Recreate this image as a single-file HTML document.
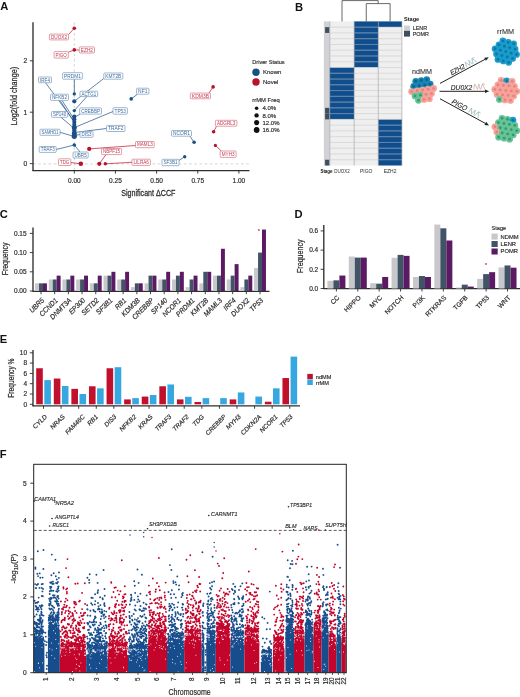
<!DOCTYPE html>
<html><head><meta charset="utf-8"><style>
html,body{margin:0;padding:0;background:#fff;}
svg{display:block;will-change:transform;}
text{font-family:"Liberation Sans", sans-serif;}
</style></head><body>
<svg width="520" height="697" viewBox="0 0 520 697">
<defs><filter id="bl" x="-20%" y="-20%" width="140%" height="140%"><feGaussianBlur stdDeviation="0.55"/></filter></defs>
<rect width="520" height="697" fill="#fff"/>
<text x="0.30" y="10.40" font-size="11.2" fill="#111" font-weight="bold">A</text>
<text x="295.00" y="10.80" font-size="11.2" fill="#111" font-weight="bold">B</text>
<text x="-0.20" y="218.40" font-size="11.2" fill="#111" font-weight="bold">C</text>
<text x="294.60" y="218.40" font-size="11.2" fill="#111" font-weight="bold">D</text>
<text x="-0.30" y="343.10" font-size="11.2" fill="#111" font-weight="bold">E</text>
<text x="-0.30" y="457.80" font-size="11.2" fill="#111" font-weight="bold">F</text>
<line x1="74.30" y1="22.50" x2="74.30" y2="170.00" stroke="#cfcfcf" stroke-width="0.9" stroke-dasharray="2.6,2.6"/>
<line x1="33.00" y1="163.90" x2="249.00" y2="163.90" stroke="#cfcfcf" stroke-width="0.9" stroke-dasharray="2.6,2.6"/>
<line x1="33.00" y1="22.30" x2="33.00" y2="171.00" stroke="#2e2e2e" stroke-width="1.35"/>
<line x1="32.50" y1="170.60" x2="249.50" y2="170.60" stroke="#2e2e2e" stroke-width="1.35"/>
<line x1="29.80" y1="163.60" x2="33.00" y2="163.60" stroke="#2e2e2e" stroke-width="0.9"/>
<text x="27.20" y="165.90" font-size="6.6" fill="#2c2c2c" stroke="#2c2c2c" stroke-width="0.185" text-anchor="end">0</text>
<line x1="29.80" y1="112.20" x2="33.00" y2="112.20" stroke="#2e2e2e" stroke-width="0.9"/>
<text x="27.20" y="114.50" font-size="6.6" fill="#2c2c2c" stroke="#2c2c2c" stroke-width="0.185" text-anchor="end">1</text>
<line x1="29.80" y1="60.80" x2="33.00" y2="60.80" stroke="#2e2e2e" stroke-width="0.9"/>
<text x="27.20" y="63.10" font-size="6.6" fill="#2c2c2c" stroke="#2c2c2c" stroke-width="0.185" text-anchor="end">2</text>
<line x1="74.30" y1="170.60" x2="74.30" y2="173.60" stroke="#2e2e2e" stroke-width="0.9"/>
<text x="74.30" y="182.60" font-size="6.5" fill="#2c2c2c" stroke="#2c2c2c" stroke-width="0.182" text-anchor="middle">0.00</text>
<line x1="115.45" y1="170.60" x2="115.45" y2="173.60" stroke="#2e2e2e" stroke-width="0.9"/>
<text x="115.45" y="182.60" font-size="6.5" fill="#2c2c2c" stroke="#2c2c2c" stroke-width="0.182" text-anchor="middle">0.25</text>
<line x1="156.60" y1="170.60" x2="156.60" y2="173.60" stroke="#2e2e2e" stroke-width="0.9"/>
<text x="156.60" y="182.60" font-size="6.5" fill="#2c2c2c" stroke="#2c2c2c" stroke-width="0.182" text-anchor="middle">0.50</text>
<line x1="197.75" y1="170.60" x2="197.75" y2="173.60" stroke="#2e2e2e" stroke-width="0.9"/>
<text x="197.75" y="182.60" font-size="6.5" fill="#2c2c2c" stroke="#2c2c2c" stroke-width="0.182" text-anchor="middle">0.75</text>
<line x1="238.90" y1="170.60" x2="238.90" y2="173.60" stroke="#2e2e2e" stroke-width="0.9"/>
<text x="238.90" y="182.60" font-size="6.5" fill="#2c2c2c" stroke="#2c2c2c" stroke-width="0.182" text-anchor="middle">1.00</text>
<text x="148.30" y="196.00" font-size="9.2" fill="#2c2c2c" stroke="#2c2c2c" stroke-width="0.258" text-anchor="middle" textLength="54.20" lengthAdjust="spacingAndGlyphs">Significant ΔCCF</text>
<text x="16.60" y="96.10" font-size="8.2" fill="#2c2c2c" stroke="#2c2c2c" stroke-width="0.230" text-anchor="middle" textLength="58.40" lengthAdjust="spacingAndGlyphs" transform="rotate(-90 16.60 96.10)">Log2(fold change)</text>
<line x1="68.50" y1="34.60" x2="74.30" y2="28.30" stroke="#b8112b" stroke-width="0.7"/>
<line x1="68.30" y1="52.20" x2="74.30" y2="49.90" stroke="#b8112b" stroke-width="0.7"/>
<line x1="74.30" y1="49.90" x2="79.30" y2="50.00" stroke="#b8112b" stroke-width="0.7"/>
<line x1="74.30" y1="79.20" x2="74.30" y2="93.80" stroke="#1c4f86" stroke-width="0.7"/>
<line x1="45.50" y1="82.70" x2="74.30" y2="121.50" stroke="#1c4f86" stroke-width="0.7"/>
<line x1="103.80" y1="78.50" x2="74.30" y2="101.30" stroke="#1c4f86" stroke-width="0.7"/>
<line x1="87.00" y1="96.40" x2="74.30" y2="110.60" stroke="#1c4f86" stroke-width="0.7"/>
<line x1="80.00" y1="114.00" x2="74.30" y2="117.50" stroke="#1c4f86" stroke-width="0.7"/>
<line x1="62.00" y1="100.40" x2="74.30" y2="119.50" stroke="#1c4f86" stroke-width="0.7"/>
<line x1="60.00" y1="100.40" x2="74.30" y2="122.50" stroke="#1c4f86" stroke-width="0.7"/>
<line x1="113.00" y1="111.50" x2="74.30" y2="127.60" stroke="#1c4f86" stroke-width="0.7"/>
<line x1="61.00" y1="117.30" x2="74.30" y2="128.50" stroke="#1c4f86" stroke-width="0.7"/>
<line x1="106.50" y1="128.50" x2="74.30" y2="132.50" stroke="#1c4f86" stroke-width="0.7"/>
<line x1="60.00" y1="132.30" x2="74.30" y2="136.50" stroke="#1c4f86" stroke-width="0.7"/>
<line x1="80.00" y1="134.50" x2="74.30" y2="135.50" stroke="#1c4f86" stroke-width="0.7"/>
<line x1="56.20" y1="149.50" x2="74.30" y2="145.00" stroke="#1c4f86" stroke-width="0.7"/>
<line x1="80.00" y1="152.00" x2="74.30" y2="145.00" stroke="#1c4f86" stroke-width="0.7"/>
<line x1="131.20" y1="98.90" x2="137.50" y2="94.20" stroke="#1c4f86" stroke-width="0.7"/>
<line x1="194.10" y1="142.30" x2="190.00" y2="136.20" stroke="#1c4f86" stroke-width="0.7"/>
<line x1="184.70" y1="156.70" x2="179.00" y2="160.50" stroke="#1c4f86" stroke-width="0.7"/>
<line x1="213.10" y1="86.90" x2="209.00" y2="93.10" stroke="#b8112b" stroke-width="0.7"/>
<line x1="213.60" y1="131.80" x2="216.50" y2="126.20" stroke="#b8112b" stroke-width="0.7"/>
<line x1="215.40" y1="145.40" x2="221.50" y2="151.20" stroke="#b8112b" stroke-width="0.7"/>
<line x1="89.20" y1="148.90" x2="135.50" y2="145.50" stroke="#b8112b" stroke-width="0.7"/>
<line x1="99.30" y1="163.80" x2="106.00" y2="154.60" stroke="#b8112b" stroke-width="0.7"/>
<line x1="105.30" y1="163.80" x2="132.00" y2="162.30" stroke="#b8112b" stroke-width="0.7"/>
<line x1="70.80" y1="162.50" x2="80.80" y2="163.80" stroke="#b8112b" stroke-width="0.7"/>
<circle cx="74.30" cy="28.30" r="1.80" fill="#b8112b"/>
<circle cx="74.30" cy="49.90" r="1.80" fill="#b8112b"/>
<circle cx="74.30" cy="93.90" r="1.70" fill="#1c4f86"/>
<circle cx="74.30" cy="101.30" r="2.10" fill="#1c4f86"/>
<circle cx="74.30" cy="110.60" r="1.70" fill="#1c4f86"/>
<circle cx="74.30" cy="116.50" r="2.10" fill="#1c4f86"/>
<circle cx="74.30" cy="119.20" r="2.10" fill="#1c4f86"/>
<circle cx="74.30" cy="122.00" r="2.10" fill="#1c4f86"/>
<circle cx="74.30" cy="124.50" r="2.00" fill="#1c4f86"/>
<circle cx="74.30" cy="127.60" r="2.50" fill="#1c4f86"/>
<circle cx="74.30" cy="130.50" r="2.20" fill="#1c4f86"/>
<circle cx="74.30" cy="133.50" r="2.50" fill="#1c4f86"/>
<circle cx="74.30" cy="136.30" r="2.60" fill="#1c4f86"/>
<circle cx="74.30" cy="145.00" r="1.80" fill="#1c4f86"/>
<circle cx="131.20" cy="98.90" r="1.80" fill="#1c4f86"/>
<circle cx="194.10" cy="142.30" r="1.80" fill="#1c4f86"/>
<circle cx="184.70" cy="156.70" r="1.70" fill="#1c4f86"/>
<circle cx="213.10" cy="86.90" r="1.80" fill="#b8112b"/>
<circle cx="213.60" cy="131.80" r="1.80" fill="#b8112b"/>
<circle cx="215.40" cy="145.40" r="1.60" fill="#b8112b"/>
<circle cx="89.20" cy="148.90" r="2.10" fill="#b8112b"/>
<circle cx="80.80" cy="163.80" r="2.30" fill="#b8112b"/>
<circle cx="99.30" cy="163.80" r="2.10" fill="#b8112b"/>
<circle cx="105.30" cy="163.80" r="1.70" fill="#b8112b"/>
<rect x="49.40" y="34.10" width="19.10" height="5.80" rx="0.9" fill="#fff" stroke="#d0596b" stroke-width="0.6"/>
<text x="58.95" y="38.70" font-size="4.8" fill="#c0394f" text-anchor="middle" textLength="16.10" lengthAdjust="spacingAndGlyphs">DUOX2</text>
<rect x="54.10" y="51.60" width="14.20" height="6.50" rx="0.9" fill="#fff" stroke="#d0596b" stroke-width="0.6"/>
<text x="61.20" y="56.55" font-size="4.8" fill="#c0394f" text-anchor="middle" textLength="11.20" lengthAdjust="spacingAndGlyphs">PIGO</text>
<rect x="79.30" y="46.90" width="15.20" height="6.10" rx="0.9" fill="#fff" stroke="#d0596b" stroke-width="0.6"/>
<text x="86.90" y="51.65" font-size="4.8" fill="#c0394f" text-anchor="middle" textLength="12.20" lengthAdjust="spacingAndGlyphs">EZH2</text>
<rect x="62.60" y="72.70" width="19.70" height="6.50" rx="0.9" fill="#fff" stroke="#5d86b2" stroke-width="0.6"/>
<text x="72.45" y="77.65" font-size="4.8" fill="#3f6d9c" text-anchor="middle" textLength="16.70" lengthAdjust="spacingAndGlyphs">PRDM1</text>
<rect x="38.50" y="77.00" width="13.00" height="5.70" rx="0.9" fill="#fff" stroke="#5d86b2" stroke-width="0.6"/>
<text x="45.00" y="81.55" font-size="4.8" fill="#3f6d9c" text-anchor="middle" textLength="10.00" lengthAdjust="spacingAndGlyphs">IRF4</text>
<rect x="103.80" y="73.00" width="19.00" height="6.20" rx="0.9" fill="#fff" stroke="#5d86b2" stroke-width="0.6"/>
<text x="113.30" y="77.80" font-size="4.8" fill="#3f6d9c" text-anchor="middle" textLength="16.00" lengthAdjust="spacingAndGlyphs">KMT2B</text>
<rect x="50.50" y="94.20" width="18.00" height="6.20" rx="0.9" fill="#fff" stroke="#5d86b2" stroke-width="0.6"/>
<text x="59.50" y="99.00" font-size="4.8" fill="#3f6d9c" text-anchor="middle" textLength="15.00" lengthAdjust="spacingAndGlyphs">NFKB2</text>
<rect x="80.00" y="91.20" width="17.70" height="5.40" rx="0.9" fill="#fff" stroke="#5d86b2" stroke-width="0.6"/>
<text x="88.85" y="95.60" font-size="4.8" fill="#3f6d9c" text-anchor="middle" textLength="14.70" lengthAdjust="spacingAndGlyphs">ACTG1</text>
<rect x="136.60" y="88.20" width="12.30" height="6.00" rx="0.9" fill="#fff" stroke="#5d86b2" stroke-width="0.6"/>
<text x="142.75" y="92.90" font-size="4.8" fill="#3f6d9c" text-anchor="middle" textLength="9.30" lengthAdjust="spacingAndGlyphs">NF1</text>
<rect x="79.70" y="107.90" width="21.80" height="6.20" rx="0.9" fill="#fff" stroke="#5d86b2" stroke-width="0.6"/>
<text x="90.60" y="112.70" font-size="4.8" fill="#3f6d9c" text-anchor="middle" textLength="18.80" lengthAdjust="spacingAndGlyphs">CREBBP</text>
<rect x="51.50" y="111.50" width="16.20" height="5.80" rx="0.9" fill="#fff" stroke="#5d86b2" stroke-width="0.6"/>
<text x="59.60" y="116.10" font-size="4.8" fill="#3f6d9c" text-anchor="middle" textLength="13.20" lengthAdjust="spacingAndGlyphs">SP140</text>
<rect x="113.00" y="107.70" width="14.40" height="6.50" rx="0.9" fill="#fff" stroke="#5d86b2" stroke-width="0.6"/>
<text x="120.20" y="112.65" font-size="4.8" fill="#3f6d9c" text-anchor="middle" textLength="11.40" lengthAdjust="spacingAndGlyphs">TP53</text>
<rect x="106.50" y="125.40" width="18.50" height="6.10" rx="0.9" fill="#fff" stroke="#5d86b2" stroke-width="0.6"/>
<text x="115.75" y="130.15" font-size="4.8" fill="#3f6d9c" text-anchor="middle" textLength="15.50" lengthAdjust="spacingAndGlyphs">TRAF2</text>
<rect x="40.00" y="129.20" width="20.00" height="6.10" rx="0.9" fill="#fff" stroke="#5d86b2" stroke-width="0.6"/>
<text x="50.00" y="133.95" font-size="4.8" fill="#3f6d9c" text-anchor="middle" textLength="17.00" lengthAdjust="spacingAndGlyphs">SAMHD1</text>
<rect x="80.00" y="131.60" width="13.00" height="5.70" rx="0.9" fill="#fff" stroke="#5d86b2" stroke-width="0.6"/>
<text x="86.50" y="136.15" font-size="4.8" fill="#3f6d9c" text-anchor="middle" textLength="10.00" lengthAdjust="spacingAndGlyphs">DIS3</text>
<rect x="39.20" y="146.50" width="17.00" height="5.90" rx="0.9" fill="#fff" stroke="#5d86b2" stroke-width="0.6"/>
<text x="47.70" y="151.15" font-size="4.8" fill="#3f6d9c" text-anchor="middle" textLength="14.00" lengthAdjust="spacingAndGlyphs">TRAF3</text>
<rect x="73.00" y="152.00" width="15.20" height="6.00" rx="0.9" fill="#fff" stroke="#5d86b2" stroke-width="0.6"/>
<text x="80.60" y="156.70" font-size="4.8" fill="#3f6d9c" text-anchor="middle" textLength="12.20" lengthAdjust="spacingAndGlyphs">UBR5</text>
<rect x="190.30" y="93.10" width="20.20" height="5.70" rx="0.9" fill="#fff" stroke="#d0596b" stroke-width="0.6"/>
<text x="200.40" y="97.65" font-size="4.8" fill="#c0394f" text-anchor="middle" textLength="17.20" lengthAdjust="spacingAndGlyphs">KDM3B</text>
<rect x="215.40" y="120.30" width="21.50" height="5.90" rx="0.9" fill="#fff" stroke="#d0596b" stroke-width="0.6"/>
<text x="226.15" y="124.95" font-size="4.8" fill="#c0394f" text-anchor="middle" textLength="18.50" lengthAdjust="spacingAndGlyphs">ADGRL3</text>
<rect x="171.50" y="130.50" width="20.00" height="5.70" rx="0.9" fill="#fff" stroke="#5d86b2" stroke-width="0.6"/>
<text x="181.50" y="135.05" font-size="4.8" fill="#3f6d9c" text-anchor="middle" textLength="17.00" lengthAdjust="spacingAndGlyphs">NCOR1</text>
<rect x="220.20" y="151.00" width="15.90" height="6.40" rx="0.9" fill="#fff" stroke="#d0596b" stroke-width="0.6"/>
<text x="228.15" y="155.90" font-size="4.8" fill="#c0394f" text-anchor="middle" textLength="12.90" lengthAdjust="spacingAndGlyphs">MYH3</text>
<rect x="162.00" y="159.30" width="17.00" height="6.40" rx="0.9" fill="#fff" stroke="#5d86b2" stroke-width="0.6"/>
<text x="170.50" y="164.20" font-size="4.8" fill="#3f6d9c" text-anchor="middle" textLength="14.00" lengthAdjust="spacingAndGlyphs">SF3B1</text>
<rect x="135.50" y="141.50" width="18.70" height="6.20" rx="0.9" fill="#fff" stroke="#d0596b" stroke-width="0.6"/>
<text x="144.85" y="146.30" font-size="4.8" fill="#c0394f" text-anchor="middle" textLength="15.70" lengthAdjust="spacingAndGlyphs">MAML3</text>
<rect x="101.50" y="148.50" width="20.10" height="6.10" rx="0.9" fill="#fff" stroke="#d0596b" stroke-width="0.6"/>
<text x="111.55" y="153.25" font-size="4.8" fill="#c0394f" text-anchor="middle" textLength="17.10" lengthAdjust="spacingAndGlyphs">NBPF15</text>
<rect x="132.00" y="159.20" width="18.40" height="6.20" rx="0.9" fill="#fff" stroke="#d0596b" stroke-width="0.6"/>
<text x="141.20" y="164.00" font-size="4.8" fill="#c0394f" text-anchor="middle" textLength="15.40" lengthAdjust="spacingAndGlyphs">LILRA6</text>
<rect x="58.50" y="158.80" width="12.30" height="6.70" rx="0.9" fill="#fff" stroke="#d0596b" stroke-width="0.6"/>
<text x="64.65" y="163.85" font-size="4.8" fill="#c0394f" text-anchor="middle" textLength="9.30" lengthAdjust="spacingAndGlyphs">TDG</text>
<text x="252.30" y="64.00" font-size="6.0" fill="#2c2c2c" stroke="#2c2c2c" stroke-width="0.168" textLength="32.30" lengthAdjust="spacingAndGlyphs">Driver Status</text>
<circle cx="256.00" cy="72.20" r="3.70" fill="#1c4f86"/>
<circle cx="256.00" cy="82.00" r="3.70" fill="#b8112b"/>
<text x="263.00" y="74.30" font-size="6.0" fill="#2c2c2c" stroke="#2c2c2c" stroke-width="0.168">Known</text>
<text x="263.00" y="84.20" font-size="6.0" fill="#2c2c2c" stroke="#2c2c2c" stroke-width="0.168">Novel</text>
<text x="252.30" y="101.50" font-size="6.0" fill="#2c2c2c" stroke="#2c2c2c" stroke-width="0.168" textLength="27.40" lengthAdjust="spacingAndGlyphs">rrMM Freq</text>
<circle cx="256.60" cy="108.20" r="1.80" fill="#111"/>
<text x="262.50" y="110.30" font-size="6.0" fill="#2c2c2c" stroke="#2c2c2c" stroke-width="0.168">4.0%</text>
<circle cx="256.60" cy="115.40" r="2.20" fill="#111"/>
<text x="262.50" y="117.50" font-size="6.0" fill="#2c2c2c" stroke="#2c2c2c" stroke-width="0.168">8.0%</text>
<circle cx="256.60" cy="122.60" r="2.55" fill="#111"/>
<text x="262.50" y="124.70" font-size="6.0" fill="#2c2c2c" stroke="#2c2c2c" stroke-width="0.168">12.0%</text>
<circle cx="256.60" cy="130.00" r="2.90" fill="#111"/>
<text x="262.50" y="132.10" font-size="6.0" fill="#2c2c2c" stroke="#2c2c2c" stroke-width="0.168">16.0%</text>
<rect x="324.30" y="21.40" width="5.50" height="144.10" fill="#d2d2d6"/>
<rect x="325.10" y="27.16" width="4.30" height="5.76" fill="#3c4e62"/>
<rect x="325.10" y="107.86" width="4.30" height="5.76" fill="#3c4e62"/>
<rect x="325.10" y="113.62" width="4.30" height="5.76" fill="#3c4e62"/>
<rect x="325.10" y="159.74" width="4.30" height="5.76" fill="#3c4e62"/>
<rect x="329.80" y="21.40" width="24.40" height="5.76" fill="#efefef"/>
<rect x="354.20" y="21.40" width="24.10" height="5.76" fill="#104d8c"/>
<rect x="378.30" y="21.40" width="23.60" height="5.76" fill="#104d8c"/>
<rect x="329.80" y="27.16" width="24.40" height="5.76" fill="#efefef"/>
<rect x="354.20" y="27.16" width="24.10" height="5.76" fill="#104d8c"/>
<rect x="378.30" y="27.16" width="23.60" height="5.76" fill="#efefef"/>
<rect x="329.80" y="32.93" width="24.40" height="5.76" fill="#efefef"/>
<rect x="354.20" y="32.93" width="24.10" height="5.76" fill="#104d8c"/>
<rect x="378.30" y="32.93" width="23.60" height="5.76" fill="#efefef"/>
<rect x="329.80" y="38.69" width="24.40" height="5.76" fill="#efefef"/>
<rect x="354.20" y="38.69" width="24.10" height="5.76" fill="#104d8c"/>
<rect x="378.30" y="38.69" width="23.60" height="5.76" fill="#efefef"/>
<rect x="329.80" y="44.46" width="24.40" height="5.76" fill="#efefef"/>
<rect x="354.20" y="44.46" width="24.10" height="5.76" fill="#104d8c"/>
<rect x="378.30" y="44.46" width="23.60" height="5.76" fill="#efefef"/>
<rect x="329.80" y="50.22" width="24.40" height="5.76" fill="#efefef"/>
<rect x="354.20" y="50.22" width="24.10" height="5.76" fill="#104d8c"/>
<rect x="378.30" y="50.22" width="23.60" height="5.76" fill="#efefef"/>
<rect x="329.80" y="55.98" width="24.40" height="5.76" fill="#efefef"/>
<rect x="354.20" y="55.98" width="24.10" height="5.76" fill="#104d8c"/>
<rect x="378.30" y="55.98" width="23.60" height="5.76" fill="#efefef"/>
<rect x="329.80" y="61.75" width="24.40" height="5.76" fill="#efefef"/>
<rect x="354.20" y="61.75" width="24.10" height="5.76" fill="#104d8c"/>
<rect x="378.30" y="61.75" width="23.60" height="5.76" fill="#efefef"/>
<rect x="329.80" y="67.51" width="24.40" height="5.76" fill="#104d8c"/>
<rect x="354.20" y="67.51" width="24.10" height="5.76" fill="#efefef"/>
<rect x="378.30" y="67.51" width="23.60" height="5.76" fill="#efefef"/>
<rect x="329.80" y="73.28" width="24.40" height="5.76" fill="#104d8c"/>
<rect x="354.20" y="73.28" width="24.10" height="5.76" fill="#efefef"/>
<rect x="378.30" y="73.28" width="23.60" height="5.76" fill="#efefef"/>
<rect x="329.80" y="79.04" width="24.40" height="5.76" fill="#104d8c"/>
<rect x="354.20" y="79.04" width="24.10" height="5.76" fill="#efefef"/>
<rect x="378.30" y="79.04" width="23.60" height="5.76" fill="#efefef"/>
<rect x="329.80" y="84.80" width="24.40" height="5.76" fill="#104d8c"/>
<rect x="354.20" y="84.80" width="24.10" height="5.76" fill="#efefef"/>
<rect x="378.30" y="84.80" width="23.60" height="5.76" fill="#efefef"/>
<rect x="329.80" y="90.57" width="24.40" height="5.76" fill="#104d8c"/>
<rect x="354.20" y="90.57" width="24.10" height="5.76" fill="#efefef"/>
<rect x="378.30" y="90.57" width="23.60" height="5.76" fill="#efefef"/>
<rect x="329.80" y="96.33" width="24.40" height="5.76" fill="#104d8c"/>
<rect x="354.20" y="96.33" width="24.10" height="5.76" fill="#efefef"/>
<rect x="378.30" y="96.33" width="23.60" height="5.76" fill="#efefef"/>
<rect x="329.80" y="102.10" width="24.40" height="5.76" fill="#104d8c"/>
<rect x="354.20" y="102.10" width="24.10" height="5.76" fill="#efefef"/>
<rect x="378.30" y="102.10" width="23.60" height="5.76" fill="#efefef"/>
<rect x="329.80" y="107.86" width="24.40" height="5.76" fill="#104d8c"/>
<rect x="354.20" y="107.86" width="24.10" height="5.76" fill="#efefef"/>
<rect x="378.30" y="107.86" width="23.60" height="5.76" fill="#efefef"/>
<rect x="329.80" y="113.62" width="24.40" height="5.76" fill="#104d8c"/>
<rect x="354.20" y="113.62" width="24.10" height="5.76" fill="#efefef"/>
<rect x="378.30" y="113.62" width="23.60" height="5.76" fill="#efefef"/>
<rect x="329.80" y="119.39" width="24.40" height="5.76" fill="#efefef"/>
<rect x="354.20" y="119.39" width="24.10" height="5.76" fill="#efefef"/>
<rect x="378.30" y="119.39" width="23.60" height="5.76" fill="#104d8c"/>
<rect x="329.80" y="125.15" width="24.40" height="5.76" fill="#efefef"/>
<rect x="354.20" y="125.15" width="24.10" height="5.76" fill="#efefef"/>
<rect x="378.30" y="125.15" width="23.60" height="5.76" fill="#104d8c"/>
<rect x="329.80" y="130.92" width="24.40" height="5.76" fill="#efefef"/>
<rect x="354.20" y="130.92" width="24.10" height="5.76" fill="#efefef"/>
<rect x="378.30" y="130.92" width="23.60" height="5.76" fill="#104d8c"/>
<rect x="329.80" y="136.68" width="24.40" height="5.76" fill="#efefef"/>
<rect x="354.20" y="136.68" width="24.10" height="5.76" fill="#efefef"/>
<rect x="378.30" y="136.68" width="23.60" height="5.76" fill="#104d8c"/>
<rect x="329.80" y="142.44" width="24.40" height="5.76" fill="#efefef"/>
<rect x="354.20" y="142.44" width="24.10" height="5.76" fill="#efefef"/>
<rect x="378.30" y="142.44" width="23.60" height="5.76" fill="#104d8c"/>
<rect x="329.80" y="148.21" width="24.40" height="5.76" fill="#efefef"/>
<rect x="354.20" y="148.21" width="24.10" height="5.76" fill="#efefef"/>
<rect x="378.30" y="148.21" width="23.60" height="5.76" fill="#104d8c"/>
<rect x="329.80" y="153.97" width="24.40" height="5.76" fill="#efefef"/>
<rect x="354.20" y="153.97" width="24.10" height="5.76" fill="#efefef"/>
<rect x="378.30" y="153.97" width="23.60" height="5.76" fill="#104d8c"/>
<rect x="329.80" y="159.74" width="24.40" height="5.76" fill="#efefef"/>
<rect x="354.20" y="159.74" width="24.10" height="5.76" fill="#efefef"/>
<rect x="378.30" y="159.74" width="23.60" height="5.76" fill="#104d8c"/>
<line x1="330.10" y1="27.16" x2="353.90" y2="27.16" stroke="#c9c9c9" stroke-width="0.6"/>
<line x1="354.50" y1="27.16" x2="378.00" y2="27.16" stroke="#c9c9c9" stroke-width="0.6"/>
<line x1="378.60" y1="27.16" x2="401.60" y2="27.16" stroke="#c9c9c9" stroke-width="0.6"/>
<line x1="330.10" y1="32.93" x2="353.90" y2="32.93" stroke="#c9c9c9" stroke-width="0.6"/>
<line x1="354.50" y1="32.93" x2="378.00" y2="32.93" stroke="#c9c9c9" stroke-width="0.6"/>
<line x1="378.60" y1="32.93" x2="401.60" y2="32.93" stroke="#c9c9c9" stroke-width="0.6"/>
<line x1="330.10" y1="38.69" x2="353.90" y2="38.69" stroke="#c9c9c9" stroke-width="0.6"/>
<line x1="354.50" y1="38.69" x2="378.00" y2="38.69" stroke="#c9c9c9" stroke-width="0.6"/>
<line x1="378.60" y1="38.69" x2="401.60" y2="38.69" stroke="#c9c9c9" stroke-width="0.6"/>
<line x1="330.10" y1="44.46" x2="353.90" y2="44.46" stroke="#c9c9c9" stroke-width="0.6"/>
<line x1="354.50" y1="44.46" x2="378.00" y2="44.46" stroke="#c9c9c9" stroke-width="0.6"/>
<line x1="378.60" y1="44.46" x2="401.60" y2="44.46" stroke="#c9c9c9" stroke-width="0.6"/>
<line x1="330.10" y1="50.22" x2="353.90" y2="50.22" stroke="#c9c9c9" stroke-width="0.6"/>
<line x1="354.50" y1="50.22" x2="378.00" y2="50.22" stroke="#c9c9c9" stroke-width="0.6"/>
<line x1="378.60" y1="50.22" x2="401.60" y2="50.22" stroke="#c9c9c9" stroke-width="0.6"/>
<line x1="330.10" y1="55.98" x2="353.90" y2="55.98" stroke="#c9c9c9" stroke-width="0.6"/>
<line x1="354.50" y1="55.98" x2="378.00" y2="55.98" stroke="#c9c9c9" stroke-width="0.6"/>
<line x1="378.60" y1="55.98" x2="401.60" y2="55.98" stroke="#c9c9c9" stroke-width="0.6"/>
<line x1="330.10" y1="61.75" x2="353.90" y2="61.75" stroke="#c9c9c9" stroke-width="0.6"/>
<line x1="354.50" y1="61.75" x2="378.00" y2="61.75" stroke="#c9c9c9" stroke-width="0.6"/>
<line x1="378.60" y1="61.75" x2="401.60" y2="61.75" stroke="#c9c9c9" stroke-width="0.6"/>
<line x1="330.10" y1="67.51" x2="353.90" y2="67.51" stroke="#c9c9c9" stroke-width="0.6"/>
<line x1="354.50" y1="67.51" x2="378.00" y2="67.51" stroke="#c9c9c9" stroke-width="0.6"/>
<line x1="378.60" y1="67.51" x2="401.60" y2="67.51" stroke="#c9c9c9" stroke-width="0.6"/>
<line x1="330.10" y1="73.28" x2="353.90" y2="73.28" stroke="#c9c9c9" stroke-width="0.6"/>
<line x1="354.50" y1="73.28" x2="378.00" y2="73.28" stroke="#c9c9c9" stroke-width="0.6"/>
<line x1="378.60" y1="73.28" x2="401.60" y2="73.28" stroke="#c9c9c9" stroke-width="0.6"/>
<line x1="330.10" y1="79.04" x2="353.90" y2="79.04" stroke="#c9c9c9" stroke-width="0.6"/>
<line x1="354.50" y1="79.04" x2="378.00" y2="79.04" stroke="#c9c9c9" stroke-width="0.6"/>
<line x1="378.60" y1="79.04" x2="401.60" y2="79.04" stroke="#c9c9c9" stroke-width="0.6"/>
<line x1="330.10" y1="84.80" x2="353.90" y2="84.80" stroke="#c9c9c9" stroke-width="0.6"/>
<line x1="354.50" y1="84.80" x2="378.00" y2="84.80" stroke="#c9c9c9" stroke-width="0.6"/>
<line x1="378.60" y1="84.80" x2="401.60" y2="84.80" stroke="#c9c9c9" stroke-width="0.6"/>
<line x1="330.10" y1="90.57" x2="353.90" y2="90.57" stroke="#c9c9c9" stroke-width="0.6"/>
<line x1="354.50" y1="90.57" x2="378.00" y2="90.57" stroke="#c9c9c9" stroke-width="0.6"/>
<line x1="378.60" y1="90.57" x2="401.60" y2="90.57" stroke="#c9c9c9" stroke-width="0.6"/>
<line x1="330.10" y1="96.33" x2="353.90" y2="96.33" stroke="#c9c9c9" stroke-width="0.6"/>
<line x1="354.50" y1="96.33" x2="378.00" y2="96.33" stroke="#c9c9c9" stroke-width="0.6"/>
<line x1="378.60" y1="96.33" x2="401.60" y2="96.33" stroke="#c9c9c9" stroke-width="0.6"/>
<line x1="330.10" y1="102.10" x2="353.90" y2="102.10" stroke="#c9c9c9" stroke-width="0.6"/>
<line x1="354.50" y1="102.10" x2="378.00" y2="102.10" stroke="#c9c9c9" stroke-width="0.6"/>
<line x1="378.60" y1="102.10" x2="401.60" y2="102.10" stroke="#c9c9c9" stroke-width="0.6"/>
<line x1="330.10" y1="107.86" x2="353.90" y2="107.86" stroke="#c9c9c9" stroke-width="0.6"/>
<line x1="354.50" y1="107.86" x2="378.00" y2="107.86" stroke="#c9c9c9" stroke-width="0.6"/>
<line x1="378.60" y1="107.86" x2="401.60" y2="107.86" stroke="#c9c9c9" stroke-width="0.6"/>
<line x1="330.10" y1="113.62" x2="353.90" y2="113.62" stroke="#c9c9c9" stroke-width="0.6"/>
<line x1="354.50" y1="113.62" x2="378.00" y2="113.62" stroke="#c9c9c9" stroke-width="0.6"/>
<line x1="378.60" y1="113.62" x2="401.60" y2="113.62" stroke="#c9c9c9" stroke-width="0.6"/>
<line x1="330.10" y1="119.39" x2="353.90" y2="119.39" stroke="#c9c9c9" stroke-width="0.6"/>
<line x1="354.50" y1="119.39" x2="378.00" y2="119.39" stroke="#c9c9c9" stroke-width="0.6"/>
<line x1="378.60" y1="119.39" x2="401.60" y2="119.39" stroke="#c9c9c9" stroke-width="0.6"/>
<line x1="330.10" y1="125.15" x2="353.90" y2="125.15" stroke="#c9c9c9" stroke-width="0.6"/>
<line x1="354.50" y1="125.15" x2="378.00" y2="125.15" stroke="#c9c9c9" stroke-width="0.6"/>
<line x1="378.60" y1="125.15" x2="401.60" y2="125.15" stroke="#c9c9c9" stroke-width="0.6"/>
<line x1="330.10" y1="130.92" x2="353.90" y2="130.92" stroke="#c9c9c9" stroke-width="0.6"/>
<line x1="354.50" y1="130.92" x2="378.00" y2="130.92" stroke="#c9c9c9" stroke-width="0.6"/>
<line x1="378.60" y1="130.92" x2="401.60" y2="130.92" stroke="#c9c9c9" stroke-width="0.6"/>
<line x1="330.10" y1="136.68" x2="353.90" y2="136.68" stroke="#c9c9c9" stroke-width="0.6"/>
<line x1="354.50" y1="136.68" x2="378.00" y2="136.68" stroke="#c9c9c9" stroke-width="0.6"/>
<line x1="378.60" y1="136.68" x2="401.60" y2="136.68" stroke="#c9c9c9" stroke-width="0.6"/>
<line x1="330.10" y1="142.44" x2="353.90" y2="142.44" stroke="#c9c9c9" stroke-width="0.6"/>
<line x1="354.50" y1="142.44" x2="378.00" y2="142.44" stroke="#c9c9c9" stroke-width="0.6"/>
<line x1="378.60" y1="142.44" x2="401.60" y2="142.44" stroke="#c9c9c9" stroke-width="0.6"/>
<line x1="330.10" y1="148.21" x2="353.90" y2="148.21" stroke="#c9c9c9" stroke-width="0.6"/>
<line x1="354.50" y1="148.21" x2="378.00" y2="148.21" stroke="#c9c9c9" stroke-width="0.6"/>
<line x1="378.60" y1="148.21" x2="401.60" y2="148.21" stroke="#c9c9c9" stroke-width="0.6"/>
<line x1="330.10" y1="153.97" x2="353.90" y2="153.97" stroke="#c9c9c9" stroke-width="0.6"/>
<line x1="354.50" y1="153.97" x2="378.00" y2="153.97" stroke="#c9c9c9" stroke-width="0.6"/>
<line x1="378.60" y1="153.97" x2="401.60" y2="153.97" stroke="#c9c9c9" stroke-width="0.6"/>
<line x1="330.10" y1="159.74" x2="353.90" y2="159.74" stroke="#c9c9c9" stroke-width="0.6"/>
<line x1="354.50" y1="159.74" x2="378.00" y2="159.74" stroke="#c9c9c9" stroke-width="0.6"/>
<line x1="378.60" y1="159.74" x2="401.60" y2="159.74" stroke="#c9c9c9" stroke-width="0.6"/>
<g>
<line x1="354.50" y1="27.16" x2="378.00" y2="27.16" stroke="#3f6e9e" stroke-width="0.7"/>
<line x1="354.50" y1="32.93" x2="378.00" y2="32.93" stroke="#3f6e9e" stroke-width="0.7"/>
<line x1="354.50" y1="38.69" x2="378.00" y2="38.69" stroke="#3f6e9e" stroke-width="0.7"/>
<line x1="354.50" y1="44.46" x2="378.00" y2="44.46" stroke="#3f6e9e" stroke-width="0.7"/>
<line x1="354.50" y1="50.22" x2="378.00" y2="50.22" stroke="#3f6e9e" stroke-width="0.7"/>
<line x1="354.50" y1="55.98" x2="378.00" y2="55.98" stroke="#3f6e9e" stroke-width="0.7"/>
<line x1="354.50" y1="61.75" x2="378.00" y2="61.75" stroke="#3f6e9e" stroke-width="0.7"/>
<line x1="330.10" y1="73.28" x2="353.90" y2="73.28" stroke="#3f6e9e" stroke-width="0.7"/>
<line x1="330.10" y1="79.04" x2="353.90" y2="79.04" stroke="#3f6e9e" stroke-width="0.7"/>
<line x1="330.10" y1="84.80" x2="353.90" y2="84.80" stroke="#3f6e9e" stroke-width="0.7"/>
<line x1="330.10" y1="90.57" x2="353.90" y2="90.57" stroke="#3f6e9e" stroke-width="0.7"/>
<line x1="330.10" y1="96.33" x2="353.90" y2="96.33" stroke="#3f6e9e" stroke-width="0.7"/>
<line x1="330.10" y1="102.10" x2="353.90" y2="102.10" stroke="#3f6e9e" stroke-width="0.7"/>
<line x1="330.10" y1="107.86" x2="353.90" y2="107.86" stroke="#3f6e9e" stroke-width="0.7"/>
<line x1="330.10" y1="113.62" x2="353.90" y2="113.62" stroke="#3f6e9e" stroke-width="0.7"/>
<line x1="378.60" y1="125.15" x2="401.60" y2="125.15" stroke="#3f6e9e" stroke-width="0.7"/>
<line x1="378.60" y1="130.92" x2="401.60" y2="130.92" stroke="#3f6e9e" stroke-width="0.7"/>
<line x1="378.60" y1="136.68" x2="401.60" y2="136.68" stroke="#3f6e9e" stroke-width="0.7"/>
<line x1="378.60" y1="142.44" x2="401.60" y2="142.44" stroke="#3f6e9e" stroke-width="0.7"/>
<line x1="378.60" y1="148.21" x2="401.60" y2="148.21" stroke="#3f6e9e" stroke-width="0.7"/>
<line x1="378.60" y1="153.97" x2="401.60" y2="153.97" stroke="#3f6e9e" stroke-width="0.7"/>
<line x1="378.60" y1="159.74" x2="401.60" y2="159.74" stroke="#3f6e9e" stroke-width="0.7"/>
</g>
<line x1="329.80" y1="21.40" x2="329.80" y2="165.50" stroke="#9a9a9a" stroke-width="0.6"/>
<line x1="354.20" y1="21.40" x2="354.20" y2="165.50" stroke="#9a9a9a" stroke-width="0.6"/>
<line x1="378.30" y1="21.40" x2="378.30" y2="165.50" stroke="#9a9a9a" stroke-width="0.6"/>
<line x1="401.90" y1="21.40" x2="401.90" y2="165.50" stroke="#9a9a9a" stroke-width="0.6"/>
<line x1="324.30" y1="21.40" x2="324.30" y2="165.50" stroke="#bbbbbb" stroke-width="0.5"/>
<path d="M342.00,21.4 V0.6 H378.18 V3.6 M366.25,21.4 V3.6 H390.10 V21.4" fill="none" stroke="#444" stroke-width="0.8"/>
<text x="332.60" y="172.80" font-size="5.0" fill="#111" text-anchor="end" font-weight="bold" textLength="12.20" lengthAdjust="spacingAndGlyphs">Stage</text>
<text x="334.20" y="172.80" font-size="5.0" fill="#2c2c2c" textLength="15.50" lengthAdjust="spacingAndGlyphs">DUOX2</text>
<text x="366.25" y="172.80" font-size="5.0" fill="#2c2c2c" text-anchor="middle">PIGO</text>
<text x="390.10" y="172.80" font-size="5.0" fill="#2c2c2c" text-anchor="middle">EZH2</text>
<text x="404.00" y="21.00" font-size="5.6" fill="#111" font-weight="bold">Stage</text>
<rect x="404.00" y="25.60" width="6.00" height="5.20" fill="#d2d2d6"/>
<rect x="404.00" y="30.80" width="6.00" height="5.80" fill="#3c4e62"/>
<text x="412.70" y="30.00" font-size="5.4" fill="#2c2c2c" stroke="#2c2c2c" stroke-width="0.151">LENR</text>
<text x="412.70" y="36.00" font-size="5.4" fill="#2c2c2c" stroke="#2c2c2c" stroke-width="0.151">POMR</text>
<line x1="33.00" y1="227.50" x2="33.00" y2="291.60" stroke="#2e2e2e" stroke-width="1.35"/>
<line x1="32.50" y1="291.30" x2="269.50" y2="291.30" stroke="#2e2e2e" stroke-width="1.35"/>
<line x1="29.80" y1="291.00" x2="33.00" y2="291.00" stroke="#2e2e2e" stroke-width="0.9"/>
<text x="26.60" y="293.30" font-size="6.5" fill="#2c2c2c" stroke="#2c2c2c" stroke-width="0.182" text-anchor="end">0.00</text>
<line x1="29.80" y1="271.80" x2="33.00" y2="271.80" stroke="#2e2e2e" stroke-width="0.9"/>
<text x="26.60" y="274.10" font-size="6.5" fill="#2c2c2c" stroke="#2c2c2c" stroke-width="0.182" text-anchor="end">0.05</text>
<line x1="29.80" y1="252.60" x2="33.00" y2="252.60" stroke="#2e2e2e" stroke-width="0.9"/>
<text x="26.60" y="254.90" font-size="6.5" fill="#2c2c2c" stroke="#2c2c2c" stroke-width="0.182" text-anchor="end">0.10</text>
<line x1="29.80" y1="233.40" x2="33.00" y2="233.40" stroke="#2e2e2e" stroke-width="0.9"/>
<text x="26.60" y="235.70" font-size="6.5" fill="#2c2c2c" stroke="#2c2c2c" stroke-width="0.182" text-anchor="end">0.15</text>
<text x="8.00" y="259.00" font-size="8.2" fill="#2c2c2c" stroke="#2c2c2c" stroke-width="0.230" text-anchor="middle" textLength="32.70" lengthAdjust="spacingAndGlyphs" transform="rotate(-90 8.00 259.00)">Frequency</text>
<rect x="35.08" y="283.32" width="3.95" height="7.68" fill="#c8c8cc"/>
<rect x="39.03" y="283.32" width="3.95" height="7.68" fill="#415466"/>
<rect x="42.98" y="283.32" width="3.95" height="7.68" fill="#5b1a63"/>
<line x1="41.00" y1="291.30" x2="41.00" y2="294.20" stroke="#2e2e2e" stroke-width="0.9"/>
<text x="44.60" y="300.80" font-size="7.2" fill="#2c2c2c" stroke="#2c2c2c" stroke-width="0.202" text-anchor="end" font-style="italic" textLength="17.61" lengthAdjust="spacingAndGlyphs" transform="rotate(-45 44.60 300.80)">UBR5</text>
<rect x="48.77" y="279.48" width="3.95" height="11.52" fill="#c8c8cc"/>
<rect x="52.72" y="279.48" width="3.95" height="11.52" fill="#415466"/>
<rect x="56.66" y="275.64" width="3.95" height="15.36" fill="#5b1a63"/>
<line x1="54.69" y1="291.30" x2="54.69" y2="294.20" stroke="#2e2e2e" stroke-width="0.9"/>
<text x="58.29" y="300.80" font-size="7.2" fill="#2c2c2c" stroke="#2c2c2c" stroke-width="0.202" text-anchor="end" font-style="italic" textLength="22.74" lengthAdjust="spacingAndGlyphs" transform="rotate(-45 58.29 300.80)">CCND1</text>
<rect x="62.45" y="279.48" width="3.95" height="11.52" fill="#c8c8cc"/>
<rect x="66.41" y="279.48" width="3.95" height="11.52" fill="#415466"/>
<rect x="70.36" y="275.64" width="3.95" height="15.36" fill="#5b1a63"/>
<line x1="68.38" y1="291.30" x2="68.38" y2="294.20" stroke="#2e2e2e" stroke-width="0.9"/>
<text x="71.98" y="300.80" font-size="7.2" fill="#2c2c2c" stroke="#2c2c2c" stroke-width="0.202" text-anchor="end" font-style="italic" textLength="27.13" lengthAdjust="spacingAndGlyphs" transform="rotate(-45 71.98 300.80)">DNMT3A</text>
<rect x="76.14" y="279.48" width="3.95" height="11.52" fill="#c8c8cc"/>
<rect x="80.09" y="279.48" width="3.95" height="11.52" fill="#415466"/>
<rect x="84.05" y="275.64" width="3.95" height="15.36" fill="#5b1a63"/>
<line x1="82.07" y1="291.30" x2="82.07" y2="294.20" stroke="#2e2e2e" stroke-width="0.9"/>
<text x="85.67" y="300.80" font-size="7.2" fill="#2c2c2c" stroke="#2c2c2c" stroke-width="0.202" text-anchor="end" font-style="italic" textLength="19.82" lengthAdjust="spacingAndGlyphs" transform="rotate(-45 85.67 300.80)">EP300</text>
<rect x="89.83" y="283.32" width="3.95" height="7.68" fill="#c8c8cc"/>
<rect x="93.78" y="283.32" width="3.95" height="7.68" fill="#415466"/>
<rect x="97.73" y="275.64" width="3.95" height="15.36" fill="#5b1a63"/>
<line x1="95.76" y1="291.30" x2="95.76" y2="294.20" stroke="#2e2e2e" stroke-width="0.9"/>
<text x="99.36" y="300.80" font-size="7.2" fill="#2c2c2c" stroke="#2c2c2c" stroke-width="0.202" text-anchor="end" font-style="italic" textLength="21.27" lengthAdjust="spacingAndGlyphs" transform="rotate(-45 99.36 300.80)">SETD2</text>
<rect x="103.53" y="275.64" width="3.95" height="15.36" fill="#c8c8cc"/>
<rect x="107.48" y="275.64" width="3.95" height="15.36" fill="#415466"/>
<rect x="111.43" y="271.80" width="3.95" height="19.20" fill="#5b1a63"/>
<line x1="109.45" y1="291.30" x2="109.45" y2="294.20" stroke="#2e2e2e" stroke-width="0.9"/>
<text x="113.05" y="300.80" font-size="7.2" fill="#2c2c2c" stroke="#2c2c2c" stroke-width="0.202" text-anchor="end" font-style="italic" textLength="20.18" lengthAdjust="spacingAndGlyphs" transform="rotate(-45 113.05 300.80)">SF3B1</text>
<rect x="117.22" y="279.48" width="3.95" height="11.52" fill="#c8c8cc"/>
<rect x="121.17" y="279.48" width="3.95" height="11.52" fill="#415466"/>
<rect x="125.12" y="271.80" width="3.95" height="19.20" fill="#5b1a63"/>
<line x1="123.14" y1="291.30" x2="123.14" y2="294.20" stroke="#2e2e2e" stroke-width="0.9"/>
<text x="126.74" y="300.80" font-size="7.2" fill="#2c2c2c" stroke="#2c2c2c" stroke-width="0.202" text-anchor="end" font-style="italic" textLength="12.84" lengthAdjust="spacingAndGlyphs" transform="rotate(-45 126.74 300.80)">RB1</text>
<rect x="130.90" y="287.16" width="3.95" height="3.84" fill="#c8c8cc"/>
<rect x="134.85" y="283.32" width="3.95" height="7.68" fill="#415466"/>
<rect x="138.80" y="283.32" width="3.95" height="7.68" fill="#5b1a63"/>
<line x1="136.83" y1="291.30" x2="136.83" y2="294.20" stroke="#2e2e2e" stroke-width="0.9"/>
<text x="140.43" y="300.80" font-size="7.2" fill="#2c2c2c" stroke="#2c2c2c" stroke-width="0.202" text-anchor="end" font-style="italic" textLength="22.74" lengthAdjust="spacingAndGlyphs" transform="rotate(-45 140.43 300.80)">KDM3B</text>
<rect x="144.59" y="283.32" width="3.95" height="7.68" fill="#c8c8cc"/>
<rect x="148.54" y="275.64" width="3.95" height="15.36" fill="#415466"/>
<rect x="152.49" y="275.64" width="3.95" height="15.36" fill="#5b1a63"/>
<line x1="150.52" y1="291.30" x2="150.52" y2="294.20" stroke="#2e2e2e" stroke-width="0.9"/>
<text x="154.12" y="300.80" font-size="7.2" fill="#2c2c2c" stroke="#2c2c2c" stroke-width="0.202" text-anchor="end" font-style="italic" textLength="27.14" lengthAdjust="spacingAndGlyphs" transform="rotate(-45 154.12 300.80)">CREBBP</text>
<rect x="158.28" y="279.48" width="3.95" height="11.52" fill="#c8c8cc"/>
<rect x="162.23" y="279.48" width="3.95" height="11.52" fill="#415466"/>
<rect x="166.18" y="271.80" width="3.95" height="19.20" fill="#5b1a63"/>
<line x1="164.21" y1="291.30" x2="164.21" y2="294.20" stroke="#2e2e2e" stroke-width="0.9"/>
<text x="167.81" y="300.80" font-size="7.2" fill="#2c2c2c" stroke="#2c2c2c" stroke-width="0.202" text-anchor="end" font-style="italic" textLength="19.82" lengthAdjust="spacingAndGlyphs" transform="rotate(-45 167.81 300.80)">SP140</text>
<rect x="171.97" y="279.48" width="3.95" height="11.52" fill="#c8c8cc"/>
<rect x="175.92" y="275.64" width="3.95" height="15.36" fill="#415466"/>
<rect x="179.88" y="271.80" width="3.95" height="19.20" fill="#5b1a63"/>
<line x1="177.90" y1="291.30" x2="177.90" y2="294.20" stroke="#2e2e2e" stroke-width="0.9"/>
<text x="181.50" y="300.80" font-size="7.2" fill="#2c2c2c" stroke="#2c2c2c" stroke-width="0.202" text-anchor="end" font-style="italic" textLength="23.10" lengthAdjust="spacingAndGlyphs" transform="rotate(-45 181.50 300.80)">NCOR1</text>
<rect x="185.66" y="287.16" width="3.95" height="3.84" fill="#c8c8cc"/>
<rect x="189.61" y="279.48" width="3.95" height="11.52" fill="#415466"/>
<rect x="193.56" y="275.64" width="3.95" height="15.36" fill="#5b1a63"/>
<line x1="191.59" y1="291.30" x2="191.59" y2="294.20" stroke="#2e2e2e" stroke-width="0.9"/>
<text x="195.19" y="300.80" font-size="7.2" fill="#2c2c2c" stroke="#2c2c2c" stroke-width="0.202" text-anchor="end" font-style="italic" textLength="23.10" lengthAdjust="spacingAndGlyphs" transform="rotate(-45 195.19 300.80)">PRDM1</text>
<rect x="199.35" y="283.32" width="3.95" height="7.68" fill="#c8c8cc"/>
<rect x="203.30" y="271.80" width="3.95" height="19.20" fill="#415466"/>
<rect x="207.25" y="271.80" width="3.95" height="19.20" fill="#5b1a63"/>
<line x1="205.28" y1="291.30" x2="205.28" y2="294.20" stroke="#2e2e2e" stroke-width="0.9"/>
<text x="208.88" y="300.80" font-size="7.2" fill="#2c2c2c" stroke="#2c2c2c" stroke-width="0.202" text-anchor="end" font-style="italic" textLength="22.00" lengthAdjust="spacingAndGlyphs" transform="rotate(-45 208.88 300.80)">KMT2B</text>
<rect x="213.04" y="275.64" width="3.95" height="15.36" fill="#c8c8cc"/>
<rect x="216.99" y="275.64" width="3.95" height="15.36" fill="#415466"/>
<rect x="220.94" y="248.76" width="3.95" height="42.24" fill="#5b1a63"/>
<line x1="218.97" y1="291.30" x2="218.97" y2="294.20" stroke="#2e2e2e" stroke-width="0.9"/>
<text x="222.57" y="300.80" font-size="7.2" fill="#2c2c2c" stroke="#2c2c2c" stroke-width="0.202" text-anchor="end" font-style="italic" textLength="22.74" lengthAdjust="spacingAndGlyphs" transform="rotate(-45 222.57 300.80)">MAML3</text>
<rect x="226.73" y="279.48" width="3.95" height="11.52" fill="#c8c8cc"/>
<rect x="230.68" y="275.64" width="3.95" height="15.36" fill="#415466"/>
<rect x="234.63" y="264.12" width="3.95" height="26.88" fill="#5b1a63"/>
<line x1="232.66" y1="291.30" x2="232.66" y2="294.20" stroke="#2e2e2e" stroke-width="0.9"/>
<text x="236.26" y="300.80" font-size="7.2" fill="#2c2c2c" stroke="#2c2c2c" stroke-width="0.202" text-anchor="end" font-style="italic" textLength="14.30" lengthAdjust="spacingAndGlyphs" transform="rotate(-45 236.26 300.80)">IRF4</text>
<rect x="240.42" y="287.16" width="3.95" height="3.84" fill="#c8c8cc"/>
<rect x="244.37" y="279.48" width="3.95" height="11.52" fill="#415466"/>
<rect x="248.32" y="275.64" width="3.95" height="15.36" fill="#5b1a63"/>
<line x1="246.35" y1="291.30" x2="246.35" y2="294.20" stroke="#2e2e2e" stroke-width="0.9"/>
<text x="249.95" y="300.80" font-size="7.2" fill="#2c2c2c" stroke="#2c2c2c" stroke-width="0.202" text-anchor="end" font-style="italic" textLength="22.74" lengthAdjust="spacingAndGlyphs" transform="rotate(-45 249.95 300.80)">DUOX2</text>
<rect x="254.11" y="267.96" width="3.95" height="23.04" fill="#c8c8cc"/>
<rect x="258.06" y="252.60" width="3.95" height="38.40" fill="#415466"/>
<rect x="262.01" y="229.56" width="3.95" height="61.44" fill="#5b1a63"/>
<line x1="260.04" y1="291.30" x2="260.04" y2="294.20" stroke="#2e2e2e" stroke-width="0.9"/>
<text x="263.64" y="300.80" font-size="7.2" fill="#2c2c2c" stroke="#2c2c2c" stroke-width="0.202" text-anchor="end" font-style="italic" textLength="15.77" lengthAdjust="spacingAndGlyphs" transform="rotate(-45 263.64 300.80)">TP53</text>
<text x="258.70" y="232.50" font-size="5.5" fill="#c8344a" stroke="#c8344a" stroke-width="0.154" text-anchor="middle">*</text>
<line x1="323.80" y1="225.00" x2="323.80" y2="289.00" stroke="#2e2e2e" stroke-width="1.35"/>
<line x1="323.30" y1="288.60" x2="520.00" y2="288.60" stroke="#2e2e2e" stroke-width="1.35"/>
<line x1="320.60" y1="288.50" x2="323.80" y2="288.50" stroke="#2e2e2e" stroke-width="0.9"/>
<text x="318.20" y="290.80" font-size="6.5" fill="#2c2c2c" stroke="#2c2c2c" stroke-width="0.182" text-anchor="end">0.0</text>
<line x1="320.60" y1="269.30" x2="323.80" y2="269.30" stroke="#2e2e2e" stroke-width="0.9"/>
<text x="318.20" y="271.60" font-size="6.5" fill="#2c2c2c" stroke="#2c2c2c" stroke-width="0.182" text-anchor="end">0.2</text>
<line x1="320.60" y1="250.10" x2="323.80" y2="250.10" stroke="#2e2e2e" stroke-width="0.9"/>
<text x="318.20" y="252.40" font-size="6.5" fill="#2c2c2c" stroke="#2c2c2c" stroke-width="0.182" text-anchor="end">0.4</text>
<line x1="320.60" y1="230.90" x2="323.80" y2="230.90" stroke="#2e2e2e" stroke-width="0.9"/>
<text x="318.20" y="233.20" font-size="6.5" fill="#2c2c2c" stroke="#2c2c2c" stroke-width="0.182" text-anchor="end">0.6</text>
<text x="302.60" y="256.20" font-size="8.2" fill="#2c2c2c" stroke="#2c2c2c" stroke-width="0.230" text-anchor="middle" textLength="33.60" lengthAdjust="spacingAndGlyphs" transform="rotate(-90 302.60 256.20)">Frequency</text>
<rect x="327.40" y="280.82" width="6.00" height="7.68" fill="#c8c8cc"/>
<rect x="333.40" y="280.34" width="6.00" height="8.16" fill="#415466"/>
<rect x="339.40" y="275.54" width="6.00" height="12.96" fill="#5b1a63"/>
<line x1="336.40" y1="288.60" x2="336.40" y2="291.50" stroke="#2e2e2e" stroke-width="0.9"/>
<text x="339.90" y="298.10" font-size="6.6" fill="#2c2c2c" stroke="#2c2c2c" stroke-width="0.185" text-anchor="end" transform="rotate(-45 339.90 298.10)">CC</text>
<rect x="348.79" y="256.53" width="6.00" height="31.97" fill="#c8c8cc"/>
<rect x="354.79" y="257.59" width="6.00" height="30.91" fill="#415466"/>
<rect x="360.79" y="257.59" width="6.00" height="30.91" fill="#5b1a63"/>
<line x1="357.79" y1="288.60" x2="357.79" y2="291.50" stroke="#2e2e2e" stroke-width="0.9"/>
<text x="361.29" y="298.10" font-size="6.6" fill="#2c2c2c" stroke="#2c2c2c" stroke-width="0.185" text-anchor="end" transform="rotate(-45 361.29 298.10)">HIPPO</text>
<rect x="370.18" y="283.22" width="6.00" height="5.28" fill="#c8c8cc"/>
<rect x="376.18" y="283.70" width="6.00" height="4.80" fill="#415466"/>
<rect x="382.18" y="276.98" width="6.00" height="11.52" fill="#5b1a63"/>
<line x1="379.18" y1="288.60" x2="379.18" y2="291.50" stroke="#2e2e2e" stroke-width="0.9"/>
<text x="382.68" y="298.10" font-size="6.6" fill="#2c2c2c" stroke="#2c2c2c" stroke-width="0.185" text-anchor="end" transform="rotate(-45 382.68 298.10)">MYC</text>
<rect x="391.57" y="257.78" width="6.00" height="30.72" fill="#c8c8cc"/>
<rect x="397.57" y="254.90" width="6.00" height="33.60" fill="#415466"/>
<rect x="403.57" y="255.86" width="6.00" height="32.64" fill="#5b1a63"/>
<line x1="400.57" y1="288.60" x2="400.57" y2="291.50" stroke="#2e2e2e" stroke-width="0.9"/>
<text x="404.07" y="298.10" font-size="6.6" fill="#2c2c2c" stroke="#2c2c2c" stroke-width="0.185" text-anchor="end" transform="rotate(-45 404.07 298.10)">NOTCH</text>
<rect x="412.96" y="276.98" width="6.00" height="11.52" fill="#c8c8cc"/>
<rect x="418.96" y="276.02" width="6.00" height="12.48" fill="#415466"/>
<rect x="424.96" y="276.98" width="6.00" height="11.52" fill="#5b1a63"/>
<line x1="421.96" y1="288.60" x2="421.96" y2="291.50" stroke="#2e2e2e" stroke-width="0.9"/>
<text x="425.46" y="298.10" font-size="6.6" fill="#2c2c2c" stroke="#2c2c2c" stroke-width="0.185" text-anchor="end" transform="rotate(-45 425.46 298.10)">PI3K</text>
<rect x="434.35" y="224.56" width="6.00" height="63.94" fill="#c8c8cc"/>
<rect x="440.35" y="228.31" width="6.00" height="60.19" fill="#415466"/>
<rect x="446.35" y="240.50" width="6.00" height="48.00" fill="#5b1a63"/>
<line x1="443.35" y1="288.60" x2="443.35" y2="291.50" stroke="#2e2e2e" stroke-width="0.9"/>
<text x="446.85" y="298.10" font-size="6.6" fill="#2c2c2c" stroke="#2c2c2c" stroke-width="0.185" text-anchor="end" transform="rotate(-45 446.85 298.10)">RTKRAS</text>
<rect x="455.74" y="287.54" width="6.00" height="0.96" fill="#c8c8cc"/>
<rect x="461.74" y="284.66" width="6.00" height="3.84" fill="#415466"/>
<rect x="467.74" y="286.58" width="6.00" height="1.92" fill="#5b1a63"/>
<line x1="464.74" y1="288.60" x2="464.74" y2="291.50" stroke="#2e2e2e" stroke-width="0.9"/>
<text x="468.24" y="298.10" font-size="6.6" fill="#2c2c2c" stroke="#2c2c2c" stroke-width="0.185" text-anchor="end" transform="rotate(-45 468.24 298.10)">TGFB</text>
<rect x="477.13" y="278.90" width="6.00" height="9.60" fill="#c8c8cc"/>
<rect x="483.13" y="274.10" width="6.00" height="14.40" fill="#415466"/>
<rect x="489.13" y="272.18" width="6.00" height="16.32" fill="#5b1a63"/>
<line x1="486.13" y1="288.60" x2="486.13" y2="291.50" stroke="#2e2e2e" stroke-width="0.9"/>
<text x="489.63" y="298.10" font-size="6.6" fill="#2c2c2c" stroke="#2c2c2c" stroke-width="0.185" text-anchor="end" transform="rotate(-45 489.63 298.10)">TP53</text>
<rect x="498.52" y="267.38" width="6.00" height="21.12" fill="#c8c8cc"/>
<rect x="504.52" y="265.46" width="6.00" height="23.04" fill="#415466"/>
<rect x="510.52" y="267.67" width="6.00" height="20.83" fill="#5b1a63"/>
<line x1="507.52" y1="288.60" x2="507.52" y2="291.50" stroke="#2e2e2e" stroke-width="0.9"/>
<text x="511.02" y="298.10" font-size="6.6" fill="#2c2c2c" stroke="#2c2c2c" stroke-width="0.185" text-anchor="end" transform="rotate(-45 511.02 298.10)">WNT</text>
<text x="486.00" y="266.50" font-size="5.5" fill="#c8344a" stroke="#c8344a" stroke-width="0.154" text-anchor="middle">*</text>
<text x="491.50" y="229.90" font-size="5.6" fill="#2c2c2c" stroke="#2c2c2c" stroke-width="0.157">Stage</text>
<rect x="491.50" y="233.60" width="6.20" height="6.00" fill="#c8c8cc"/>
<text x="500.60" y="238.50" font-size="5.8" fill="#2c2c2c" stroke="#2c2c2c" stroke-width="0.162">NDMM</text>
<rect x="491.50" y="241.00" width="6.20" height="6.00" fill="#415466"/>
<text x="500.60" y="245.90" font-size="5.8" fill="#2c2c2c" stroke="#2c2c2c" stroke-width="0.162">LENR</text>
<rect x="491.50" y="248.50" width="6.20" height="6.00" fill="#5b1a63"/>
<text x="500.60" y="253.40" font-size="5.8" fill="#2c2c2c" stroke="#2c2c2c" stroke-width="0.162">POMR</text>
<line x1="33.00" y1="350.00" x2="33.00" y2="406.30" stroke="#2e2e2e" stroke-width="1.35"/>
<line x1="32.50" y1="405.80" x2="300.00" y2="405.80" stroke="#2e2e2e" stroke-width="1.35"/>
<line x1="29.80" y1="404.30" x2="33.00" y2="404.30" stroke="#2e2e2e" stroke-width="0.9"/>
<text x="27.00" y="406.60" font-size="6.5" fill="#2c2c2c" stroke="#2c2c2c" stroke-width="0.182" text-anchor="end">0</text>
<line x1="29.80" y1="394.00" x2="33.00" y2="394.00" stroke="#2e2e2e" stroke-width="0.9"/>
<text x="27.00" y="396.30" font-size="6.5" fill="#2c2c2c" stroke="#2c2c2c" stroke-width="0.182" text-anchor="end">2</text>
<line x1="29.80" y1="383.70" x2="33.00" y2="383.70" stroke="#2e2e2e" stroke-width="0.9"/>
<text x="27.00" y="386.00" font-size="6.5" fill="#2c2c2c" stroke="#2c2c2c" stroke-width="0.182" text-anchor="end">4</text>
<line x1="29.80" y1="373.40" x2="33.00" y2="373.40" stroke="#2e2e2e" stroke-width="0.9"/>
<text x="27.00" y="375.70" font-size="6.5" fill="#2c2c2c" stroke="#2c2c2c" stroke-width="0.182" text-anchor="end">6</text>
<line x1="29.80" y1="363.10" x2="33.00" y2="363.10" stroke="#2e2e2e" stroke-width="0.9"/>
<text x="27.00" y="365.40" font-size="6.5" fill="#2c2c2c" stroke="#2c2c2c" stroke-width="0.182" text-anchor="end">8</text>
<line x1="29.80" y1="352.80" x2="33.00" y2="352.80" stroke="#2e2e2e" stroke-width="0.9"/>
<text x="27.00" y="355.10" font-size="6.5" fill="#2c2c2c" stroke="#2c2c2c" stroke-width="0.182" text-anchor="end">10</text>
<text x="13.60" y="378.10" font-size="8.2" fill="#2c2c2c" stroke="#2c2c2c" stroke-width="0.230" text-anchor="middle" textLength="39.20" lengthAdjust="spacingAndGlyphs" transform="rotate(-90 13.60 378.10)">Frequency %</text>
<rect x="36.20" y="368.25" width="6.60" height="36.05" fill="#c0102c"/>
<rect x="44.30" y="380.10" width="6.60" height="24.20" fill="#36a7e0"/>
<line x1="43.50" y1="405.80" x2="43.50" y2="408.80" stroke="#2e2e2e" stroke-width="0.9"/>
<text x="35.39" y="429.23" font-size="6.4" fill="#2c2c2c" stroke="#2c2c2c" stroke-width="0.179" font-style="italic" transform="rotate(-45 35.39 429.23)">CYLD</text>
<rect x="53.79" y="378.55" width="6.60" height="25.75" fill="#c0102c"/>
<rect x="61.89" y="386.02" width="6.60" height="18.28" fill="#36a7e0"/>
<line x1="61.09" y1="405.80" x2="61.09" y2="408.80" stroke="#2e2e2e" stroke-width="0.9"/>
<text x="52.73" y="429.73" font-size="6.4" fill="#2c2c2c" stroke="#2c2c2c" stroke-width="0.179" font-style="italic" transform="rotate(-45 52.73 429.73)">NRAS</text>
<rect x="71.38" y="388.85" width="6.60" height="15.45" fill="#c0102c"/>
<rect x="79.48" y="394.00" width="6.60" height="10.30" fill="#36a7e0"/>
<line x1="78.68" y1="405.80" x2="78.68" y2="408.80" stroke="#2e2e2e" stroke-width="0.9"/>
<text x="67.85" y="434.67" font-size="6.4" fill="#2c2c2c" stroke="#2c2c2c" stroke-width="0.179" font-style="italic" transform="rotate(-45 67.85 434.67)">FAM46C</text>
<rect x="88.97" y="386.28" width="6.60" height="18.02" fill="#c0102c"/>
<rect x="97.07" y="388.34" width="6.60" height="15.96" fill="#36a7e0"/>
<line x1="96.27" y1="405.80" x2="96.27" y2="408.80" stroke="#2e2e2e" stroke-width="0.9"/>
<text x="89.80" y="425.96" font-size="6.4" fill="#2c2c2c" stroke="#2c2c2c" stroke-width="0.179" font-style="italic" transform="rotate(-45 89.80 425.96)">RB1</text>
<rect x="106.56" y="368.25" width="6.60" height="36.05" fill="#c0102c"/>
<rect x="114.66" y="367.22" width="6.60" height="37.08" fill="#36a7e0"/>
<line x1="113.86" y1="405.80" x2="113.86" y2="408.80" stroke="#2e2e2e" stroke-width="0.9"/>
<text x="106.76" y="427.22" font-size="6.4" fill="#2c2c2c" stroke="#2c2c2c" stroke-width="0.179" font-style="italic" transform="rotate(-45 106.76 427.22)">DIS3</text>
<rect x="124.15" y="399.41" width="6.60" height="4.89" fill="#c0102c"/>
<rect x="132.25" y="398.12" width="6.60" height="6.18" fill="#36a7e0"/>
<line x1="131.45" y1="405.80" x2="131.45" y2="408.80" stroke="#2e2e2e" stroke-width="0.9"/>
<text x="122.09" y="431.74" font-size="6.4" fill="#2c2c2c" stroke="#2c2c2c" stroke-width="0.179" font-style="italic" transform="rotate(-45 122.09 431.74)">NFKB2</text>
<rect x="141.74" y="396.57" width="6.60" height="7.73" fill="#c0102c"/>
<rect x="149.84" y="395.03" width="6.60" height="9.27" fill="#36a7e0"/>
<line x1="149.04" y1="405.80" x2="149.04" y2="408.80" stroke="#2e2e2e" stroke-width="0.9"/>
<text x="140.81" y="429.48" font-size="6.4" fill="#2c2c2c" stroke="#2c2c2c" stroke-width="0.179" font-style="italic" transform="rotate(-45 140.81 429.48)">KRAS</text>
<rect x="159.33" y="386.28" width="6.60" height="18.02" fill="#c0102c"/>
<rect x="167.43" y="384.47" width="6.60" height="19.83" fill="#36a7e0"/>
<line x1="166.63" y1="405.80" x2="166.63" y2="408.80" stroke="#2e2e2e" stroke-width="0.9"/>
<text x="157.39" y="431.49" font-size="6.4" fill="#2c2c2c" stroke="#2c2c2c" stroke-width="0.179" font-style="italic" transform="rotate(-45 157.39 431.49)">TRAF3</text>
<rect x="176.92" y="399.41" width="6.60" height="4.89" fill="#c0102c"/>
<rect x="185.02" y="396.83" width="6.60" height="7.47" fill="#36a7e0"/>
<line x1="184.22" y1="405.80" x2="184.22" y2="408.80" stroke="#2e2e2e" stroke-width="0.9"/>
<text x="174.98" y="431.49" font-size="6.4" fill="#2c2c2c" stroke="#2c2c2c" stroke-width="0.179" font-style="italic" transform="rotate(-45 174.98 431.49)">TRAF2</text>
<rect x="194.51" y="401.98" width="6.60" height="2.32" fill="#c0102c"/>
<rect x="202.61" y="398.12" width="6.60" height="6.18" fill="#36a7e0"/>
<line x1="201.81" y1="405.80" x2="201.81" y2="408.80" stroke="#2e2e2e" stroke-width="0.9"/>
<text x="194.96" y="426.71" font-size="6.4" fill="#2c2c2c" stroke="#2c2c2c" stroke-width="0.179" font-style="italic" transform="rotate(-45 194.96 426.71)">TDG</text>
<rect x="220.20" y="398.12" width="6.60" height="6.18" fill="#36a7e0"/>
<line x1="219.40" y1="405.80" x2="219.40" y2="408.80" stroke="#2e2e2e" stroke-width="0.9"/>
<text x="208.02" y="435.77" font-size="6.4" fill="#2c2c2c" stroke="#2c2c2c" stroke-width="0.179" font-style="italic" transform="rotate(-45 208.02 435.77)">CREBBP</text>
<rect x="229.69" y="399.41" width="6.60" height="4.89" fill="#c0102c"/>
<rect x="237.79" y="392.45" width="6.60" height="11.85" fill="#36a7e0"/>
<line x1="236.99" y1="405.80" x2="236.99" y2="408.80" stroke="#2e2e2e" stroke-width="0.9"/>
<text x="228.63" y="429.73" font-size="6.4" fill="#2c2c2c" stroke="#2c2c2c" stroke-width="0.179" font-style="italic" transform="rotate(-45 228.63 429.73)">MYH3</text>
<rect x="255.38" y="396.57" width="6.60" height="7.73" fill="#36a7e0"/>
<line x1="254.58" y1="405.80" x2="254.58" y2="408.80" stroke="#2e2e2e" stroke-width="0.9"/>
<text x="243.33" y="435.51" font-size="6.4" fill="#2c2c2c" stroke="#2c2c2c" stroke-width="0.179" font-style="italic" transform="rotate(-45 243.33 435.51)">CDKN2A</text>
<rect x="264.87" y="401.73" width="6.60" height="2.57" fill="#c0102c"/>
<rect x="272.97" y="388.34" width="6.60" height="15.96" fill="#36a7e0"/>
<line x1="272.17" y1="405.80" x2="272.17" y2="408.80" stroke="#2e2e2e" stroke-width="0.9"/>
<text x="262.18" y="433.00" font-size="6.4" fill="#2c2c2c" stroke="#2c2c2c" stroke-width="0.179" font-style="italic" transform="rotate(-45 262.18 433.00)">NCOR1</text>
<rect x="282.46" y="378.04" width="6.60" height="26.26" fill="#c0102c"/>
<rect x="290.56" y="356.61" width="6.60" height="47.69" fill="#36a7e0"/>
<line x1="289.76" y1="405.80" x2="289.76" y2="408.80" stroke="#2e2e2e" stroke-width="0.9"/>
<text x="282.28" y="427.97" font-size="6.4" fill="#2c2c2c" stroke="#2c2c2c" stroke-width="0.179" font-style="italic" transform="rotate(-45 282.28 427.97)">TP53</text>
<rect x="307.30" y="373.90" width="5.50" height="5.30" fill="#c0102c"/>
<rect x="307.30" y="379.50" width="5.50" height="5.50" fill="#36a7e0"/>
<text x="315.80" y="378.60" font-size="5.6" fill="#2c2c2c" stroke="#2c2c2c" stroke-width="0.157">ndMM</text>
<text x="315.80" y="384.50" font-size="5.6" fill="#2c2c2c" stroke="#2c2c2c" stroke-width="0.157">rrMM</text>
<rect x="33.70" y="643.14" width="10.70" height="29.56" fill="#174d8c"/>
<rect x="47.90" y="629.87" width="11.90" height="42.83" fill="#174d8c"/>
<rect x="59.80" y="656.02" width="26.40" height="16.68" fill="#c3052b"/>
<rect x="86.20" y="658.30" width="21.60" height="14.40" fill="#174d8c"/>
<rect x="107.80" y="655.27" width="20.20" height="17.43" fill="#c3052b"/>
<rect x="128.00" y="657.54" width="20.00" height="15.16" fill="#174d8c"/>
<rect x="148.00" y="642.38" width="19.00" height="30.32" fill="#c3052b"/>
<rect x="167.00" y="646.17" width="17.20" height="26.53" fill="#174d8c"/>
<rect x="184.20" y="643.14" width="17.30" height="29.56" fill="#c3052b"/>
<rect x="201.50" y="646.93" width="2.90" height="25.77" fill="#174d8c"/>
<rect x="206.30" y="643.14" width="9.50" height="29.56" fill="#174d8c"/>
<rect x="215.80" y="638.59" width="14.60" height="34.11" fill="#c3052b"/>
<rect x="230.40" y="645.03" width="14.00" height="27.67" fill="#174d8c"/>
<rect x="244.40" y="641.24" width="14.90" height="31.46" fill="#c3052b"/>
<rect x="260.80" y="662.09" width="11.50" height="10.61" fill="#174d8c"/>
<rect x="273.00" y="649.96" width="11.50" height="22.74" fill="#c3052b"/>
<rect x="285.40" y="631.77" width="8.60" height="40.93" fill="#174d8c"/>
<rect x="294.00" y="643.14" width="10.60" height="29.56" fill="#c3052b"/>
<rect x="304.60" y="633.66" width="8.70" height="39.04" fill="#174d8c"/>
<rect x="313.30" y="635.56" width="8.20" height="37.14" fill="#c3052b"/>
<rect x="321.50" y="631.77" width="7.20" height="40.93" fill="#174d8c"/>
<rect x="328.70" y="646.17" width="7.60" height="26.53" fill="#c3052b"/>
<rect x="336.30" y="641.24" width="5.20" height="31.46" fill="#174d8c"/>
<rect x="341.50" y="643.14" width="4.30" height="29.56" fill="#c3052b"/>
<path d="M34.6 638.9h0M37.2 632.8h0M36.3 639.6h0M36.0 636.7h0M38.4 643.2h0M36.1 636.7h0M37.7 636.9h0M35.3 630.9h0M38.3 630.6h0M35.8 637.6h0M36.2 634.4h0M34.7 640.0h0M43.3 640.0h0M41.3 630.6h0M43.1 645.0h0M41.5 632.2h0M35.4 642.4h0M42.6 638.9h0M41.2 636.5h0M39.3 641.6h0M42.0 634.5h0M36.6 633.1h0M36.5 632.1h0M39.6 633.2h0M39.9 642.3h0M43.2 637.4h0M36.0 644.4h0M42.1 630.5h0M36.6 642.8h0M35.9 637.1h0M34.9 640.2h0M35.2 634.5h0M42.9 630.3h0M41.5 633.4h0M40.7 639.6h0M38.9 633.8h0M40.2 644.1h0M40.1 640.2h0M43.2 638.8h0M41.5 642.1h0M39.6 634.7h0M36.0 643.8h0M36.6 630.7h0M37.1 642.6h0M39.2 637.1h0M34.5 645.0h0M36.2 637.7h0M41.8 636.1h0M39.1 643.6h0M41.7 639.0h0M38.3 630.9h0M42.5 641.4h0M37.5 644.6h0M36.1 639.2h0M39.2 635.0h0M38.3 641.4h0M37.5 634.8h0M38.7 644.0h0M40.2 642.1h0M35.7 642.0h0M37.5 631.8h0M39.4 640.7h0M40.6 634.8h0M36.9 633.2h0M37.8 638.7h0M39.7 637.4h0M35.1 635.7h0M40.9 639.5h0M41.3 644.5h0M38.2 634.9h0M36.9 638.4h0M38.9 634.1h0M34.8 641.1h0M42.9 639.9h0M40.2 635.0h0M34.8 631.2h0M36.2 636.1h0M36.2 639.2h0M42.7 639.9h0M42.2 634.3h0M37.2 643.9h0M34.9 633.4h0M35.2 642.2h0M36.6 632.9h0M34.6 638.8h0M39.2 643.4h0M37.6 633.3h0M34.9 640.3h0M35.9 643.6h0M39.7 642.0h0M43.4 639.7h0M42.3 640.8h0M39.3 643.7h0M40.5 636.9h0M39.3 639.0h0M35.9 633.5h0M39.9 630.8h0M36.0 609.6h0M34.7 637.0h0M42.4 621.7h0M41.9 639.7h0M34.7 622.1h0M34.9 634.2h0M41.8 641.4h0M39.6 648.1h0M35.5 650.2h0M35.4 567.4h0M37.3 573.7h0M39.0 649.0h0M36.5 650.2h0M41.3 644.9h0M39.9 646.9h0M43.5 644.2h0M39.5 587.9h0M40.3 577.7h0M42.2 615.3h0M36.3 651.5h0M41.5 609.3h0M35.6 629.0h0M36.6 643.3h0M40.5 619.4h0M40.4 628.9h0M42.8 596.3h0M34.8 648.7h0M42.8 583.9h0M38.1 639.1h0M38.3 619.8h0M36.8 648.6h0M39.7 641.8h0M41.1 646.6h0M41.8 623.8h0M39.2 624.3h0M34.7 616.5h0M40.2 645.6h0M38.1 651.1h0M39.6 645.1h0M35.3 643.9h0M36.8 608.0h0M34.7 629.1h0M41.7 628.8h0M37.5 609.2h0M40.0 648.0h0M37.1 641.7h0M38.1 645.3h0M38.2 620.0h0M41.1 623.0h0M39.7 605.7h0M40.5 630.5h0M38.3 647.1h0M41.2 618.1h0M36.9 602.7h0M38.3 641.4h0M35.3 638.0h0M40.3 638.1h0M36.6 614.5h0M41.3 624.9h0M34.6 647.2h0M40.7 647.0h0M38.0 584.0h0M40.2 641.5h0M34.9 641.3h0M40.0 644.0h0M37.7 634.9h0M35.7 638.0h0M37.9 611.4h0M39.7 619.3h0M41.7 587.9h0M38.6 647.9h0M41.4 651.5h0M43.4 644.6h0M39.1 644.8h0M42.0 633.1h0M42.5 626.7h0M35.4 641.2h0M34.9 646.2h0M40.7 617.7h0M41.6 612.8h0M35.1 648.1h0M34.5 622.0h0M39.8 640.4h0M40.1 622.5h0M43.4 569.0h0M34.7 641.4h0M38.5 648.3h0M36.6 623.4h0M40.7 648.9h0M39.1 620.9h0M36.3 647.6h0M42.3 643.2h0M41.7 584.2h0M43.3 644.5h0M35.8 605.9h0M37.9 650.8h0M34.7 627.8h0M35.5 633.1h0M41.2 613.6h0M41.8 651.2h0M43.0 639.7h0M36.4 640.2h0M37.5 645.8h0M36.0 649.8h0M39.5 634.1h0M35.7 629.2h0M35.8 651.2h0M35.7 588.1h0M39.6 619.9h0M43.0 626.4h0M40.9 643.7h0M37.9 631.6h0M36.3 637.6h0M42.9 648.9h0M36.0 623.5h0M36.2 606.7h0M39.8 621.7h0M38.3 607.6h0M36.8 648.3h0M39.2 647.9h0M41.3 606.3h0M38.4 623.7h0M41.8 642.8h0M40.5 621.0h0M41.7 629.2h0M36.9 627.2h0M37.3 638.9h0M42.7 642.3h0M40.1 617.3h0M38.9 635.2h0M38.8 648.8h0M37.7 627.2h0M43.6 632.2h0M35.2 584.1h0M36.4 606.5h0M40.3 647.9h0M35.4 603.0h0M43.1 651.5h0M36.9 585.0h0M37.2 602.8h0M34.6 600.7h0M36.5 625.8h0M34.7 623.8h0M35.4 622.9h0M35.1 635.6h0M35.9 638.4h0M38.8 640.8h0M40.3 622.0h0M42.3 631.3h0M35.8 637.2h0M37.8 619.8h0M38.1 576.1h0M43.2 640.2h0M42.0 633.8h0M40.0 639.1h0M36.3 649.7h0M38.2 648.8h0M39.6 641.0h0M36.7 622.8h0M34.7 643.2h0M38.0 648.3h0M36.2 588.1h0M34.6 637.3h0M38.3 627.2h0M38.0 640.7h0M38.2 643.0h0M41.0 646.2h0M41.5 651.5h0M39.5 634.7h0M41.9 622.2h0M38.5 631.6h0M34.9 647.9h0M35.9 646.8h0M39.7 573.4h0M38.2 641.2h0M38.3 601.9h0M36.9 629.9h0M35.2 641.0h0M38.9 609.4h0M39.7 615.4h0M36.9 649.3h0M41.6 641.1h0M43.3 640.0h0M40.8 607.6h0M40.8 630.8h0M35.4 640.4h0M38.7 597.6h0M40.7 636.4h0M37.7 644.1h0M41.9 641.2h0M35.4 568.8h0M40.7 639.8h0M41.4 635.9h0M39.8 647.6h0M36.3 624.4h0M40.7 651.1h0M42.4 645.6h0M37.6 641.2h0M41.7 605.2h0M42.6 577.6h0M39.8 644.6h0M42.2 644.5h0M41.4 614.8h0M35.7 634.4h0M43.1 631.7h0M37.4 625.4h0M35.7 649.0h0M41.0 648.2h0M38.5 640.8h0M38.0 639.9h0M38.5 636.4h0M40.3 648.4h0M35.5 629.3h0M43.5 550.0h0M41.6 640.3h0M39.7 632.3h0M41.3 611.7h0M38.9 643.3h0M42.5 605.7h0M41.8 596.0h0M34.7 622.0h0M41.0 639.2h0M35.1 644.1h0M41.5 626.8h0M34.8 635.3h0M42.6 620.2h0M39.6 631.6h0M37.4 649.2h0M41.8 627.0h0M42.1 641.0h0M39.6 627.2h0M40.8 645.6h0M38.3 647.8h0M42.4 591.4h0M36.0 634.3h0M43.1 588.9h0M37.8 551.3h0M43.5 615.6h0M54.5 630.1h0M55.7 625.6h0M54.4 619.1h0M57.9 618.0h0M49.3 629.4h0M53.9 628.8h0M57.5 621.5h0M55.4 621.0h0M55.4 622.9h0M55.5 625.9h0M57.5 619.4h0M55.7 621.1h0M52.1 630.7h0M51.9 625.0h0M52.6 628.8h0M51.5 619.4h0M48.8 617.9h0M56.1 625.5h0M48.8 620.6h0M49.4 630.1h0M49.7 623.4h0M51.6 625.9h0M52.6 630.3h0M54.7 625.3h0M49.4 626.7h0M55.8 626.9h0M54.1 631.7h0M57.6 631.5h0M54.2 628.9h0M54.3 630.4h0M58.1 620.0h0M57.9 620.1h0M57.0 631.7h0M57.7 631.0h0M56.1 617.0h0M56.3 622.8h0M57.6 630.5h0M51.2 630.5h0M55.8 627.8h0M52.7 626.0h0M56.5 624.3h0M57.4 619.4h0M49.2 627.6h0M49.9 630.4h0M49.6 620.7h0M48.7 620.6h0M51.2 621.6h0M56.5 622.2h0M49.5 622.1h0M52.6 631.5h0M53.5 618.4h0M53.5 627.9h0M50.8 619.6h0M58.2 629.9h0M53.3 625.5h0M51.2 627.2h0M57.0 619.0h0M56.2 628.0h0M53.0 618.2h0M49.6 617.3h0M57.5 619.4h0M51.6 628.0h0M50.1 627.7h0M55.9 619.8h0M55.3 620.1h0M49.6 627.9h0M56.8 627.9h0M54.2 631.5h0M51.7 627.0h0M54.8 626.8h0M50.3 629.3h0M56.5 619.2h0M51.3 626.5h0M58.3 623.1h0M53.3 620.1h0M52.4 622.4h0M54.0 621.3h0M55.6 631.4h0M53.7 618.9h0M51.8 629.4h0M57.4 628.9h0M51.8 620.9h0M50.0 627.3h0M58.8 625.3h0M58.3 620.6h0M58.2 630.7h0M57.1 618.3h0M57.6 629.9h0M56.3 617.3h0M52.2 624.2h0M54.9 618.8h0M49.5 627.0h0M55.9 631.5h0M50.1 627.4h0M53.5 627.2h0M53.6 619.2h0M57.2 629.9h0M54.3 621.8h0M52.9 618.5h0M49.3 626.0h0M55.1 621.5h0M48.8 617.8h0M53.2 625.7h0M49.1 625.6h0M49.1 619.7h0M51.9 622.3h0M57.3 625.5h0M54.0 632.2h0M55.0 630.0h0M55.6 616.8h0M55.2 635.8h0M49.4 608.5h0M53.9 595.7h0M58.7 609.5h0M54.5 634.3h0M51.4 575.2h0M56.9 603.5h0M55.4 559.7h0M51.6 590.8h0M56.1 615.6h0M54.0 634.2h0M56.4 616.1h0M54.4 632.7h0M58.8 637.2h0M54.3 638.0h0M51.5 633.3h0M51.3 624.3h0M51.9 630.2h0M58.6 619.4h0M50.5 632.1h0M58.1 637.4h0M57.3 596.2h0M53.2 634.1h0M54.2 607.7h0M50.7 602.0h0M53.3 614.1h0M50.4 638.2h0M49.5 620.4h0M50.7 613.5h0M52.9 606.5h0M51.4 608.8h0M55.5 634.9h0M50.9 590.1h0M57.6 637.6h0M56.6 599.7h0M53.0 595.2h0M54.8 637.0h0M48.9 619.6h0M57.1 628.1h0M58.3 611.4h0M50.6 599.4h0M49.2 603.9h0M51.7 582.1h0M49.7 600.9h0M57.1 583.4h0M54.5 618.7h0M52.5 631.7h0M52.8 634.1h0M55.2 634.5h0M52.4 619.7h0M58.5 626.8h0M50.4 636.2h0M52.3 583.9h0M58.5 634.2h0M54.5 631.6h0M50.1 623.8h0M56.8 625.7h0M57.5 616.8h0M49.8 638.1h0M55.3 622.9h0M51.5 623.9h0M57.5 591.8h0M50.1 609.5h0M55.0 601.1h0M56.3 601.7h0M52.7 615.6h0M58.2 588.2h0M51.8 554.6h0M55.7 632.7h0M53.0 616.7h0M52.5 616.5h0M58.8 614.1h0M58.6 598.5h0M50.2 623.4h0M51.1 632.3h0M51.0 597.8h0M58.3 615.7h0M51.1 623.4h0M58.8 577.9h0M58.7 590.6h0M52.4 628.8h0M50.9 632.7h0M53.2 597.8h0M52.5 628.3h0M59.0 572.5h0M51.5 630.0h0M58.1 596.0h0M49.8 632.6h0M57.3 627.4h0M58.5 586.4h0M49.1 623.5h0M57.0 637.3h0M50.5 625.6h0M49.7 629.4h0M54.1 632.4h0M58.4 630.5h0M56.1 582.9h0M56.2 615.5h0M52.4 636.1h0M56.8 579.5h0M50.1 625.1h0M58.5 638.6h0M57.0 632.9h0M53.4 633.1h0M50.6 616.8h0M50.1 629.4h0M52.5 638.5h0M51.0 587.8h0M52.8 622.8h0M50.9 618.5h0M52.1 637.2h0M51.7 621.9h0M50.2 603.6h0M53.8 612.2h0M53.9 636.6h0M48.8 627.1h0M50.8 622.0h0M55.8 635.5h0M52.7 616.2h0M57.7 604.7h0M54.1 626.0h0M52.4 620.1h0M56.8 615.8h0M53.0 581.6h0M55.9 598.1h0M53.3 629.7h0M54.1 630.7h0M49.4 632.1h0M49.6 630.1h0M52.1 628.7h0M58.3 628.3h0M51.4 598.5h0M53.7 573.2h0M49.6 621.0h0M58.6 629.7h0M58.8 617.5h0M52.1 622.4h0M51.2 631.4h0M54.8 597.6h0M53.6 583.8h0M58.0 581.9h0M55.6 636.5h0M52.3 636.4h0M55.2 634.8h0M49.6 634.9h0M55.7 601.6h0M58.1 586.7h0M57.2 603.9h0M53.4 629.1h0M52.8 616.7h0M53.7 621.4h0M49.1 618.4h0M56.6 634.1h0M50.8 582.9h0M51.1 635.3h0M49.9 619.5h0M49.9 598.4h0M59.0 605.5h0M57.1 600.7h0M49.3 623.2h0M57.5 631.5h0M54.6 595.4h0M53.6 632.3h0M49.8 591.2h0M57.5 638.1h0M54.4 628.1h0M55.6 637.3h0M50.3 588.0h0M55.6 637.6h0M56.1 629.8h0M50.1 636.7h0M54.0 628.0h0M50.0 631.0h0M52.5 635.3h0M54.3 636.8h0M54.1 637.8h0M49.1 628.0h0M54.7 638.0h0M50.6 604.0h0M49.6 615.1h0M57.1 621.2h0M53.5 632.8h0M51.5 636.3h0M57.6 597.0h0M52.9 629.0h0M50.7 627.4h0M57.3 627.5h0M57.4 614.9h0M55.7 615.1h0M50.9 616.1h0M52.2 619.9h0M52.0 631.4h0M51.5 616.7h0M51.8 626.0h0M53.7 618.2h0M57.9 601.6h0M58.5 603.6h0M57.3 612.9h0M54.4 612.7h0M53.3 590.8h0M51.4 587.0h0M55.7 632.6h0M49.7 629.1h0M53.2 634.7h0M50.5 622.5h0M51.8 605.6h0M57.5 637.3h0M49.2 598.7h0M52.0 621.9h0M51.9 608.9h0M49.2 605.2h0M56.3 591.3h0M49.6 628.2h0M53.1 610.3h0M50.2 582.5h0M57.4 589.3h0M51.3 632.2h0M51.6 612.2h0M54.2 620.1h0M50.0 624.7h0M57.1 629.3h0M49.7 594.0h0M57.8 605.8h0M58.6 612.4h0M53.5 613.9h0M54.7 624.3h0M58.9 608.6h0M52.1 634.1h0M55.8 576.3h0M49.3 615.6h0M49.1 634.1h0M50.1 586.7h0M52.1 625.7h0M49.5 605.5h0M50.5 638.3h0M52.3 615.3h0M89.7 647.9h0M103.6 647.6h0M98.9 653.1h0M87.4 649.6h0M103.1 657.8h0M95.2 655.9h0M100.7 648.8h0M94.9 659.4h0M95.9 656.8h0M94.3 654.4h0M96.5 648.7h0M91.1 650.9h0M96.3 655.6h0M95.5 651.3h0M94.3 648.7h0M93.1 656.7h0M104.0 653.2h0M91.4 649.2h0M104.8 646.0h0M97.3 650.7h0M100.5 647.3h0M87.9 651.2h0M103.9 652.4h0M105.8 654.0h0M95.5 654.7h0M95.7 648.4h0M99.4 657.3h0M89.1 658.8h0M97.7 651.0h0M95.2 658.4h0M104.1 660.0h0M88.6 647.6h0M91.9 654.9h0M97.2 650.6h0M104.2 652.0h0M98.4 651.7h0M91.7 649.4h0M105.6 649.2h0M105.2 651.1h0M93.3 655.5h0M88.2 651.8h0M89.1 652.5h0M105.9 651.5h0M93.7 659.9h0M93.9 659.9h0M87.1 655.2h0M99.4 658.1h0M100.7 653.0h0M101.3 654.9h0M102.4 650.7h0M96.8 655.8h0M93.4 659.1h0M103.5 652.8h0M101.8 646.5h0M95.0 656.0h0M104.9 649.1h0M94.4 646.4h0M101.9 655.3h0M103.8 652.8h0M90.0 653.7h0M98.0 654.4h0M94.5 649.6h0M89.9 645.8h0M91.0 654.4h0M104.2 657.8h0M106.1 646.7h0M87.9 651.9h0M91.8 659.6h0M93.6 646.1h0M94.6 646.2h0M102.7 659.6h0M98.7 649.4h0M101.0 652.1h0M93.9 657.6h0M89.5 654.4h0M98.0 650.9h0M104.3 657.9h0M94.5 659.0h0M102.3 657.3h0M88.3 657.5h0M94.3 648.1h0M101.3 649.1h0M93.9 647.3h0M97.4 648.3h0M92.5 648.1h0M99.8 658.6h0M93.2 646.6h0M98.6 651.9h0M99.4 659.0h0M93.2 648.6h0M93.8 660.0h0M99.0 654.1h0M88.0 657.6h0M98.1 647.0h0M102.6 653.8h0M100.7 658.9h0M94.9 647.8h0M105.4 654.2h0M99.7 657.9h0M97.0 652.9h0M98.6 650.7h0M92.0 650.3h0M95.9 649.0h0M90.2 656.4h0M105.4 649.1h0M102.8 647.3h0M106.5 646.0h0M101.5 652.3h0M87.6 659.0h0M99.5 658.6h0M96.5 646.2h0M90.9 646.7h0M99.8 649.9h0M93.2 658.2h0M97.6 649.6h0M97.1 649.8h0M98.8 648.0h0M103.7 651.7h0M99.9 647.5h0M99.8 645.5h0M97.6 647.3h0M94.2 648.1h0M100.6 654.0h0M104.0 646.7h0M99.9 647.2h0M106.8 646.7h0M92.7 657.9h0M96.5 655.4h0M104.7 648.0h0M88.3 650.9h0M100.8 654.4h0M89.9 647.4h0M103.1 647.4h0M100.0 648.4h0M101.7 645.5h0M106.7 653.7h0M106.4 652.5h0M102.5 651.8h0M87.5 649.8h0M104.7 658.4h0M95.7 659.4h0M104.2 652.1h0M93.7 657.0h0M95.6 647.7h0M89.8 649.2h0M96.8 649.7h0M95.5 646.1h0M93.2 654.6h0M99.6 657.2h0M93.3 657.9h0M104.1 652.8h0M90.1 657.0h0M101.3 646.6h0M88.6 654.6h0M90.8 655.5h0M93.6 659.1h0M101.6 654.5h0M92.3 645.9h0M91.3 656.7h0M101.4 657.5h0M90.4 651.8h0M94.8 653.9h0M102.1 653.0h0M103.4 647.8h0M102.0 652.8h0M106.0 645.6h0M104.0 652.5h0M96.8 658.0h0M96.2 653.1h0M105.7 651.7h0M95.1 655.2h0M97.3 647.9h0M105.1 652.1h0M95.8 660.2h0M97.4 648.3h0M89.1 655.1h0M99.2 650.1h0M87.0 658.3h0M98.1 652.4h0M99.0 648.8h0M101.0 659.7h0M101.1 655.4h0M103.1 650.4h0M95.7 656.1h0M96.2 654.0h0M88.3 655.1h0M95.4 657.0h0M98.3 656.8h0M99.8 655.0h0M98.5 657.1h0M105.8 651.6h0M104.6 649.0h0M98.0 652.4h0M96.9 659.7h0M88.4 652.2h0M96.7 653.2h0M107.0 651.0h0M97.6 664.9h0M93.7 657.7h0M105.0 652.7h0M90.3 615.8h0M99.0 658.3h0M99.1 637.7h0M100.6 659.4h0M96.3 650.7h0M92.4 604.8h0M100.8 619.0h0M94.0 638.2h0M100.8 657.7h0M88.4 646.3h0M100.9 663.4h0M96.7 666.4h0M100.7 664.1h0M99.4 658.2h0M103.5 655.8h0M106.5 666.1h0M87.1 636.6h0M96.6 665.0h0M94.0 611.0h0M103.0 667.0h0M91.7 662.6h0M98.7 630.2h0M103.3 614.6h0M99.5 666.5h0M98.4 628.9h0M101.0 629.3h0M104.3 648.4h0M92.1 638.0h0M104.8 646.1h0M104.7 641.2h0M91.6 664.5h0M98.9 656.3h0M88.8 661.4h0M96.4 635.5h0M106.4 661.9h0M100.7 666.5h0M101.8 609.4h0M91.8 651.4h0M90.2 640.5h0M97.7 592.1h0M96.1 654.7h0M89.3 582.7h0M89.9 635.1h0M91.9 659.6h0M99.6 639.2h0M97.5 658.8h0M88.1 624.6h0M94.1 653.2h0M104.1 631.0h0M94.8 624.4h0M102.1 611.4h0M105.2 647.9h0M93.8 665.1h0M100.2 633.1h0M104.5 589.0h0M95.6 641.1h0M105.9 653.3h0M92.0 659.5h0M88.7 666.7h0M93.2 622.0h0M106.0 655.4h0M104.6 660.1h0M104.0 656.3h0M97.6 593.1h0M93.4 609.9h0M102.3 659.1h0M105.7 633.3h0M105.3 651.4h0M106.1 665.8h0M100.7 661.1h0M104.4 603.2h0M102.3 645.7h0M100.1 653.0h0M89.9 662.2h0M97.8 627.6h0M88.3 623.3h0M101.6 662.3h0M89.8 648.9h0M97.9 637.0h0M92.0 659.9h0M106.8 642.0h0M91.5 656.2h0M100.8 641.2h0M95.5 639.3h0M92.7 624.8h0M105.4 621.7h0M97.6 582.9h0M100.4 660.7h0M101.9 666.2h0M104.5 658.5h0M105.7 666.0h0M93.3 653.0h0M106.8 645.2h0M95.7 617.5h0M89.4 649.8h0M90.8 645.1h0M96.4 664.8h0M94.2 665.5h0M103.4 647.8h0M100.5 657.6h0M93.6 658.1h0M95.6 657.5h0M97.7 665.0h0M95.3 611.8h0M98.0 643.8h0M88.0 647.1h0M92.8 666.5h0M87.6 615.5h0M89.9 645.4h0M90.0 666.9h0M87.6 638.6h0M101.9 651.6h0M95.0 640.8h0M98.0 609.5h0M90.9 660.9h0M91.5 622.4h0M101.9 656.4h0M94.7 645.8h0M87.8 661.6h0M99.7 653.3h0M89.0 629.8h0M90.0 654.5h0M95.1 616.5h0M102.0 649.3h0M87.1 643.7h0M88.0 630.0h0M97.7 645.2h0M104.1 618.1h0M96.1 640.7h0M92.8 663.9h0M94.4 621.6h0M95.1 629.2h0M96.8 661.5h0M104.8 606.0h0M91.0 645.4h0M92.5 656.5h0M87.7 660.0h0M94.9 654.8h0M101.3 613.0h0M106.1 647.7h0M97.5 661.2h0M87.4 577.8h0M90.4 663.0h0M99.4 650.4h0M88.8 661.6h0M103.7 640.8h0M93.6 642.6h0M105.2 649.1h0M105.3 657.4h0M91.8 643.1h0M99.1 662.4h0M98.5 642.0h0M95.4 659.8h0M96.0 637.1h0M100.2 665.1h0M105.0 661.7h0M97.6 655.9h0M98.4 631.8h0M97.4 663.3h0M96.4 574.7h0M99.8 611.6h0M105.8 657.3h0M101.1 661.0h0M91.3 658.1h0M98.5 661.0h0M93.7 632.4h0M98.0 603.0h0M99.5 650.8h0M102.2 647.4h0M104.2 604.8h0M102.9 666.2h0M101.6 661.9h0M90.7 665.7h0M90.8 655.7h0M99.0 640.7h0M106.0 643.2h0M97.9 665.4h0M92.9 663.7h0M102.3 654.0h0M97.5 634.5h0M95.0 629.9h0M96.0 657.1h0M102.1 613.1h0M94.7 650.7h0M93.0 653.3h0M87.3 648.8h0M91.4 597.8h0M104.5 659.8h0M96.7 664.8h0M90.5 660.6h0M90.8 661.5h0M104.2 654.8h0M100.1 597.3h0M93.8 658.0h0M94.0 659.7h0M93.7 625.6h0M96.9 630.3h0M95.6 666.7h0M100.8 652.4h0M93.1 660.0h0M102.5 661.8h0M103.3 666.0h0M100.4 647.2h0M101.1 654.6h0M100.3 638.9h0M106.5 627.7h0M87.3 648.3h0M90.1 660.6h0M91.0 649.4h0M102.8 641.1h0M91.9 637.6h0M106.1 648.3h0M95.3 640.2h0M103.6 666.4h0M96.5 641.1h0M105.7 625.2h0M95.5 662.2h0M87.4 642.7h0M104.2 650.6h0M98.7 659.2h0M102.9 638.4h0M100.3 622.8h0M88.8 632.7h0M104.7 660.1h0M92.1 645.0h0M95.9 655.3h0M88.5 655.3h0M94.6 649.1h0M103.6 665.5h0M88.5 662.2h0M103.6 570.0h0M104.3 614.5h0M102.4 661.6h0M103.2 664.5h0M91.9 655.5h0M95.3 601.1h0M94.8 643.0h0M103.6 615.7h0M98.3 608.7h0M96.2 622.2h0M97.9 663.2h0M92.2 635.0h0M100.8 629.9h0M98.7 633.8h0M98.6 651.1h0M98.0 651.5h0M91.8 652.0h0M97.9 656.6h0M98.4 661.0h0M91.1 666.0h0M87.8 659.6h0M96.6 666.3h0M99.9 643.9h0M94.9 604.4h0M89.5 644.8h0M88.2 659.4h0M102.2 612.3h0M105.2 636.2h0M106.2 632.9h0M89.9 626.5h0M94.9 655.2h0M102.4 647.6h0M95.5 640.0h0M105.9 638.2h0M89.6 665.0h0M90.5 657.7h0M103.6 626.1h0M88.3 661.4h0M90.8 652.3h0M106.0 643.8h0M98.4 651.4h0M89.2 642.0h0M89.7 574.2h0M97.1 644.8h0M92.9 666.6h0M93.6 639.6h0M101.7 665.7h0M91.1 664.6h0M106.9 662.3h0M96.3 645.6h0M98.9 634.5h0M91.2 603.2h0M97.3 658.7h0M100.2 659.6h0M87.9 655.6h0M89.5 650.2h0M101.4 633.2h0M90.9 634.6h0M90.7 651.2h0M87.0 636.6h0M106.6 626.0h0M100.9 624.2h0M96.1 643.7h0M97.1 646.3h0M97.9 655.7h0M88.5 663.6h0M106.2 658.2h0M105.4 643.2h0M102.4 635.5h0M99.2 649.6h0M88.9 666.3h0M95.7 666.6h0M90.3 666.0h0M105.8 664.3h0M91.6 658.2h0M99.1 625.5h0M92.3 657.2h0M90.4 610.7h0M95.3 665.9h0M100.8 637.3h0M95.7 664.6h0M101.5 646.6h0M95.9 637.2h0M96.9 632.2h0M89.9 663.9h0M100.7 663.7h0M91.5 666.6h0M94.5 664.7h0M92.1 661.1h0M104.6 649.3h0M99.7 663.7h0M90.0 663.5h0M103.1 648.9h0M99.5 659.0h0M98.6 606.5h0M93.0 655.6h0M100.5 632.7h0M100.2 640.2h0M96.9 641.9h0M89.1 580.0h0M105.3 650.1h0M105.2 652.8h0M97.4 653.3h0M105.6 633.6h0M95.5 649.7h0M95.1 594.3h0M98.1 643.1h0M88.1 644.6h0M99.5 641.0h0M104.3 610.9h0M98.4 640.4h0M91.1 633.1h0M100.7 666.5h0M95.1 654.6h0M90.9 662.9h0M95.2 646.6h0M98.1 590.2h0M93.7 657.9h0M103.0 666.5h0M102.0 667.0h0M89.8 665.3h0M92.7 659.8h0M95.1 663.7h0M88.3 665.4h0M92.9 664.6h0M99.8 665.2h0M103.8 647.4h0M99.7 666.1h0M106.6 663.4h0M91.8 662.6h0M104.7 595.7h0M87.3 623.0h0M87.4 666.0h0M105.7 648.6h0M93.3 663.0h0M98.2 650.4h0M92.7 597.9h0M100.8 656.2h0M93.3 655.3h0M91.0 647.1h0M106.7 656.5h0M91.1 664.5h0M92.8 642.6h0M100.9 649.5h0M90.4 662.8h0M101.3 660.7h0M106.9 643.5h0M97.0 656.5h0M106.3 662.0h0M100.0 637.2h0M103.2 661.8h0M89.7 621.8h0M104.3 663.4h0M102.1 647.9h0M102.5 598.2h0M90.5 662.7h0M99.6 636.4h0M101.5 616.3h0M99.2 657.7h0M106.2 643.4h0M97.2 640.3h0M90.8 652.3h0M97.8 662.4h0M97.3 653.8h0M90.3 633.8h0M102.7 659.3h0M94.1 657.9h0M87.3 609.2h0M90.5 655.6h0M98.4 649.3h0M101.6 643.9h0M104.3 628.2h0M88.4 643.9h0M95.4 635.8h0M102.1 649.1h0M100.4 605.1h0M107.0 642.7h0M101.3 666.6h0M98.1 664.4h0M94.3 659.6h0M93.5 622.3h0M99.6 609.3h0M99.6 608.9h0M98.1 643.6h0M87.2 605.3h0M91.4 664.1h0M106.3 611.6h0M92.7 662.3h0M91.6 651.2h0M90.7 661.1h0M89.8 626.1h0M104.2 644.2h0M95.6 660.8h0M89.3 666.6h0M99.4 652.9h0M105.4 661.3h0M107.0 645.8h0M98.8 650.2h0M99.8 639.1h0M99.3 645.4h0M101.5 659.6h0M99.1 632.6h0M94.2 656.4h0M87.8 659.0h0M104.4 647.3h0M106.6 647.4h0M87.7 645.5h0M87.5 643.8h0M106.8 656.2h0M94.8 618.3h0M88.4 661.7h0M91.4 663.3h0M93.9 620.0h0M105.7 616.7h0M90.0 638.9h0M99.5 629.2h0M95.4 664.2h0M96.6 658.3h0M90.8 660.5h0M100.1 666.8h0M93.1 658.3h0M101.4 641.8h0M106.4 653.8h0M91.7 662.9h0M95.2 628.4h0M102.8 663.0h0M104.5 665.0h0M102.2 657.1h0M97.8 654.9h0M103.9 658.4h0M89.2 655.7h0M102.8 599.3h0M95.6 657.5h0M90.6 653.7h0M102.1 627.8h0M90.6 627.4h0M100.6 655.6h0M102.2 664.4h0M87.0 656.7h0M105.2 656.5h0M93.4 655.8h0M94.6 664.0h0M87.2 664.5h0M102.9 641.3h0M105.8 654.4h0M96.6 649.7h0M104.8 650.6h0M95.1 649.1h0M97.1 658.3h0M95.8 644.4h0M87.6 609.5h0M88.8 652.5h0M104.0 655.7h0M87.9 660.6h0M130.1 646.5h0M133.0 646.9h0M138.6 650.6h0M136.2 649.5h0M136.2 652.7h0M141.6 650.5h0M144.9 654.7h0M139.3 644.9h0M144.5 649.6h0M143.3 648.6h0M137.8 659.0h0M140.2 646.2h0M131.0 648.6h0M131.2 658.0h0M141.0 655.8h0M131.1 649.1h0M142.6 645.7h0M138.8 646.3h0M131.8 651.0h0M140.9 653.6h0M142.6 645.0h0M143.7 656.7h0M132.1 645.8h0M145.2 645.7h0M129.2 647.9h0M145.5 646.6h0M145.5 657.9h0M132.4 647.2h0M136.3 656.3h0M141.8 650.0h0M136.7 652.1h0M130.3 655.0h0M131.8 653.1h0M135.2 657.7h0M146.5 651.9h0M142.4 651.9h0M141.2 658.4h0M133.3 653.0h0M135.1 647.9h0M143.0 656.6h0M130.2 646.0h0M139.1 648.5h0M133.7 647.1h0M145.6 648.6h0M142.9 656.2h0M143.7 653.7h0M143.4 655.3h0M140.4 656.3h0M132.4 650.9h0M137.5 659.4h0M140.9 645.8h0M142.2 645.9h0M145.2 653.9h0M138.1 649.5h0M132.2 650.1h0M137.2 651.4h0M134.6 646.1h0M133.4 653.7h0M136.5 646.1h0M129.9 645.7h0M141.0 647.0h0M134.7 644.9h0M139.2 654.5h0M140.6 655.1h0M139.7 647.5h0M141.8 656.9h0M144.1 646.0h0M136.9 649.4h0M140.8 658.2h0M129.8 654.7h0M137.3 658.5h0M138.1 657.5h0M146.4 652.4h0M142.1 656.4h0M129.9 652.6h0M133.5 658.5h0M141.1 657.5h0M140.1 653.8h0M133.2 657.7h0M129.1 650.0h0M134.4 653.8h0M134.9 646.3h0M147.1 646.2h0M131.6 655.8h0M138.3 656.5h0M131.8 657.5h0M130.2 653.7h0M130.0 657.7h0M140.1 653.4h0M139.2 654.2h0M142.6 651.7h0M133.4 658.1h0M131.8 648.4h0M144.2 647.8h0M137.6 649.1h0M136.8 651.7h0M136.8 657.8h0M139.9 655.5h0M132.2 653.7h0M138.7 658.8h0M128.9 655.8h0M145.8 651.1h0M129.6 649.6h0M130.3 647.3h0M144.9 653.8h0M137.6 655.7h0M141.3 651.7h0M144.6 652.8h0M140.5 659.4h0M141.2 653.3h0M141.9 657.1h0M130.9 648.7h0M144.0 648.0h0M130.1 648.4h0M134.1 655.9h0M144.4 647.6h0M138.9 659.0h0M136.4 644.9h0M145.4 648.2h0M142.3 648.6h0M135.8 659.4h0M128.8 656.6h0M139.6 648.7h0M132.5 647.5h0M141.2 654.9h0M144.4 651.1h0M142.3 653.3h0M135.6 658.7h0M133.1 652.1h0M141.7 645.7h0M145.5 644.7h0M144.5 656.2h0M130.3 648.8h0M130.6 658.0h0M131.1 649.5h0M132.3 654.7h0M133.7 658.3h0M145.8 657.1h0M131.2 645.6h0M145.9 656.5h0M133.8 654.5h0M136.2 647.4h0M143.8 647.8h0M139.1 658.4h0M142.0 654.5h0M136.9 652.0h0M144.6 646.9h0M145.4 647.2h0M134.9 656.4h0M138.8 646.0h0M146.7 658.6h0M136.8 653.4h0M147.0 649.3h0M137.7 651.2h0M130.7 656.0h0M129.7 658.2h0M137.0 658.4h0M138.4 650.4h0M131.3 650.3h0M144.4 646.0h0M139.9 646.4h0M141.4 653.2h0M129.9 646.8h0M130.8 658.6h0M141.5 658.1h0M143.3 659.4h0M139.6 650.4h0M133.4 653.4h0M143.4 658.7h0M137.9 659.3h0M131.2 658.2h0M137.0 647.2h0M142.6 654.7h0M134.0 658.0h0M135.4 651.6h0M140.1 652.4h0M141.5 657.2h0M137.4 655.4h0M134.4 647.6h0M136.6 645.1h0M145.0 640.1h0M129.4 612.0h0M146.8 660.7h0M136.0 657.1h0M140.3 637.4h0M142.5 635.6h0M134.3 644.9h0M138.1 632.6h0M135.6 657.5h0M136.1 653.8h0M142.9 633.4h0M146.7 662.5h0M142.2 664.9h0M137.9 596.4h0M136.3 648.6h0M145.3 653.4h0M145.5 664.6h0M129.7 657.9h0M144.0 642.7h0M136.6 643.7h0M137.5 569.5h0M137.0 658.7h0M135.0 627.8h0M137.6 645.4h0M145.9 637.8h0M146.2 651.7h0M131.8 660.8h0M129.4 647.3h0M139.1 649.2h0M132.7 661.5h0M143.9 656.0h0M129.4 616.0h0M147.0 651.6h0M138.7 639.2h0M131.2 647.2h0M136.6 656.8h0M138.3 664.1h0M139.9 665.7h0M135.8 624.3h0M145.2 633.8h0M131.0 654.7h0M140.1 658.2h0M132.5 620.6h0M147.1 644.6h0M145.1 630.9h0M143.6 602.7h0M137.3 660.1h0M131.5 648.4h0M134.3 599.9h0M133.6 662.5h0M131.9 663.2h0M134.2 581.3h0M142.1 662.4h0M144.6 663.4h0M133.4 652.6h0M140.7 664.0h0M133.7 641.4h0M130.0 661.5h0M137.5 661.2h0M130.2 665.8h0M136.5 632.9h0M139.6 661.9h0M133.7 659.6h0M134.6 634.3h0M139.9 632.5h0M133.3 662.1h0M146.7 595.4h0M140.5 662.6h0M133.8 652.8h0M131.3 624.6h0M130.0 637.2h0M129.2 662.0h0M147.1 663.1h0M146.1 631.3h0M129.8 617.9h0M134.9 619.4h0M143.2 662.1h0M135.3 663.9h0M140.5 634.4h0M144.0 628.8h0M128.9 639.3h0M135.4 647.9h0M140.3 643.7h0M144.5 653.6h0M132.2 661.7h0M146.3 641.8h0M140.9 661.8h0M135.1 630.2h0M140.3 615.9h0M131.5 647.4h0M137.3 649.2h0M145.4 626.5h0M132.7 660.8h0M133.7 626.5h0M129.7 661.2h0M138.3 648.7h0M146.1 660.8h0M134.4 662.8h0M135.4 661.5h0M145.5 608.5h0M134.4 663.0h0M140.5 665.6h0M142.3 643.0h0M131.7 650.7h0M146.2 657.9h0M142.6 656.3h0M143.8 636.3h0M135.5 647.3h0M134.5 623.0h0M140.0 609.6h0M131.2 657.7h0M134.4 650.1h0M130.1 660.1h0M145.8 663.8h0M141.9 574.8h0M144.0 665.3h0M144.9 652.6h0M138.3 650.4h0M141.7 661.8h0M128.9 652.0h0M147.0 651.8h0M138.3 660.3h0M141.7 643.9h0M146.5 662.7h0M144.2 658.9h0M141.2 647.9h0M136.1 662.9h0M132.0 657.7h0M135.0 665.0h0M129.1 633.3h0M141.7 642.7h0M143.9 663.9h0M141.4 638.0h0M140.0 610.0h0M139.3 661.7h0M135.0 653.4h0M128.9 630.5h0M129.0 632.9h0M129.8 655.5h0M133.1 652.5h0M136.6 639.2h0M132.2 634.9h0M132.8 663.3h0M138.5 644.6h0M131.2 595.3h0M144.4 614.5h0M129.7 617.5h0M129.8 639.4h0M131.5 597.4h0M135.2 652.7h0M137.6 663.8h0M131.4 644.6h0M129.6 663.7h0M145.2 656.4h0M137.7 661.8h0M136.3 648.0h0M135.3 605.5h0M146.9 656.1h0M142.5 664.1h0M140.2 641.6h0M136.4 648.1h0M139.8 659.4h0M140.7 654.3h0M140.1 631.9h0M130.2 646.4h0M136.7 651.8h0M135.6 657.4h0M139.8 653.7h0M142.0 636.5h0M129.5 639.6h0M142.7 616.1h0M145.6 660.2h0M132.1 619.6h0M130.0 664.2h0M129.8 621.2h0M136.7 627.5h0M134.2 650.8h0M146.9 638.3h0M136.9 644.0h0M138.6 649.3h0M134.6 647.4h0M137.6 634.3h0M137.9 656.7h0M141.2 634.3h0M147.2 651.1h0M137.6 663.9h0M146.5 655.9h0M137.4 602.1h0M143.7 641.6h0M140.4 659.5h0M142.7 662.7h0M135.1 635.2h0M140.3 643.2h0M137.8 646.7h0M146.5 661.0h0M138.9 621.2h0M130.6 660.9h0M146.3 618.2h0M129.3 641.3h0M138.6 655.7h0M129.9 659.7h0M145.4 639.0h0M136.4 661.8h0M131.0 598.9h0M129.6 658.9h0M134.8 585.8h0M136.3 663.7h0M145.4 653.3h0M135.3 661.2h0M140.9 660.9h0M138.5 662.4h0M145.2 650.1h0M136.7 626.7h0M141.0 665.4h0M144.3 658.0h0M131.8 655.6h0M147.1 648.5h0M145.4 617.5h0M130.5 639.3h0M144.1 655.0h0M141.2 661.8h0M138.3 599.5h0M130.6 652.8h0M134.2 627.7h0M134.8 663.0h0M130.2 656.0h0M146.6 604.5h0M144.6 654.8h0M135.7 654.9h0M145.0 662.9h0M133.3 665.8h0M138.1 642.2h0M141.9 626.2h0M146.4 654.0h0M137.8 641.6h0M135.0 636.7h0M142.7 661.7h0M144.8 658.2h0M134.1 664.7h0M131.4 630.2h0M142.9 659.3h0M143.5 647.7h0M138.0 618.1h0M141.6 662.8h0M142.6 657.2h0M138.8 663.7h0M128.9 658.0h0M137.8 662.4h0M146.8 664.7h0M131.5 599.9h0M129.5 664.5h0M131.9 615.9h0M134.1 644.9h0M146.8 653.3h0M144.1 633.5h0M140.3 642.5h0M145.1 653.9h0M139.9 636.5h0M143.7 663.9h0M139.7 621.2h0M138.8 657.1h0M142.0 659.2h0M138.7 644.3h0M130.9 648.6h0M130.6 601.0h0M135.2 654.8h0M143.0 644.9h0M135.0 659.0h0M143.2 644.4h0M145.9 647.8h0M137.0 649.4h0M132.7 649.1h0M139.5 664.9h0M138.2 627.6h0M136.2 654.4h0M131.2 662.0h0M129.8 622.4h0M134.9 659.2h0M144.1 629.0h0M141.6 616.9h0M139.1 622.4h0M136.9 620.0h0M146.2 649.3h0M136.2 654.5h0M141.0 663.5h0M135.9 610.6h0M143.0 630.2h0M135.1 628.3h0M142.0 665.2h0M142.8 642.7h0M143.9 665.2h0M136.7 665.8h0M136.5 651.7h0M142.0 647.1h0M147.2 625.6h0M136.3 657.8h0M140.5 650.6h0M143.6 608.3h0M132.0 641.0h0M145.7 663.3h0M135.9 625.1h0M133.9 640.4h0M136.9 629.7h0M146.0 608.9h0M137.5 635.8h0M146.8 624.6h0M136.1 655.2h0M143.5 660.8h0M143.0 660.1h0M140.4 593.8h0M139.0 662.3h0M136.3 662.8h0M136.6 662.2h0M133.2 635.9h0M131.7 654.3h0M147.0 660.7h0M142.7 610.8h0M139.9 662.1h0M140.0 645.2h0M131.0 594.7h0M137.5 657.5h0M141.5 661.5h0M129.0 657.9h0M138.5 660.1h0M139.4 609.5h0M144.1 652.0h0M135.2 624.3h0M145.3 634.1h0M146.0 641.6h0M141.6 646.9h0M142.0 649.0h0M132.5 661.9h0M136.4 657.3h0M146.9 649.3h0M143.1 642.8h0M136.7 638.1h0M144.0 639.4h0M133.7 660.4h0M134.8 628.7h0M138.3 662.3h0M129.9 604.5h0M139.8 609.5h0M140.3 652.8h0M136.4 665.8h0M140.0 648.6h0M145.9 604.1h0M134.7 609.5h0M133.7 614.0h0M146.4 664.0h0M130.9 647.5h0M129.9 618.3h0M135.9 630.9h0M131.9 634.1h0M146.4 635.0h0M131.5 658.6h0M137.6 647.7h0M133.8 639.4h0M146.0 640.2h0M130.9 666.1h0M135.2 592.9h0M135.1 653.6h0M143.9 610.6h0M141.6 658.0h0M137.4 663.1h0M138.2 632.3h0M137.2 647.5h0M129.7 639.2h0M139.8 665.0h0M137.6 650.9h0M137.4 621.6h0M143.7 647.3h0M141.7 656.6h0M147.0 657.0h0M137.5 624.5h0M133.6 637.7h0M135.6 664.0h0M146.4 629.5h0M134.3 656.2h0M142.9 661.6h0M131.3 645.0h0M144.8 662.4h0M139.3 655.1h0M141.8 632.2h0M134.0 651.8h0M135.4 660.1h0M146.3 636.1h0M136.5 654.7h0M145.4 621.4h0M136.1 665.1h0M140.0 659.2h0M139.5 601.3h0M139.2 641.1h0M142.4 657.7h0M130.4 643.5h0M132.0 641.9h0M142.2 627.5h0M140.5 606.0h0M144.8 664.9h0M144.3 632.3h0M140.3 652.8h0M146.4 647.7h0M137.0 640.2h0M131.9 664.6h0M137.2 658.3h0M141.8 611.0h0M147.2 663.6h0M132.2 659.9h0M135.3 654.3h0M142.5 623.2h0M132.1 655.7h0M133.3 650.4h0M144.9 664.9h0M145.1 653.1h0M136.7 633.9h0M143.9 640.3h0M143.8 625.5h0M140.4 651.8h0M140.5 628.7h0M131.3 644.2h0M132.7 629.3h0M132.1 650.3h0M138.1 635.7h0M140.9 629.6h0M134.2 660.1h0M129.2 652.6h0M131.4 665.0h0M145.1 652.3h0M130.1 663.6h0M138.6 653.4h0M138.8 665.2h0M132.4 649.9h0M137.4 660.3h0M141.1 628.8h0M141.3 632.1h0M143.6 664.9h0M131.9 665.3h0M129.8 648.5h0M140.0 630.5h0M134.2 656.5h0M138.6 582.9h0M145.3 628.5h0M140.1 664.7h0M139.8 645.3h0M133.1 637.1h0M144.3 608.5h0M139.2 664.2h0M145.4 621.7h0M131.8 659.1h0M140.8 637.2h0M145.4 651.9h0M144.7 663.4h0M170.5 638.5h0M177.5 647.6h0M172.3 643.9h0M183.3 642.2h0M180.0 633.8h0M181.0 639.9h0M182.2 643.6h0M172.3 636.8h0M174.6 636.7h0M173.6 644.5h0M169.7 642.3h0M177.2 634.5h0M168.2 638.3h0M177.3 646.3h0M181.2 638.9h0M171.2 643.5h0M183.1 642.8h0M168.5 634.4h0M176.5 637.8h0M177.0 633.4h0M178.7 640.2h0M175.7 641.6h0M173.3 635.1h0M171.7 642.9h0M181.5 642.2h0M174.9 646.5h0M169.9 639.7h0M178.1 642.7h0M183.1 642.1h0M180.7 634.6h0M169.8 644.7h0M180.9 645.5h0M177.9 647.7h0M177.5 634.7h0M180.1 646.0h0M174.5 635.6h0M179.2 639.5h0M171.3 646.9h0M175.6 642.2h0M183.0 640.7h0M177.0 642.8h0M171.8 639.8h0M169.9 643.8h0M178.4 637.8h0M181.6 646.5h0M178.4 640.2h0M179.0 642.8h0M170.1 636.9h0M181.9 635.0h0M177.8 636.0h0M168.6 643.2h0M181.0 646.8h0M181.9 639.6h0M168.1 633.6h0M167.9 647.0h0M173.9 647.6h0M179.7 636.0h0M178.8 639.0h0M181.3 635.0h0M177.8 646.6h0M172.1 643.5h0M169.7 642.6h0M169.4 636.9h0M171.1 647.5h0M176.3 639.9h0M177.9 641.4h0M181.5 643.5h0M181.5 639.4h0M180.8 639.5h0M182.9 638.1h0M168.0 643.4h0M176.0 647.1h0M180.0 647.3h0M182.2 634.1h0M170.8 647.7h0M170.3 640.8h0M175.8 646.1h0M169.7 648.0h0M172.7 639.5h0M181.4 633.5h0M177.1 640.7h0M176.6 645.4h0M178.7 643.7h0M183.2 644.8h0M183.1 642.5h0M168.1 634.5h0M180.3 634.8h0M176.4 633.9h0M173.2 646.6h0M170.0 642.3h0M181.8 635.4h0M179.8 647.0h0M172.6 647.4h0M177.5 639.2h0M180.4 642.9h0M175.6 647.4h0M177.9 640.4h0M172.7 636.8h0M167.9 646.4h0M169.8 642.1h0M173.8 644.2h0M178.6 643.9h0M180.1 634.6h0M171.9 644.7h0M179.4 635.1h0M179.9 638.2h0M174.1 646.6h0M179.1 641.5h0M168.6 638.5h0M182.2 638.8h0M176.2 640.7h0M180.0 637.2h0M180.9 635.7h0M175.8 641.4h0M171.1 644.3h0M183.3 647.8h0M183.3 634.9h0M179.2 635.6h0M174.8 641.7h0M176.1 639.8h0M171.8 639.0h0M178.8 638.2h0M182.4 635.0h0M168.8 645.6h0M181.1 643.2h0M179.9 646.7h0M175.2 638.8h0M177.7 638.4h0M178.6 641.6h0M176.0 634.3h0M175.2 647.1h0M171.8 635.1h0M181.6 634.7h0M169.9 643.2h0M168.7 647.2h0M171.7 647.5h0M178.7 636.4h0M175.4 640.6h0M181.0 637.8h0M167.9 643.0h0M183.3 637.2h0M178.3 647.2h0M174.7 639.7h0M170.1 644.8h0M180.7 644.6h0M175.9 644.0h0M177.4 634.5h0M180.7 638.1h0M182.3 633.7h0M182.5 643.9h0M174.2 634.1h0M168.1 640.1h0M180.0 638.9h0M172.6 633.6h0M175.3 646.0h0M177.9 628.7h0M174.2 643.3h0M170.9 629.8h0M172.6 636.0h0M183.2 654.4h0M172.2 626.5h0M171.3 617.2h0M178.5 653.4h0M173.4 649.7h0M181.7 649.0h0M179.0 637.9h0M175.1 648.7h0M179.9 641.4h0M173.2 654.8h0M175.8 597.6h0M182.8 646.6h0M182.8 604.6h0M179.1 649.4h0M170.4 605.7h0M182.7 653.0h0M174.1 647.6h0M170.2 651.8h0M178.8 639.6h0M176.7 653.3h0M169.6 654.4h0M182.8 637.6h0M178.1 653.1h0M175.4 645.0h0M178.4 642.9h0M180.7 624.5h0M171.1 647.1h0M170.6 652.7h0M175.8 628.9h0M175.7 614.9h0M171.9 619.3h0M170.0 640.4h0M176.0 629.2h0M169.1 615.5h0M179.1 651.9h0M169.4 625.3h0M173.3 581.1h0M183.2 648.5h0M172.6 649.6h0M171.2 647.0h0M175.6 613.7h0M179.1 653.9h0M170.5 649.9h0M176.2 635.4h0M182.5 595.4h0M169.3 637.0h0M180.4 654.1h0M173.0 640.0h0M178.6 646.6h0M179.8 647.3h0M168.9 643.5h0M179.8 645.3h0M178.5 613.8h0M168.9 647.3h0M168.8 641.6h0M181.1 646.7h0M178.5 633.1h0M178.3 644.1h0M180.9 614.0h0M174.0 651.8h0M176.7 649.6h0M177.5 652.7h0M175.0 630.4h0M170.0 630.5h0M183.2 648.1h0M179.4 651.3h0M174.4 633.8h0M171.8 646.9h0M171.8 590.2h0M169.6 651.7h0M183.4 633.6h0M171.1 634.1h0M180.6 615.1h0M168.0 649.6h0M169.6 636.8h0M172.2 648.8h0M183.3 652.2h0M173.6 641.8h0M175.2 645.6h0M182.9 592.9h0M178.8 620.0h0M181.7 654.5h0M169.5 621.7h0M175.7 639.7h0M182.0 651.8h0M173.3 636.2h0M173.8 647.2h0M176.8 631.4h0M175.8 650.7h0M179.9 653.5h0M176.4 645.0h0M172.6 609.7h0M169.2 606.4h0M174.5 641.6h0M171.0 620.8h0M175.8 649.5h0M182.2 623.9h0M179.2 652.7h0M176.8 642.4h0M180.6 643.6h0M173.3 639.8h0M168.4 651.1h0M174.4 650.9h0M179.0 652.8h0M179.3 640.7h0M175.8 646.7h0M182.3 607.6h0M180.1 633.1h0M182.4 638.0h0M172.3 651.7h0M174.5 607.8h0M171.1 645.6h0M168.7 638.0h0M178.2 649.9h0M168.3 646.4h0M172.0 647.1h0M172.7 644.3h0M172.2 646.4h0M179.8 636.6h0M182.0 635.5h0M169.3 610.5h0M172.2 654.4h0M182.0 652.9h0M172.4 652.2h0M174.0 632.7h0M171.0 652.5h0M173.0 644.1h0M181.5 654.9h0M175.2 623.7h0M178.2 602.4h0M175.7 644.1h0M174.8 648.0h0M172.1 644.6h0M172.9 629.7h0M183.0 616.5h0M172.1 614.8h0M178.8 637.8h0M177.6 653.2h0M169.5 647.4h0M181.3 638.9h0M173.6 644.3h0M180.3 651.2h0M179.1 645.6h0M172.1 603.8h0M174.7 641.1h0M168.7 651.3h0M174.2 624.5h0M170.1 636.1h0M173.5 641.4h0M171.7 549.2h0M177.4 607.1h0M180.2 653.2h0M167.8 641.6h0M179.0 653.4h0M182.3 645.2h0M178.4 652.8h0M179.3 637.8h0M168.2 628.1h0M168.7 650.8h0M175.2 648.8h0M171.3 597.9h0M168.3 647.9h0M179.5 641.5h0M181.4 597.1h0M180.8 651.7h0M174.4 652.2h0M178.0 654.6h0M170.3 654.6h0M181.4 619.9h0M170.6 645.5h0M178.4 645.5h0M178.1 652.6h0M168.6 640.8h0M177.4 637.2h0M171.9 622.5h0M171.4 570.0h0M171.8 630.0h0M172.4 645.6h0M180.5 644.3h0M180.4 633.3h0M172.2 653.6h0M173.4 640.5h0M175.3 654.3h0M168.7 647.6h0M173.2 638.5h0M175.3 612.1h0M177.3 644.2h0M182.8 629.4h0M175.6 642.3h0M179.5 645.7h0M177.6 639.5h0M172.8 639.5h0M169.0 621.6h0M173.4 640.3h0M179.0 649.2h0M176.1 637.1h0M171.2 607.3h0M171.7 646.9h0M174.1 594.3h0M177.8 642.9h0M182.0 652.0h0M175.3 644.7h0M178.0 649.3h0M177.4 634.9h0M182.1 594.0h0M169.9 565.1h0M169.7 654.6h0M179.5 640.3h0M171.6 627.3h0M169.9 608.6h0M178.1 641.9h0M181.6 645.2h0M173.2 648.7h0M182.7 645.9h0M169.3 639.7h0M182.2 647.9h0M180.7 640.7h0M175.2 645.2h0M174.4 642.2h0M168.5 592.0h0M169.3 652.8h0M170.6 654.1h0M171.3 650.2h0M176.5 627.9h0M168.5 647.7h0M169.8 646.6h0M173.0 624.5h0M181.1 633.7h0M179.6 645.3h0M178.3 652.9h0M174.8 635.6h0M175.8 646.3h0M171.6 617.1h0M173.5 583.0h0M178.6 632.8h0M177.8 646.3h0M177.6 649.9h0M180.1 646.2h0M181.9 607.6h0M169.4 603.9h0M174.5 643.8h0M174.9 636.7h0M171.7 617.0h0M170.6 647.0h0M168.7 616.6h0M170.3 631.9h0M175.9 642.9h0M183.0 633.3h0M172.1 638.2h0M178.6 649.4h0M174.5 652.5h0M181.4 626.2h0M177.9 645.6h0M173.0 646.3h0M174.5 621.1h0M168.8 636.4h0M178.1 642.6h0M177.5 617.6h0M172.4 644.5h0M182.4 648.2h0M173.0 635.4h0M176.6 649.2h0M175.8 636.2h0M169.3 645.3h0M174.3 643.2h0M177.1 652.4h0M177.6 612.2h0M170.5 652.6h0M171.0 624.7h0M175.0 649.5h0M182.7 653.7h0M181.2 625.2h0M173.9 642.0h0M172.3 651.8h0M181.5 641.3h0M182.3 643.0h0M180.8 620.7h0M169.0 618.8h0M182.6 603.9h0M175.8 650.5h0M179.1 585.4h0M170.0 631.1h0M177.2 649.8h0M182.7 609.9h0M174.7 640.5h0M175.4 649.5h0M181.0 654.0h0M178.3 644.4h0M173.4 642.9h0M171.9 654.8h0M168.2 651.6h0M175.6 649.3h0M177.7 635.7h0M170.0 636.8h0M174.5 645.0h0M167.9 653.2h0M168.5 649.4h0M168.5 651.1h0M168.7 646.3h0M178.9 653.9h0M180.9 627.7h0M180.5 654.4h0M173.9 604.7h0M176.2 584.6h0M172.8 636.1h0M174.2 619.8h0M177.1 651.3h0M173.5 639.5h0M180.4 650.5h0M170.8 650.3h0M183.2 604.4h0M169.7 649.5h0M170.7 594.2h0M170.7 644.7h0M177.3 576.4h0M175.5 582.3h0M175.4 646.6h0M175.4 650.4h0M180.6 649.0h0M172.4 651.4h0M172.4 610.3h0M183.4 614.0h0M176.4 628.7h0M175.1 626.5h0M178.1 643.6h0M172.6 654.5h0M178.5 653.9h0M175.2 653.1h0M174.2 635.8h0M181.7 635.2h0M173.7 652.2h0M182.1 631.9h0M181.8 623.7h0M168.9 648.7h0M181.3 646.5h0M177.2 646.7h0M175.5 654.1h0M172.4 630.8h0M172.9 618.5h0M170.2 625.0h0M179.9 653.1h0M168.7 647.5h0M174.9 627.7h0M178.9 650.2h0M170.2 651.6h0M175.0 650.4h0M181.9 649.9h0M175.9 650.4h0M176.8 653.9h0M178.2 653.0h0M182.5 649.0h0M173.3 626.2h0M171.2 653.4h0M180.3 614.7h0M175.4 637.3h0M178.9 589.5h0M181.4 643.1h0M175.2 616.6h0M181.3 644.2h0M179.1 640.8h0M172.3 625.4h0M175.0 632.4h0M180.7 654.3h0M169.3 652.5h0M177.2 619.0h0M202.7 640.8h0M203.3 635.1h0M202.7 648.3h0M202.4 646.2h0M202.4 644.2h0M203.3 636.5h0M202.8 643.3h0M203.1 639.7h0M202.4 634.5h0M203.4 647.2h0M202.9 647.3h0M202.9 638.3h0M202.8 645.9h0M202.8 640.9h0M202.7 643.9h0M202.4 646.2h0M203.0 647.2h0M203.5 634.5h0M203.1 636.8h0M202.4 637.1h0M202.9 639.9h0M202.9 645.3h0M202.3 644.0h0M203.4 636.3h0M202.7 647.5h0M203.1 639.4h0M203.0 633.9h0M202.8 622.4h0M203.2 640.5h0M203.4 635.4h0M202.7 646.5h0M202.4 641.7h0M202.3 649.4h0M202.5 651.5h0M202.5 612.6h0M203.4 639.0h0M203.3 649.8h0M203.2 651.1h0M202.8 654.2h0M202.8 611.9h0M202.8 654.1h0M202.7 639.7h0M202.8 652.1h0M203.5 603.5h0M203.4 635.0h0M202.4 651.5h0M202.4 637.9h0M202.5 633.0h0M202.7 634.4h0M202.8 639.2h0M203.4 622.8h0M203.0 615.7h0M202.5 642.1h0M202.4 625.7h0M202.3 654.0h0M203.0 650.6h0M202.3 645.8h0M202.5 612.9h0M203.1 651.6h0M203.3 648.3h0M203.6 638.0h0M202.4 552.2h0M202.8 648.9h0M202.6 649.0h0M202.5 644.0h0M203.1 652.1h0M203.1 641.1h0M202.9 653.8h0M203.2 641.7h0M202.9 652.1h0M203.6 639.2h0M202.6 626.9h0M202.7 651.0h0M202.9 635.1h0M203.2 647.8h0M202.5 652.8h0M203.0 640.8h0M202.6 650.4h0M202.5 645.7h0M203.2 606.0h0M202.5 650.9h0M202.8 642.1h0M203.0 605.2h0M203.1 645.9h0M202.4 630.7h0M202.7 655.2h0M203.3 628.3h0M212.2 631.4h0M209.0 641.4h0M211.4 634.2h0M210.6 634.4h0M210.2 642.4h0M210.0 630.9h0M207.7 641.2h0M209.9 642.3h0M207.3 640.8h0M211.1 636.5h0M208.4 632.4h0M209.7 639.1h0M207.4 635.6h0M212.1 642.9h0M207.8 638.1h0M208.3 635.5h0M213.6 639.0h0M207.5 640.9h0M209.4 631.9h0M211.3 640.5h0M212.3 633.7h0M211.3 634.5h0M210.9 630.9h0M213.9 641.0h0M213.5 633.8h0M211.9 643.6h0M209.4 633.0h0M210.0 634.8h0M212.2 636.7h0M211.2 633.8h0M210.8 631.8h0M207.5 642.7h0M214.7 635.2h0M207.9 639.4h0M207.7 642.5h0M209.7 641.6h0M212.7 643.7h0M213.9 634.5h0M209.9 636.5h0M211.7 638.2h0M210.2 637.8h0M211.6 636.2h0M212.8 630.9h0M214.1 632.9h0M208.6 631.1h0M211.7 632.9h0M210.9 638.3h0M213.6 643.5h0M212.2 638.4h0M212.6 635.9h0M207.5 642.5h0M210.0 633.1h0M209.7 644.2h0M213.1 641.1h0M210.2 642.7h0M211.9 638.0h0M212.3 642.7h0M210.7 637.8h0M212.9 641.9h0M211.9 637.7h0M209.2 643.6h0M210.8 633.5h0M214.7 637.4h0M207.8 640.9h0M207.1 638.5h0M212.5 639.1h0M207.1 643.7h0M213.2 633.7h0M207.6 639.7h0M210.6 640.7h0M207.6 632.8h0M212.6 634.6h0M212.9 644.9h0M209.8 633.1h0M207.2 638.4h0M208.8 639.6h0M208.3 642.7h0M208.8 642.9h0M209.7 636.9h0M212.9 630.3h0M208.3 634.9h0M210.3 640.2h0M210.8 636.3h0M214.6 631.0h0M214.9 640.9h0M208.7 646.4h0M211.2 589.5h0M211.9 635.1h0M211.0 648.5h0M207.2 604.3h0M209.3 628.9h0M214.3 626.6h0M211.2 619.9h0M212.0 582.2h0M208.4 600.4h0M208.4 644.5h0M207.5 643.7h0M210.3 636.2h0M209.9 628.4h0M207.7 639.6h0M210.1 613.5h0M213.5 616.4h0M208.2 601.6h0M214.8 620.0h0M212.6 627.5h0M207.5 649.3h0M207.4 623.2h0M208.6 596.5h0M211.6 642.3h0M207.5 647.8h0M213.8 635.0h0M213.6 612.5h0M207.8 645.3h0M214.7 635.1h0M212.6 599.4h0M210.4 641.3h0M212.3 645.8h0M208.6 626.9h0M208.0 648.8h0M208.5 620.6h0M212.8 614.5h0M212.9 642.9h0M208.3 608.4h0M214.1 646.8h0M209.0 643.5h0M210.1 637.9h0M213.1 633.6h0M213.4 616.8h0M213.8 638.0h0M211.9 612.0h0M209.8 647.3h0M212.0 648.2h0M209.8 583.1h0M213.8 639.9h0M208.3 641.4h0M214.8 645.9h0M214.3 636.7h0M210.2 646.2h0M209.3 634.1h0M212.1 631.5h0M214.8 647.4h0M211.8 641.6h0M208.8 621.1h0M207.8 626.2h0M212.0 633.4h0M211.0 646.2h0M213.1 641.5h0M208.8 645.1h0M208.7 618.7h0M208.4 648.6h0M210.8 645.5h0M214.1 581.5h0M211.4 644.0h0M207.5 647.8h0M214.4 650.1h0M213.9 650.0h0M207.4 651.0h0M213.7 651.4h0M211.0 610.0h0M209.3 651.2h0M212.0 640.2h0M214.8 641.0h0M210.4 649.1h0M207.5 617.9h0M214.3 647.7h0M211.9 598.0h0M211.7 651.7h0M213.9 622.9h0M210.7 603.9h0M209.5 630.3h0M211.2 608.1h0M211.0 637.0h0M213.2 645.8h0M213.5 643.9h0M210.0 650.4h0M211.5 639.7h0M210.5 648.8h0M208.6 641.4h0M209.7 639.0h0M207.9 651.3h0M209.0 647.9h0M215.0 631.9h0M214.7 625.9h0M214.4 637.9h0M209.3 616.9h0M210.7 650.5h0M212.0 586.3h0M213.9 643.3h0M208.3 651.7h0M207.3 593.8h0M207.6 646.7h0M214.0 631.5h0M214.8 610.6h0M210.5 640.3h0M209.8 593.6h0M213.4 649.9h0M214.5 607.8h0M210.4 648.6h0M211.1 647.6h0M212.4 613.5h0M211.9 637.0h0M212.6 556.7h0M210.6 593.0h0M214.4 647.1h0M207.3 628.8h0M213.2 645.3h0M207.2 617.1h0M207.6 648.8h0M212.5 623.5h0M208.7 623.9h0M208.7 642.1h0M207.5 624.4h0M207.6 616.1h0M207.3 649.3h0M207.3 645.7h0M207.8 620.5h0M209.6 604.9h0M214.3 620.1h0M213.0 644.6h0M210.4 626.3h0M207.9 604.0h0M208.1 643.4h0M210.9 627.8h0M210.9 647.4h0M213.7 646.8h0M210.1 588.0h0M211.6 638.0h0M208.6 628.8h0M210.6 598.9h0M214.4 627.2h0M214.3 617.7h0M210.5 643.3h0M211.7 612.0h0M214.5 634.4h0M214.4 605.1h0M211.4 615.6h0M208.1 645.6h0M214.0 645.4h0M207.9 614.8h0M208.7 631.2h0M208.4 644.9h0M210.3 615.6h0M209.3 643.6h0M208.3 644.6h0M212.2 633.3h0M213.1 617.1h0M214.0 635.6h0M213.9 648.3h0M208.3 645.0h0M209.5 649.5h0M214.1 633.0h0M208.6 650.3h0M207.3 632.8h0M207.4 649.4h0M212.8 639.7h0M214.5 636.8h0M213.6 622.0h0M214.2 634.0h0M207.3 630.6h0M211.9 613.4h0M212.9 626.0h0M210.3 650.3h0M209.7 649.9h0M208.5 614.0h0M211.5 598.5h0M213.3 643.4h0M207.2 635.6h0M211.2 601.1h0M214.3 635.4h0M209.3 620.0h0M207.9 606.7h0M207.3 647.7h0M209.2 631.4h0M211.9 651.7h0M208.2 646.6h0M209.8 648.3h0M208.9 650.3h0M210.4 639.9h0M208.3 651.0h0M207.1 612.9h0M208.6 636.0h0M211.3 624.0h0M213.8 637.2h0M211.2 632.5h0M211.6 648.8h0M213.7 634.0h0M208.4 624.1h0M207.8 610.7h0M240.8 634.9h0M232.6 644.2h0M239.1 637.9h0M243.5 640.0h0M235.4 639.1h0M232.8 637.2h0M231.8 639.6h0M231.7 634.2h0M235.8 646.1h0M240.8 646.7h0M233.0 646.4h0M242.1 632.9h0M236.8 637.8h0M239.6 639.3h0M232.9 636.3h0M231.4 646.3h0M241.1 644.3h0M232.3 641.3h0M241.9 638.9h0M240.3 632.8h0M240.6 645.8h0M232.4 634.5h0M236.0 638.0h0M233.4 641.6h0M235.4 637.7h0M239.7 635.6h0M236.7 643.6h0M234.5 635.2h0M237.6 646.2h0M236.1 643.8h0M243.0 637.0h0M238.6 636.3h0M232.3 641.2h0M242.2 644.4h0M241.7 638.4h0M233.5 640.9h0M232.2 644.8h0M240.6 635.8h0M232.3 646.2h0M238.9 638.1h0M238.2 639.4h0M243.1 636.1h0M232.6 644.9h0M231.3 643.7h0M243.6 632.1h0M239.6 638.7h0M239.4 643.1h0M235.0 641.2h0M237.9 634.3h0M237.9 636.5h0M239.0 636.7h0M238.7 632.2h0M240.2 645.9h0M238.0 640.3h0M240.4 637.9h0M235.9 645.8h0M241.5 643.5h0M241.6 637.8h0M242.8 644.2h0M232.1 641.4h0M237.3 642.1h0M241.5 632.8h0M241.0 637.0h0M232.3 639.6h0M231.6 637.6h0M241.4 633.2h0M236.8 635.9h0M238.1 638.7h0M243.0 646.7h0M242.3 640.4h0M240.2 643.4h0M243.0 632.6h0M232.1 640.1h0M234.0 635.9h0M242.2 642.5h0M233.0 641.4h0M231.8 634.8h0M233.7 637.7h0M235.1 645.0h0M238.8 633.9h0M242.0 633.9h0M242.1 633.6h0M239.7 640.9h0M236.7 633.7h0M238.2 642.1h0M234.5 633.0h0M239.0 634.3h0M233.4 642.8h0M232.9 637.4h0M231.5 641.6h0M242.7 640.0h0M237.5 641.2h0M232.6 639.0h0M231.5 640.7h0M238.0 641.6h0M232.1 635.9h0M235.7 641.6h0M239.0 640.8h0M237.7 646.7h0M239.3 635.4h0M240.2 640.7h0M233.9 641.2h0M232.4 639.1h0M243.3 633.8h0M231.8 645.0h0M240.8 636.5h0M236.2 634.3h0M240.5 636.8h0M231.5 641.7h0M237.7 633.7h0M236.9 635.2h0M243.0 646.4h0M237.1 638.3h0M240.2 632.8h0M241.4 640.8h0M233.8 635.9h0M235.1 641.9h0M243.5 636.4h0M233.2 640.6h0M238.9 636.8h0M232.4 644.6h0M238.0 634.7h0M238.8 637.8h0M234.5 638.4h0M236.6 646.3h0M243.6 646.1h0M236.1 653.5h0M233.2 636.7h0M238.3 642.7h0M232.6 646.3h0M242.2 633.1h0M239.2 599.0h0M233.1 631.0h0M232.4 630.1h0M237.9 630.8h0M243.4 605.4h0M236.4 624.0h0M236.5 621.0h0M240.5 645.6h0M241.4 633.3h0M233.8 625.7h0M232.6 619.2h0M233.5 646.8h0M235.0 632.0h0M236.2 640.5h0M243.0 649.6h0M236.7 621.7h0M239.0 630.8h0M232.2 635.8h0M237.2 634.5h0M240.6 650.7h0M239.5 644.8h0M241.7 625.9h0M238.7 648.6h0M238.6 633.2h0M234.8 635.4h0M235.5 651.8h0M239.0 589.9h0M235.5 640.1h0M232.9 636.0h0M233.6 647.9h0M243.1 611.1h0M233.6 630.2h0M238.6 653.1h0M243.4 618.1h0M234.8 590.7h0M241.6 618.5h0M238.9 635.8h0M235.6 648.5h0M241.6 609.3h0M243.2 633.9h0M242.4 625.0h0M243.4 647.0h0M233.3 583.9h0M238.8 612.1h0M237.7 650.8h0M242.0 620.5h0M240.1 641.5h0M237.9 638.5h0M234.0 621.0h0M232.4 622.4h0M234.2 616.2h0M239.4 652.8h0M231.5 630.8h0M240.7 652.5h0M240.9 644.2h0M241.1 637.6h0M242.0 612.5h0M242.7 653.5h0M242.6 640.9h0M241.8 648.7h0M236.0 645.5h0M241.9 653.0h0M231.3 627.7h0M232.8 642.3h0M240.1 650.9h0M233.7 646.8h0M235.9 619.3h0M234.2 646.9h0M242.2 619.0h0M234.0 625.6h0M235.1 649.4h0M235.2 591.9h0M242.8 645.1h0M234.3 630.2h0M234.7 619.5h0M233.6 624.5h0M237.8 651.0h0M231.4 646.6h0M242.6 609.1h0M242.3 647.9h0M231.6 630.5h0M236.5 635.9h0M240.6 635.3h0M231.8 617.4h0M236.1 640.6h0M235.2 618.2h0M236.6 612.9h0M235.4 649.1h0M236.5 642.2h0M239.4 635.0h0M235.7 619.0h0M241.7 648.7h0M232.1 649.2h0M238.6 645.8h0M239.9 637.2h0M236.4 630.4h0M235.2 643.9h0M236.5 644.8h0M231.2 618.6h0M240.7 646.9h0M241.3 638.9h0M231.4 651.1h0M240.8 630.0h0M235.4 632.3h0M231.3 649.2h0M243.1 598.1h0M235.3 586.7h0M233.0 642.6h0M231.4 629.6h0M233.3 627.8h0M243.4 646.4h0M234.1 628.2h0M239.3 616.4h0M233.8 629.9h0M234.5 603.0h0M237.1 637.5h0M235.0 648.3h0M239.9 624.3h0M242.2 621.2h0M234.1 598.9h0M234.0 629.6h0M237.2 630.3h0M242.0 598.0h0M236.3 618.4h0M234.9 640.7h0M234.9 586.6h0M234.5 641.1h0M241.2 620.7h0M235.4 644.0h0M243.0 611.9h0M236.0 636.1h0M236.3 644.5h0M242.4 632.2h0M237.8 634.4h0M234.3 650.0h0M234.8 646.5h0M243.3 596.3h0M240.3 616.3h0M241.4 633.5h0M242.3 653.1h0M241.2 641.6h0M233.6 645.8h0M240.9 644.0h0M243.1 643.3h0M240.4 651.9h0M239.5 645.3h0M234.3 599.3h0M232.9 624.1h0M237.0 650.4h0M231.5 638.2h0M237.7 653.0h0M233.8 593.7h0M240.1 615.0h0M234.6 641.7h0M240.3 637.4h0M232.2 610.0h0M232.1 630.7h0M236.2 612.8h0M231.3 615.4h0M231.3 641.3h0M238.2 645.3h0M237.2 644.5h0M242.5 644.6h0M242.7 635.8h0M240.5 632.7h0M238.3 627.8h0M243.2 652.3h0M242.3 644.9h0M242.6 647.9h0M243.1 627.1h0M240.5 586.3h0M238.8 603.3h0M239.7 649.4h0M232.8 612.4h0M241.7 634.0h0M242.9 618.8h0M235.0 592.1h0M243.4 625.8h0M237.9 653.6h0M237.4 642.4h0M235.7 620.1h0M238.1 628.1h0M243.5 648.9h0M231.5 619.5h0M234.7 648.0h0M241.8 615.5h0M242.2 632.0h0M234.0 653.6h0M232.7 626.3h0M240.7 631.7h0M239.0 640.6h0M236.0 630.7h0M237.2 642.0h0M235.2 613.5h0M232.3 636.5h0M237.6 646.5h0M233.3 604.0h0M238.4 603.1h0M233.1 641.9h0M238.8 597.9h0M240.0 653.3h0M233.8 645.7h0M236.7 646.8h0M239.4 642.7h0M240.1 651.1h0M240.0 610.6h0M238.8 651.2h0M239.8 645.0h0M238.0 647.2h0M235.7 636.9h0M241.1 647.1h0M239.9 638.0h0M234.7 647.2h0M241.4 616.2h0M237.3 630.6h0M237.3 649.2h0M237.4 613.5h0M231.6 651.5h0M242.0 646.2h0M237.2 643.4h0M242.7 648.6h0M237.9 632.5h0M233.6 638.7h0M242.3 643.1h0M237.7 653.4h0M232.8 648.6h0M232.8 633.1h0M236.3 648.4h0M242.3 646.3h0M234.2 646.9h0M233.4 650.1h0M234.9 648.3h0M240.4 637.9h0M232.5 641.8h0M240.3 640.8h0M242.9 597.1h0M233.7 648.5h0M239.8 644.9h0M232.6 590.0h0M231.3 621.2h0M240.7 638.1h0M235.3 649.6h0M238.1 596.5h0M238.2 648.2h0M237.1 624.4h0M241.0 651.6h0M242.1 606.2h0M236.8 628.6h0M231.2 604.9h0M241.0 645.1h0M232.7 643.6h0M235.7 637.3h0M239.7 614.4h0M236.7 628.5h0M242.9 630.9h0M242.5 599.4h0M233.4 644.9h0M241.1 647.7h0M239.8 610.4h0M238.3 641.4h0M234.5 649.5h0M240.0 611.1h0M234.4 646.0h0M237.3 652.3h0M234.4 604.2h0M240.5 627.5h0M232.6 639.3h0M242.3 583.4h0M239.6 641.0h0M240.0 636.1h0M238.8 649.2h0M231.5 637.7h0M236.6 633.6h0M234.9 653.6h0M231.5 607.4h0M240.3 645.4h0M233.3 624.2h0M241.8 653.4h0M241.3 650.1h0M239.1 650.5h0M243.5 603.8h0M233.1 650.8h0M241.3 639.2h0M241.0 652.0h0M238.6 646.2h0M238.7 627.5h0M240.0 650.6h0M231.9 588.9h0M236.9 631.3h0M234.8 639.1h0M238.5 652.6h0M232.5 645.4h0M234.6 653.0h0M234.8 649.3h0M242.1 633.4h0M232.0 641.4h0M267.6 653.5h0M269.2 661.7h0M268.9 653.8h0M267.1 655.4h0M271.3 663.1h0M264.3 658.5h0M265.7 659.0h0M266.7 659.1h0M263.8 650.3h0M262.7 662.5h0M264.8 654.1h0M268.5 659.6h0M263.5 660.9h0M271.0 652.3h0M263.7 657.5h0M268.4 658.8h0M269.2 649.6h0M268.4 651.5h0M270.5 652.0h0M267.7 663.9h0M269.7 651.4h0M270.3 661.4h0M262.5 650.7h0M266.0 656.6h0M264.3 661.1h0M269.7 659.1h0M262.9 659.9h0M266.7 653.4h0M268.9 656.8h0M271.5 658.6h0M263.0 649.7h0M270.6 659.6h0M263.3 651.8h0M269.0 658.0h0M267.5 653.5h0M264.8 662.2h0M265.6 651.4h0M262.0 652.3h0M269.9 663.2h0M264.6 652.7h0M270.5 655.2h0M262.2 660.1h0M269.1 656.3h0M266.2 657.2h0M269.4 653.1h0M267.4 657.5h0M270.4 650.2h0M268.9 650.2h0M268.7 663.5h0M264.2 656.8h0M266.4 658.6h0M271.3 650.0h0M267.1 660.1h0M271.3 650.0h0M268.9 659.2h0M264.9 658.9h0M268.5 651.9h0M264.0 649.8h0M269.8 650.8h0M264.0 654.1h0M264.1 652.1h0M271.0 654.9h0M266.0 662.4h0M262.4 663.1h0M266.2 659.2h0M262.2 652.4h0M271.2 660.7h0M261.8 656.3h0M267.8 657.0h0M270.5 656.4h0M262.2 653.0h0M270.4 660.6h0M269.8 650.1h0M266.1 656.4h0M269.4 663.6h0M264.6 651.3h0M267.5 662.8h0M264.4 656.0h0M262.6 651.6h0M266.5 651.5h0M266.5 655.3h0M264.5 654.9h0M270.1 650.5h0M266.2 663.7h0M267.2 660.8h0M271.1 663.6h0M267.4 654.1h0M266.1 660.0h0M266.0 656.2h0M262.4 662.2h0M263.6 651.7h0M271.1 662.4h0M262.2 658.9h0M265.5 663.7h0M267.9 659.1h0M270.3 655.8h0M264.5 662.3h0M263.4 663.3h0M262.8 662.0h0M267.1 651.0h0M266.5 655.4h0M268.1 655.8h0M271.3 655.1h0M266.6 638.8h0M267.8 656.4h0M271.5 643.9h0M261.6 662.6h0M265.3 662.4h0M263.5 666.5h0M263.3 650.8h0M266.1 668.7h0M268.3 667.0h0M269.6 665.7h0M262.8 663.8h0M265.8 659.6h0M264.8 661.2h0M271.2 670.6h0M261.7 669.6h0M263.1 663.6h0M264.8 642.7h0M266.1 661.3h0M271.2 643.8h0M270.8 668.8h0M265.3 656.3h0M265.5 664.1h0M267.3 660.1h0M269.8 591.6h0M264.8 662.3h0M267.4 668.0h0M263.4 670.0h0M271.4 667.1h0M262.2 666.2h0M263.3 660.5h0M263.8 666.3h0M268.7 668.3h0M268.4 666.1h0M269.0 668.5h0M270.1 668.8h0M262.5 646.6h0M271.1 662.7h0M263.0 660.7h0M266.9 668.7h0M265.7 667.3h0M269.7 649.0h0M270.4 657.5h0M269.7 669.1h0M264.4 663.6h0M270.5 669.8h0M267.6 665.0h0M269.2 663.0h0M271.0 662.7h0M264.6 656.4h0M270.6 668.4h0M270.7 664.5h0M264.1 670.5h0M266.3 660.3h0M267.7 661.5h0M264.1 664.1h0M269.0 646.9h0M271.5 657.8h0M268.6 669.7h0M269.5 666.9h0M269.4 654.9h0M268.1 648.2h0M271.2 653.8h0M270.0 641.9h0M270.3 641.1h0M266.7 629.3h0M270.9 659.4h0M263.7 658.7h0M262.7 666.9h0M262.7 658.1h0M269.4 668.5h0M267.9 668.9h0M267.6 622.9h0M264.8 668.9h0M264.7 663.4h0M271.4 658.8h0M262.8 664.7h0M265.8 669.8h0M267.3 669.2h0M266.0 665.3h0M270.0 662.6h0M270.8 651.3h0M266.5 668.9h0M270.2 669.0h0M267.3 670.4h0M265.5 657.4h0M267.0 669.8h0M267.9 670.7h0M264.8 666.7h0M262.9 638.4h0M264.4 618.6h0M262.3 617.2h0M263.2 655.0h0M266.0 650.4h0M263.7 663.4h0M268.9 670.4h0M261.8 666.7h0M263.1 657.4h0M267.7 662.3h0M271.3 661.1h0M265.8 663.3h0M263.9 655.4h0M264.0 665.8h0M264.5 664.2h0M262.8 660.2h0M263.7 667.6h0M267.1 670.8h0M270.1 668.9h0M267.0 658.7h0M263.7 670.1h0M265.0 650.9h0M267.1 659.8h0M266.1 659.9h0M266.8 670.2h0M263.0 654.5h0M263.3 660.7h0M267.6 670.3h0M270.3 670.4h0M267.1 664.1h0M270.5 652.3h0M269.4 649.1h0M270.0 629.1h0M266.1 667.7h0M270.6 661.1h0M269.0 664.0h0M269.3 648.4h0M261.8 664.7h0M266.7 659.5h0M267.7 663.5h0M263.5 668.1h0M262.3 668.3h0M263.6 660.8h0M264.3 668.7h0M265.8 667.2h0M262.3 665.2h0M263.0 657.8h0M267.5 659.8h0M265.3 669.1h0M264.7 665.2h0M265.4 664.7h0M290.8 624.1h0M289.5 622.5h0M287.2 630.6h0M290.3 624.2h0M288.0 628.2h0M288.6 630.5h0M289.3 619.3h0M287.4 619.8h0M288.4 632.3h0M291.5 619.0h0M292.4 621.4h0M286.7 628.3h0M288.3 620.7h0M288.8 628.0h0M293.2 619.7h0M288.0 627.9h0M288.1 632.2h0M289.0 628.4h0M292.7 629.0h0M291.2 632.9h0M287.1 624.2h0M291.5 625.4h0M292.2 620.6h0M290.0 632.5h0M288.4 631.2h0M287.4 633.0h0M292.3 623.1h0M288.2 629.5h0M292.1 623.9h0M286.9 619.3h0M292.6 619.6h0M289.1 620.6h0M289.8 628.5h0M288.4 631.8h0M288.9 622.2h0M290.8 619.2h0M290.0 628.0h0M287.7 619.5h0M289.9 621.2h0M291.5 628.1h0M286.5 619.7h0M291.3 622.6h0M292.5 624.1h0M288.6 631.3h0M293.2 622.1h0M287.4 621.9h0M292.3 622.1h0M289.3 627.9h0M289.7 624.3h0M291.5 632.1h0M289.5 632.0h0M286.3 629.4h0M287.0 627.0h0M287.7 630.3h0M291.4 627.1h0M287.2 623.2h0M289.3 621.0h0M290.2 625.7h0M288.5 621.7h0M289.6 631.4h0M289.7 627.9h0M288.6 624.2h0M287.0 626.7h0M290.6 622.3h0M290.9 622.1h0M286.2 632.4h0M287.0 621.4h0M293.0 628.4h0M288.0 631.7h0M292.4 623.1h0M287.4 631.3h0M291.8 627.3h0M286.9 630.8h0M293.1 630.2h0M287.8 626.7h0M286.6 621.1h0M289.5 633.6h0M287.1 638.2h0M287.5 631.5h0M292.9 622.2h0M290.6 596.0h0M289.4 637.7h0M292.0 639.0h0M293.2 616.6h0M291.9 636.7h0M287.7 560.3h0M291.6 608.3h0M292.5 604.3h0M288.0 619.8h0M288.4 620.2h0M286.7 619.0h0M290.8 640.4h0M292.5 612.6h0M292.4 606.2h0M290.8 626.9h0M291.5 635.6h0M290.8 618.2h0M291.2 639.4h0M288.7 587.5h0M287.4 576.8h0M288.3 637.6h0M286.8 636.7h0M288.2 639.9h0M288.4 598.3h0M289.8 625.3h0M289.7 580.3h0M288.6 598.2h0M289.9 630.5h0M290.2 632.7h0M287.4 610.6h0M289.1 632.5h0M292.4 624.2h0M288.9 626.0h0M287.5 632.6h0M289.7 638.3h0M288.5 636.5h0M288.6 631.4h0M290.3 637.1h0M291.4 631.8h0M290.4 632.8h0M287.5 608.9h0M287.9 633.2h0M292.3 600.5h0M292.3 618.6h0M293.0 629.2h0M289.1 638.2h0M289.1 634.1h0M286.4 600.2h0M289.8 611.8h0M290.0 568.3h0M291.9 625.7h0M288.7 613.4h0M286.9 606.8h0M293.2 613.2h0M290.4 594.4h0M287.6 631.2h0M291.7 620.5h0M290.5 627.6h0M288.1 618.8h0M292.7 633.8h0M289.0 636.0h0M291.4 629.1h0M291.1 631.9h0M287.6 626.1h0M287.6 629.4h0M292.1 627.0h0M293.2 628.6h0M287.7 615.6h0M289.4 630.9h0M291.8 629.9h0M289.8 628.2h0M292.6 587.2h0M293.1 629.0h0M286.8 617.3h0M292.3 614.9h0M287.2 636.6h0M290.0 636.5h0M290.2 620.8h0M287.5 604.4h0M288.5 630.4h0M288.9 629.2h0M292.7 585.5h0M291.4 620.3h0M288.6 603.6h0M289.8 609.5h0M292.4 636.9h0M290.6 598.8h0M287.3 612.5h0M286.2 621.0h0M287.7 630.6h0M287.2 630.7h0M290.6 619.2h0M287.7 639.7h0M292.5 564.3h0M292.4 584.9h0M286.3 615.7h0M290.9 638.4h0M292.9 550.7h0M286.5 639.6h0M290.3 615.0h0M292.7 613.5h0M288.2 594.8h0M289.0 608.6h0M289.3 622.1h0M290.7 564.0h0M287.5 627.3h0M290.8 628.9h0M289.8 632.1h0M289.0 629.7h0M286.8 587.0h0M291.5 638.4h0M287.5 591.9h0M292.2 616.1h0M292.9 615.9h0M292.3 631.6h0M292.3 611.7h0M292.7 631.3h0M286.8 623.8h0M292.5 602.1h0M287.6 619.1h0M286.3 638.0h0M287.4 592.6h0M291.0 605.6h0M292.9 634.9h0M287.7 626.2h0M291.1 628.5h0M292.4 638.6h0M288.8 636.2h0M291.2 616.5h0M287.9 627.4h0M287.6 638.8h0M287.5 599.2h0M287.6 638.8h0M287.8 633.2h0M290.5 611.6h0M290.1 638.0h0M288.8 627.8h0M291.6 626.3h0M290.8 637.9h0M287.3 632.2h0M292.1 560.9h0M286.2 638.6h0M286.8 584.8h0M288.1 638.8h0M288.2 637.3h0M292.7 629.1h0M287.8 638.6h0M292.5 630.1h0M291.1 611.2h0M286.7 619.4h0M293.0 636.2h0M289.7 627.4h0M288.4 631.0h0M286.5 591.8h0M292.3 589.8h0M290.2 593.4h0M288.0 576.9h0M291.0 615.4h0M286.7 635.2h0M288.2 606.6h0M291.6 638.9h0M291.0 633.4h0M286.7 634.1h0M293.0 619.4h0M288.8 626.0h0M287.1 635.0h0M287.0 604.2h0M288.6 638.8h0M286.5 627.4h0M290.1 610.9h0M291.7 615.0h0M291.6 610.2h0M290.7 627.9h0M287.1 609.5h0M305.5 624.3h0M308.4 621.0h0M306.7 627.1h0M306.9 632.0h0M306.3 635.1h0M309.6 625.9h0M308.5 631.2h0M306.1 632.6h0M309.7 632.2h0M312.0 630.2h0M312.4 628.7h0M310.7 630.3h0M305.6 632.7h0M309.4 631.5h0M307.4 621.6h0M307.9 627.0h0M309.5 620.8h0M307.0 633.8h0M310.8 633.5h0M310.4 621.4h0M310.0 626.6h0M311.7 632.1h0M310.7 623.2h0M308.9 621.5h0M310.1 622.4h0M312.5 622.1h0M305.6 632.4h0M307.0 633.3h0M311.0 629.3h0M307.8 630.3h0M309.3 621.0h0M307.6 635.1h0M305.5 625.3h0M312.5 630.7h0M308.4 634.9h0M308.5 635.5h0M307.5 625.7h0M312.0 627.8h0M311.8 629.7h0M306.3 625.1h0M310.2 627.0h0M306.5 634.1h0M310.2 623.9h0M306.1 626.5h0M310.1 627.3h0M306.4 631.9h0M310.5 631.0h0M308.7 622.3h0M308.1 635.5h0M305.9 625.7h0M307.7 621.0h0M306.1 623.4h0M306.6 627.9h0M311.0 629.8h0M309.4 621.5h0M310.1 626.4h0M309.2 628.5h0M306.0 623.9h0M311.2 624.3h0M309.2 628.5h0M309.8 635.5h0M306.5 635.0h0M309.5 626.6h0M305.5 624.9h0M309.7 629.7h0M307.9 635.0h0M311.1 622.9h0M308.0 625.8h0M309.3 624.4h0M305.8 625.6h0M306.5 625.9h0M306.8 622.9h0M309.1 632.2h0M307.7 627.7h0M310.3 630.9h0M307.8 625.7h0M305.9 630.4h0M306.4 623.2h0M310.7 624.3h0M305.8 587.2h0M308.0 604.2h0M306.4 589.7h0M305.9 638.3h0M311.8 628.9h0M307.8 599.8h0M307.8 641.1h0M309.6 637.4h0M309.2 613.7h0M308.6 627.9h0M307.0 623.6h0M309.1 603.0h0M312.4 642.0h0M307.8 619.8h0M305.7 642.2h0M306.3 599.7h0M308.9 638.1h0M309.9 640.1h0M308.4 640.7h0M311.3 613.8h0M310.4 639.6h0M308.4 632.5h0M310.7 592.6h0M306.3 629.3h0M310.5 624.5h0M306.7 622.5h0M311.6 612.8h0M311.1 630.6h0M306.9 613.0h0M311.2 640.7h0M310.5 625.2h0M308.8 640.1h0M306.7 636.0h0M306.1 599.6h0M307.3 635.3h0M309.0 641.6h0M306.3 581.4h0M311.5 623.2h0M310.7 632.8h0M311.3 614.6h0M307.7 615.3h0M310.9 635.7h0M306.9 614.5h0M305.7 640.8h0M309.5 611.1h0M309.9 625.2h0M306.6 632.1h0M308.7 574.3h0M306.3 628.6h0M311.2 626.6h0M309.7 597.2h0M310.1 632.8h0M307.2 633.3h0M306.6 633.3h0M306.6 623.4h0M306.2 627.5h0M307.9 640.2h0M310.8 641.9h0M305.9 637.5h0M310.7 626.1h0M308.6 587.0h0M310.3 586.0h0M308.0 625.0h0M309.8 629.4h0M310.4 628.7h0M309.6 626.4h0M307.3 639.7h0M307.7 605.5h0M310.3 616.5h0M308.2 608.5h0M308.2 642.2h0M309.4 593.6h0M306.4 642.3h0M309.5 625.1h0M306.1 638.8h0M305.9 627.1h0M308.4 623.3h0M311.1 625.0h0M309.7 628.0h0M310.8 626.8h0M309.5 641.6h0M311.3 601.2h0M306.0 637.2h0M312.3 624.1h0M308.1 619.2h0M306.2 611.4h0M309.8 639.8h0M311.6 566.6h0M311.5 590.7h0M306.3 622.5h0M306.8 625.7h0M307.1 566.7h0M310.9 602.6h0M306.1 631.3h0M309.9 640.1h0M305.8 610.5h0M308.5 634.2h0M308.9 641.0h0M308.0 618.6h0M310.7 641.1h0M309.7 629.5h0M306.6 628.4h0M312.4 638.2h0M310.6 629.9h0M308.3 632.8h0M311.1 629.8h0M307.8 597.9h0M309.9 633.0h0M309.4 638.4h0M308.7 614.6h0M308.3 622.0h0M305.8 629.2h0M306.8 637.6h0M307.5 622.4h0M305.7 641.9h0M309.3 629.5h0M308.3 637.1h0M307.9 630.5h0M311.2 631.6h0M308.8 628.4h0M309.4 614.7h0M310.8 634.0h0M308.2 638.2h0M306.7 612.5h0M305.8 632.6h0M307.8 600.6h0M306.2 615.0h0M307.6 626.3h0M307.8 613.8h0M311.5 634.8h0M311.1 614.6h0M308.6 634.2h0M311.6 638.5h0M311.7 624.3h0M310.4 637.7h0M307.6 630.3h0M305.8 640.8h0M308.1 635.4h0M306.1 639.0h0M310.8 631.0h0M305.8 612.0h0M310.2 605.2h0M308.2 639.5h0M306.8 611.8h0M309.9 626.1h0M309.0 580.4h0M307.1 604.0h0M311.5 630.9h0M311.3 611.0h0M312.3 627.8h0M307.5 613.0h0M307.5 635.6h0M309.1 610.2h0M311.2 629.3h0M308.2 633.2h0M310.0 598.8h0M309.4 638.9h0M310.8 631.0h0M309.3 636.4h0M307.0 611.7h0M307.8 634.5h0M311.1 640.7h0M310.4 637.5h0M306.3 625.6h0M312.4 636.8h0M311.8 625.4h0M307.6 637.5h0M306.8 620.2h0M308.1 596.4h0M305.5 601.5h0M312.0 628.3h0M306.3 617.5h0M310.4 642.1h0M310.4 628.2h0M308.3 638.3h0M308.7 619.4h0M305.8 628.5h0M308.8 587.8h0M310.0 636.7h0M306.6 637.1h0M306.3 635.2h0M310.6 602.9h0M312.1 640.2h0M312.1 619.6h0M326.0 625.9h0M325.3 630.0h0M322.5 633.5h0M323.7 631.5h0M325.2 628.1h0M323.8 626.5h0M324.7 631.2h0M323.4 627.2h0M325.5 632.6h0M322.9 623.7h0M323.0 626.5h0M327.2 623.0h0M325.2 626.6h0M323.9 630.7h0M322.7 633.5h0M327.3 629.8h0M327.8 626.3h0M326.7 623.9h0M323.4 633.6h0M326.7 631.8h0M327.1 629.0h0M324.4 622.8h0M327.0 629.8h0M326.1 633.1h0M324.0 631.4h0M324.5 629.3h0M327.7 628.2h0M327.6 632.4h0M326.7 622.3h0M322.8 619.9h0M325.4 625.4h0M326.7 626.2h0M323.4 630.6h0M324.6 631.1h0M327.3 630.6h0M327.2 629.7h0M326.5 623.0h0M323.5 628.5h0M324.9 622.7h0M323.8 621.7h0M325.9 628.7h0M326.1 626.2h0M326.6 622.5h0M322.6 625.6h0M326.3 633.3h0M326.7 626.0h0M326.0 627.8h0M323.1 632.0h0M323.5 629.7h0M327.1 622.5h0M326.7 619.9h0M325.2 622.7h0M326.7 626.3h0M324.9 632.6h0M323.8 619.0h0M324.3 623.6h0M327.5 626.1h0M323.7 620.2h0M324.2 625.1h0M323.1 623.1h0M323.4 630.1h0M324.4 621.6h0M325.2 632.0h0M324.6 629.6h0M325.9 629.3h0M325.4 637.9h0M327.5 639.5h0M324.2 638.8h0M327.6 636.1h0M327.6 628.2h0M324.3 632.8h0M323.6 631.7h0M323.9 624.8h0M324.0 590.0h0M324.3 625.8h0M326.2 609.9h0M323.6 618.0h0M324.7 628.2h0M327.8 604.2h0M327.2 614.8h0M322.6 626.9h0M325.3 636.6h0M323.8 624.8h0M322.4 627.9h0M324.4 617.4h0M325.0 632.0h0M324.7 625.1h0M322.9 624.4h0M326.8 636.7h0M325.0 614.4h0M322.8 634.1h0M324.8 631.3h0M323.5 602.2h0M324.3 637.1h0M322.4 637.9h0M322.4 621.6h0M324.8 627.5h0M325.5 613.3h0M327.4 633.7h0M325.3 637.5h0M324.5 615.1h0M323.4 574.9h0M324.0 634.9h0M326.6 587.2h0M325.1 613.3h0M326.7 638.4h0M325.8 599.4h0M326.8 638.4h0M322.9 618.5h0M324.9 620.8h0M325.4 629.7h0M326.6 594.1h0M327.9 610.6h0M326.7 630.3h0M324.5 628.1h0M327.4 640.0h0M324.1 611.2h0M325.8 639.7h0M325.1 627.7h0M322.9 636.9h0M323.5 636.7h0M322.4 620.3h0M327.7 635.9h0M327.8 594.9h0M324.6 631.7h0M327.1 599.1h0M327.7 592.3h0M322.6 637.0h0M326.8 587.0h0M322.7 603.7h0M325.3 638.2h0M322.5 639.4h0M323.1 604.9h0M327.4 626.7h0M326.2 621.4h0M323.6 630.0h0M325.3 613.1h0M326.9 633.4h0M324.8 630.0h0M325.9 595.2h0M327.6 618.1h0M327.4 635.6h0M324.6 612.1h0M324.3 589.0h0M325.6 629.7h0M327.3 635.0h0M325.2 617.3h0M326.3 617.7h0M324.7 639.4h0M325.9 622.6h0M323.5 629.4h0M324.7 624.4h0M326.7 638.5h0M322.8 625.2h0M327.1 638.6h0M324.5 637.7h0M327.2 639.0h0M325.0 630.3h0M327.0 615.7h0M322.9 638.5h0M323.4 627.2h0M325.9 633.2h0M325.4 633.2h0M322.9 619.8h0M323.2 615.7h0M327.7 592.7h0M326.7 636.4h0M327.2 639.4h0M323.4 634.7h0M324.1 612.5h0M326.1 604.4h0M322.6 618.5h0M326.9 620.0h0M324.8 631.3h0M323.8 588.8h0M323.8 623.4h0M326.5 624.8h0M324.9 631.0h0M325.6 637.0h0M327.3 609.4h0M325.3 621.4h0M324.7 627.7h0M324.9 626.8h0M324.4 632.4h0M327.1 638.5h0M326.0 615.3h0M323.5 586.2h0M326.0 638.8h0M327.8 598.7h0M323.3 621.1h0M323.6 632.1h0M326.2 640.3h0M324.4 617.2h0M322.6 606.4h0M325.5 632.2h0M322.4 633.3h0M323.9 640.0h0M327.4 629.7h0M324.4 640.2h0M323.9 637.4h0M325.4 613.1h0M326.3 605.6h0M327.5 635.9h0M323.2 639.4h0M323.0 568.8h0M327.6 631.0h0M324.9 618.6h0M323.1 627.1h0M324.9 640.0h0M323.1 587.2h0M322.7 639.9h0M338.6 632.2h0M337.5 638.4h0M340.6 633.9h0M338.1 641.0h0M337.5 629.5h0M339.7 642.5h0M340.1 637.5h0M338.0 642.0h0M338.2 639.0h0M340.6 638.4h0M338.4 637.7h0M339.0 631.5h0M339.6 633.2h0M338.6 640.0h0M340.5 633.0h0M339.8 636.2h0M337.6 640.5h0M338.0 640.0h0M337.6 634.4h0M340.6 633.0h0M337.5 642.0h0M340.1 633.4h0M337.9 641.8h0M338.1 631.3h0M337.6 641.0h0M338.4 634.1h0M340.4 629.1h0M337.9 637.0h0M337.2 638.3h0M337.5 629.8h0M339.4 641.5h0M337.3 633.1h0M338.5 637.8h0M338.3 631.9h0M338.9 635.5h0M337.9 635.5h0M337.2 638.9h0M340.7 628.5h0M337.9 641.1h0M339.3 638.1h0M338.1 639.5h0M340.2 633.1h0M337.2 641.2h0M340.6 640.3h0M339.4 642.6h0M340.2 633.5h0M339.5 620.9h0M338.7 623.5h0M339.3 596.7h0M338.0 625.3h0M340.2 643.2h0M338.9 607.7h0M340.1 567.8h0M340.2 639.4h0M338.2 645.0h0M337.7 617.4h0M337.8 630.9h0M337.6 644.1h0M339.9 640.2h0M339.6 638.0h0M338.7 619.3h0M338.8 637.5h0M340.5 595.9h0M339.0 626.2h0M338.2 644.1h0M338.5 645.2h0M338.1 639.1h0M337.4 638.0h0M339.6 642.6h0M340.2 646.8h0M338.9 634.1h0M338.4 617.5h0M337.3 643.5h0M337.6 649.9h0M339.9 630.2h0M338.5 646.3h0M339.4 612.1h0M337.8 635.1h0M338.8 613.2h0M338.8 644.3h0M339.9 637.0h0M339.3 640.3h0M337.4 628.2h0M337.6 597.7h0M339.2 594.2h0M338.8 639.9h0M337.7 632.0h0M340.7 623.3h0M338.9 621.1h0M338.8 640.2h0M338.1 632.6h0M337.9 638.2h0M339.4 637.8h0M338.0 643.8h0M338.1 637.3h0M338.7 599.2h0M338.7 634.3h0M337.7 619.1h0M339.5 640.2h0M338.2 647.2h0M338.1 633.7h0M340.1 638.9h0M339.7 649.1h0M339.4 647.6h0M340.2 622.3h0M339.0 623.6h0M339.9 643.9h0M339.5 598.2h0M339.8 617.2h0M337.9 635.4h0M339.0 617.4h0M338.7 591.0h0M338.7 643.3h0M338.7 645.2h0M337.8 631.4h0M338.8 641.8h0M337.4 647.4h0M338.6 632.2h0M340.4 604.2h0M337.8 587.1h0M339.2 638.9h0M339.6 610.4h0M339.8 638.9h0M339.9 641.8h0M340.4 642.5h0M340.3 644.8h0M337.5 647.0h0M337.8 634.8h0M339.8 636.3h0M337.9 635.3h0M337.6 648.1h0M337.5 631.3h0M338.1 637.9h0M337.2 619.4h0M338.6 593.8h0M337.8 615.7h0M340.5 645.5h0M339.5 645.9h0M339.6 623.9h0M340.4 601.6h0M340.7 608.6h0M340.3 599.4h0M337.4 647.3h0M337.7 641.3h0M340.4 617.1h0M338.4 583.3h0M338.1 636.8h0M338.3 640.9h0M340.3 637.1h0M337.8 631.4h0M340.1 622.0h0M339.3 648.0h0M338.7 647.2h0M338.5 637.8h0M337.6 544.7h0M339.4 644.1h0M338.5 641.3h0M340.1 646.2h0M46.7 668.9h0M44.9 641.2h0M46.9 652.8h0M45.8 636.6h0M46.8 642.1h0M46.8 657.2h0M45.4 632.8h0M47.0 665.7h0M46.4 655.2h0M46.1 645.0h0M205.3 643.9h0M205.0 628.5h0M205.2 667.3h0M205.2 662.5h0M205.6 652.1h0M205.3 670.4h0M205.6 662.5h0M205.5 650.1h0M205.8 654.8h0M205.1 668.3h0" stroke="#174d8c" stroke-width="1.9" stroke-linecap="round" fill="none"/>
<path d="M68.4 643.4h0M81.8 655.9h0M68.6 647.7h0M77.4 646.0h0M73.7 651.2h0M74.0 643.9h0M71.5 656.4h0M84.4 653.4h0M70.5 651.5h0M79.6 646.6h0M77.5 656.7h0M75.0 644.1h0M83.7 653.8h0M72.7 657.0h0M74.4 655.0h0M82.5 652.0h0M72.1 656.8h0M63.3 653.7h0M76.7 645.4h0M73.8 652.7h0M62.1 651.3h0M61.4 653.0h0M81.7 656.5h0M68.0 646.4h0M82.5 657.7h0M66.7 656.9h0M74.8 645.4h0M80.0 651.4h0M74.9 644.3h0M62.3 644.3h0M77.6 650.2h0M72.4 645.4h0M67.8 648.6h0M74.9 647.1h0M73.7 643.3h0M80.3 655.1h0M63.8 651.3h0M72.9 643.7h0M65.6 655.4h0M83.6 654.2h0M61.5 645.9h0M68.7 647.6h0M79.0 651.5h0M67.8 653.6h0M80.1 644.2h0M79.0 645.6h0M79.3 643.7h0M67.8 646.9h0M83.8 647.5h0M78.4 649.5h0M72.1 655.3h0M78.7 650.1h0M66.5 650.2h0M72.6 643.3h0M81.5 656.2h0M84.2 652.5h0M79.5 657.5h0M78.3 647.9h0M73.1 657.4h0M68.0 650.5h0M75.8 656.6h0M85.0 652.5h0M70.3 654.5h0M63.9 648.2h0M62.8 655.7h0M80.1 645.4h0M67.6 656.2h0M62.0 648.1h0M65.3 657.0h0M66.8 646.4h0M64.7 646.9h0M77.3 648.5h0M64.9 648.5h0M66.9 651.0h0M68.8 653.1h0M65.2 644.5h0M80.0 652.1h0M79.9 656.7h0M76.0 644.5h0M71.9 644.2h0M85.3 646.4h0M71.8 650.6h0M77.9 643.8h0M70.4 650.5h0M84.7 647.3h0M72.1 650.5h0M61.6 650.4h0M78.6 645.7h0M77.9 648.6h0M71.3 646.0h0M66.6 649.5h0M76.7 649.7h0M65.4 649.6h0M61.6 653.8h0M74.9 651.7h0M77.2 652.7h0M72.3 652.2h0M73.8 654.9h0M66.1 654.7h0M76.4 651.6h0M66.2 650.3h0M78.0 649.5h0M63.6 654.8h0M69.1 645.1h0M72.7 649.6h0M68.4 650.4h0M77.9 655.7h0M83.8 647.9h0M81.7 650.6h0M85.1 650.5h0M68.0 655.5h0M71.1 646.5h0M82.6 649.6h0M62.2 654.8h0M75.9 657.7h0M66.5 643.9h0M71.2 650.4h0M81.0 650.6h0M75.1 644.8h0M83.1 650.9h0M68.1 651.4h0M77.0 650.9h0M79.1 654.5h0M62.1 652.4h0M82.5 647.6h0M85.0 644.5h0M84.7 657.2h0M82.7 644.6h0M77.2 657.8h0M82.9 655.0h0M62.0 653.8h0M77.8 649.2h0M70.8 650.0h0M78.5 656.9h0M75.0 657.8h0M71.9 656.5h0M66.7 649.3h0M67.0 646.8h0M70.3 645.1h0M71.8 647.8h0M62.9 653.2h0M61.9 648.9h0M70.7 651.0h0M66.8 653.6h0M82.5 650.7h0M68.2 646.2h0M76.2 649.1h0M76.1 647.2h0M64.2 657.0h0M67.1 646.3h0M61.9 649.5h0M67.7 649.3h0M61.0 657.3h0M73.4 654.4h0M61.4 646.8h0M68.9 650.4h0M78.0 648.9h0M66.7 656.7h0M77.1 645.1h0M73.9 655.5h0M64.4 652.5h0M73.8 651.9h0M82.5 648.2h0M85.1 653.9h0M76.7 652.5h0M71.7 652.1h0M79.0 647.8h0M61.2 656.9h0M68.5 652.8h0M84.0 651.3h0M66.2 653.5h0M68.9 651.5h0M73.6 651.8h0M79.4 656.2h0M79.3 648.6h0M65.0 651.4h0M82.2 646.9h0M78.5 644.7h0M67.9 656.1h0M61.6 647.7h0M70.2 653.7h0M61.3 646.1h0M76.4 653.9h0M68.3 657.8h0M72.1 647.0h0M66.7 646.9h0M64.5 647.4h0M80.2 648.6h0M67.6 657.0h0M82.5 653.0h0M70.8 656.9h0M62.9 643.2h0M62.4 643.8h0M71.7 649.9h0M67.7 647.8h0M82.1 650.9h0M82.8 655.5h0M64.9 656.5h0M73.9 654.6h0M72.3 653.3h0M68.1 657.0h0M63.6 657.8h0M74.4 648.2h0M61.2 651.1h0M63.0 646.7h0M70.7 647.6h0M63.0 645.0h0M61.6 652.7h0M75.9 644.1h0M64.6 652.9h0M69.4 644.7h0M72.2 656.1h0M80.9 652.5h0M79.6 657.0h0M62.1 644.8h0M78.6 647.9h0M82.1 646.7h0M76.6 651.0h0M71.5 649.2h0M74.1 655.9h0M69.2 650.1h0M82.6 647.1h0M70.0 650.4h0M78.9 650.4h0M81.1 653.5h0M78.0 648.2h0M62.3 649.1h0M82.1 648.4h0M81.5 648.0h0M71.9 655.8h0M84.1 647.3h0M65.7 656.7h0M66.9 654.4h0M70.8 648.3h0M77.3 644.3h0M83.1 647.6h0M61.3 645.2h0M76.7 652.3h0M83.0 635.7h0M72.9 659.6h0M65.2 612.9h0M71.1 663.8h0M61.4 660.4h0M76.4 653.4h0M81.8 641.4h0M67.5 657.3h0M62.0 612.0h0M64.0 644.3h0M63.5 632.7h0M67.8 623.9h0M76.3 604.3h0M65.6 631.6h0M76.9 639.6h0M74.4 653.2h0M81.5 647.4h0M63.1 649.2h0M84.7 642.2h0M63.9 659.3h0M62.8 660.0h0M65.6 648.5h0M82.7 615.8h0M73.8 618.5h0M77.1 651.3h0M74.6 653.0h0M74.2 663.3h0M66.0 646.2h0M71.4 660.3h0M85.2 612.8h0M68.7 636.9h0M83.6 655.7h0M75.4 657.7h0M67.6 635.9h0M66.8 605.8h0M82.7 645.3h0M61.7 620.8h0M60.8 656.1h0M78.1 652.4h0M74.6 653.6h0M65.7 660.7h0M66.9 655.6h0M79.9 636.6h0M81.4 656.4h0M81.2 655.0h0M73.0 637.5h0M80.2 631.7h0M82.9 659.1h0M62.1 655.3h0M60.9 663.7h0M77.7 630.4h0M84.4 623.1h0M80.8 642.5h0M70.7 654.5h0M68.2 643.1h0M82.5 640.8h0M82.7 651.4h0M67.1 632.2h0M68.4 663.2h0M75.0 644.3h0M77.6 660.7h0M70.1 656.1h0M78.2 662.0h0M65.6 658.3h0M68.9 613.8h0M62.0 627.6h0M76.6 648.9h0M72.1 637.2h0M74.1 660.5h0M67.9 616.3h0M77.1 653.0h0M76.7 655.0h0M64.7 652.6h0M62.1 650.1h0M71.3 662.9h0M80.5 655.3h0M69.2 663.5h0M74.7 643.9h0M74.9 642.9h0M66.2 589.4h0M62.5 648.8h0M74.2 632.2h0M63.5 588.6h0M67.3 647.3h0M83.6 652.5h0M63.9 658.9h0M67.3 653.1h0M78.3 631.6h0M81.4 657.8h0M62.2 658.7h0M74.9 660.5h0M78.4 631.3h0M70.3 660.8h0M76.3 626.2h0M64.4 631.8h0M64.8 628.2h0M72.5 664.0h0M76.3 641.3h0M65.1 649.7h0M72.4 645.9h0M67.1 664.7h0M78.8 653.8h0M84.8 583.2h0M69.4 645.8h0M80.4 620.8h0M66.9 592.0h0M66.4 641.4h0M64.2 607.1h0M83.6 638.3h0M65.9 628.1h0M84.1 628.4h0M65.9 659.2h0M72.4 658.6h0M83.0 660.3h0M69.1 624.3h0M64.0 658.1h0M67.4 659.5h0M78.1 656.2h0M74.5 663.3h0M66.6 627.4h0M67.1 642.2h0M73.0 614.0h0M83.5 654.4h0M70.1 648.5h0M63.3 660.1h0M61.2 656.3h0M82.9 619.3h0M72.6 623.3h0M67.7 654.9h0M67.7 661.4h0M73.1 656.4h0M73.6 660.0h0M64.1 649.2h0M83.1 645.3h0M74.0 633.0h0M78.4 658.3h0M81.6 658.6h0M65.4 657.4h0M65.8 630.8h0M77.9 657.4h0M70.4 653.8h0M82.1 609.1h0M70.7 644.6h0M67.1 588.5h0M80.1 625.2h0M79.9 657.4h0M80.4 638.1h0M64.1 648.3h0M84.3 649.9h0M68.5 611.1h0M61.3 641.1h0M75.0 636.0h0M67.3 653.6h0M66.5 662.8h0M71.1 652.1h0M77.8 661.0h0M65.0 664.5h0M65.0 657.2h0M84.2 627.0h0M68.9 650.4h0M79.4 623.0h0M83.5 641.0h0M75.3 663.0h0M84.6 657.7h0M82.5 663.2h0M62.0 608.9h0M73.1 616.0h0M72.2 612.9h0M68.4 577.2h0M84.8 642.1h0M77.6 658.1h0M69.8 657.8h0M79.7 643.2h0M83.7 649.3h0M61.5 640.8h0M61.5 643.2h0M73.9 658.5h0M77.6 652.9h0M80.7 652.9h0M75.3 646.6h0M73.1 643.2h0M60.8 647.6h0M68.3 661.1h0M65.4 658.9h0M71.6 638.1h0M76.8 660.8h0M68.0 660.4h0M77.4 659.7h0M60.9 648.9h0M65.0 637.1h0M63.2 657.9h0M74.4 644.3h0M85.3 658.2h0M63.9 653.3h0M73.3 628.3h0M75.6 650.6h0M71.3 650.3h0M80.4 663.7h0M78.3 646.7h0M72.3 663.4h0M73.6 655.3h0M67.0 638.0h0M77.9 634.8h0M81.9 663.1h0M67.3 642.6h0M61.7 614.3h0M81.8 645.5h0M83.2 635.6h0M83.3 649.7h0M81.1 663.7h0M76.6 659.9h0M81.6 638.9h0M72.7 664.7h0M78.6 641.0h0M65.1 601.8h0M76.0 648.0h0M83.4 653.3h0M62.4 648.9h0M79.1 641.6h0M72.7 637.6h0M81.8 650.5h0M78.1 637.4h0M63.2 626.2h0M81.8 637.6h0M84.0 634.9h0M79.3 653.4h0M79.1 632.1h0M72.6 648.5h0M66.0 607.3h0M64.8 656.1h0M81.3 622.8h0M70.5 654.8h0M76.5 629.7h0M84.2 652.0h0M62.9 647.7h0M69.4 654.4h0M76.1 661.0h0M78.0 646.6h0M65.9 611.0h0M76.4 657.4h0M77.7 634.5h0M80.2 663.5h0M62.4 658.5h0M63.4 587.3h0M65.9 598.6h0M83.3 659.5h0M84.4 635.3h0M77.5 663.8h0M67.5 651.9h0M80.5 652.2h0M83.7 650.6h0M75.6 602.3h0M63.9 661.8h0M81.1 647.3h0M83.1 664.7h0M63.8 644.5h0M83.9 637.5h0M74.8 657.5h0M75.6 642.4h0M74.2 655.5h0M74.3 607.4h0M74.8 660.6h0M62.5 633.9h0M72.4 620.0h0M66.1 659.3h0M81.7 662.9h0M70.9 626.1h0M66.1 568.1h0M79.5 624.8h0M68.5 660.2h0M74.4 662.9h0M76.3 647.6h0M81.6 623.0h0M71.0 655.3h0M75.1 661.0h0M77.9 653.7h0M69.5 656.6h0M64.3 641.0h0M74.4 658.6h0M63.6 640.1h0M71.8 652.8h0M62.3 653.0h0M77.9 638.6h0M73.9 658.4h0M79.0 625.1h0M68.5 664.5h0M82.1 659.1h0M79.2 637.6h0M79.1 664.4h0M65.2 661.3h0M75.7 650.7h0M82.0 658.1h0M84.5 635.2h0M72.3 661.2h0M70.4 654.4h0M83.0 662.4h0M61.9 661.7h0M80.2 664.4h0M68.6 618.9h0M67.6 660.0h0M75.8 652.0h0M79.0 657.8h0M83.6 634.8h0M79.1 601.5h0M79.9 600.7h0M61.2 653.7h0M84.0 659.3h0M80.9 640.3h0M80.1 663.4h0M67.9 657.3h0M81.3 651.8h0M85.1 637.0h0M71.4 664.6h0M71.7 643.0h0M82.9 653.6h0M64.4 648.7h0M70.4 653.7h0M63.1 657.1h0M77.9 623.8h0M77.7 583.5h0M83.4 649.2h0M82.6 643.2h0M72.6 615.2h0M69.1 659.4h0M71.0 616.4h0M66.1 653.4h0M60.6 631.4h0M64.6 619.2h0M67.4 659.3h0M75.0 652.2h0M72.6 633.5h0M61.6 639.4h0M75.1 643.2h0M84.6 663.0h0M72.5 644.2h0M73.5 659.4h0M77.9 622.1h0M68.4 662.7h0M63.3 607.5h0M82.1 642.5h0M76.3 638.9h0M67.6 663.9h0M67.0 658.6h0M68.6 640.2h0M61.9 664.4h0M71.3 652.8h0M68.4 646.4h0M83.7 628.4h0M83.9 613.3h0M71.7 654.0h0M64.8 617.8h0M80.8 613.0h0M60.7 656.5h0M65.5 647.8h0M70.1 660.1h0M79.1 653.0h0M80.6 637.9h0M70.5 630.8h0M70.0 655.1h0M72.6 648.0h0M83.3 645.8h0M74.5 654.8h0M74.7 659.9h0M77.4 645.1h0M64.0 651.2h0M67.4 655.0h0M83.6 660.1h0M84.0 637.4h0M67.4 600.2h0M72.9 656.6h0M71.0 652.9h0M83.5 662.8h0M75.1 620.4h0M75.4 654.0h0M70.0 647.3h0M67.0 635.3h0M81.1 654.5h0M65.6 636.3h0M73.5 655.6h0M78.9 660.8h0M69.6 642.9h0M65.2 655.7h0M74.8 659.9h0M81.5 647.0h0M78.7 628.4h0M66.4 645.2h0M82.8 651.6h0M79.1 630.3h0M81.4 616.0h0M83.1 658.1h0M75.3 583.7h0M81.3 645.3h0M82.9 627.8h0M82.2 650.5h0M71.6 651.6h0M75.4 649.4h0M66.3 664.1h0M61.4 622.3h0M83.6 615.3h0M82.6 650.5h0M70.1 612.0h0M65.7 631.0h0M64.9 653.4h0M84.8 656.5h0M68.7 641.9h0M81.8 662.5h0M85.1 603.9h0M80.2 663.6h0M65.5 656.5h0M68.2 649.5h0M64.4 604.8h0M64.7 654.5h0M72.8 636.2h0M82.9 649.7h0M73.3 644.6h0M75.2 620.2h0M76.6 612.9h0M73.7 635.6h0M75.1 662.0h0M79.3 617.4h0M66.9 593.6h0M64.7 620.3h0M61.5 664.4h0M66.2 659.5h0M73.2 630.2h0M69.6 618.0h0M67.7 661.1h0M79.7 659.9h0M74.1 601.8h0M74.6 646.6h0M81.2 637.8h0M71.7 625.4h0M72.1 649.0h0M62.4 660.7h0M71.5 625.8h0M61.6 660.5h0M71.3 664.2h0M83.3 645.6h0M70.6 632.7h0M61.1 644.9h0M71.5 660.8h0M77.4 644.6h0M69.5 607.8h0M64.1 653.4h0M65.3 657.3h0M76.0 625.5h0M62.2 629.7h0M76.8 650.1h0M73.8 659.1h0M76.6 663.8h0M76.6 644.0h0M74.1 663.8h0M66.3 654.6h0M82.7 649.4h0M72.6 660.7h0M64.9 637.5h0M72.7 661.2h0M82.2 647.4h0M66.4 641.5h0M81.3 655.7h0M68.3 660.7h0M75.5 656.0h0M64.4 636.3h0M81.9 651.9h0M82.0 640.6h0M73.6 621.6h0M68.5 657.5h0M83.0 647.8h0M80.1 657.3h0M66.5 658.0h0M70.3 663.5h0M70.9 627.4h0M62.8 642.8h0M73.6 656.3h0M67.5 664.4h0M63.1 626.6h0M76.4 629.9h0M65.0 658.8h0M74.7 639.8h0M80.6 655.2h0M83.6 647.0h0M71.6 655.2h0M68.2 624.4h0M80.0 632.1h0M75.5 640.6h0M64.9 618.8h0M82.1 592.9h0M60.7 655.1h0M84.8 641.7h0M68.2 660.9h0M64.7 653.4h0M81.9 660.3h0M70.7 648.6h0M78.0 652.9h0M70.5 637.4h0M68.6 662.3h0M65.0 656.7h0M84.3 644.8h0M61.9 645.2h0M83.8 661.4h0M77.5 657.7h0M75.1 611.0h0M60.9 637.0h0M74.3 620.2h0M68.9 663.8h0M65.7 634.5h0M75.8 628.0h0M82.7 641.5h0M68.4 610.4h0M77.8 661.4h0M67.4 633.6h0M81.7 652.9h0M63.0 660.6h0M60.9 601.4h0M61.1 659.4h0M77.8 651.2h0M63.8 659.1h0M65.9 649.0h0M71.2 645.7h0M80.9 657.8h0M74.5 657.8h0M82.2 663.8h0M77.0 660.2h0M83.5 663.1h0M78.2 640.3h0M70.1 663.8h0M66.9 644.3h0M74.7 633.0h0M82.1 659.4h0M66.8 641.3h0M77.2 655.1h0M71.3 641.7h0M62.1 640.0h0M63.0 658.9h0M78.5 638.5h0M76.2 637.1h0M73.2 655.5h0M64.2 652.2h0M63.9 627.2h0M79.0 657.3h0M63.0 619.8h0M66.6 631.8h0M63.1 609.5h0M67.5 559.1h0M68.9 624.8h0M68.1 660.7h0M74.3 603.3h0M74.5 649.7h0M74.6 662.1h0M60.7 636.7h0M83.6 660.1h0M67.1 649.4h0M70.4 643.4h0M84.3 663.6h0M72.1 655.1h0M80.7 654.6h0M68.9 654.6h0M84.8 651.2h0M61.9 612.6h0M75.4 604.6h0M68.7 661.2h0M83.8 639.5h0M69.1 630.5h0M79.7 649.8h0M73.9 644.6h0M64.8 663.4h0M66.2 661.5h0M124.7 652.8h0M118.8 654.9h0M109.1 651.9h0M119.2 655.7h0M109.2 644.3h0M123.8 654.3h0M121.4 647.6h0M113.1 649.2h0M109.4 649.8h0M108.7 644.5h0M118.6 656.6h0M114.7 655.9h0M116.4 646.0h0M113.4 647.2h0M110.0 643.0h0M112.5 648.0h0M114.2 651.1h0M126.6 657.1h0M123.5 646.9h0M121.4 657.2h0M112.1 647.4h0M121.4 656.0h0M115.2 651.1h0M124.6 643.6h0M122.5 654.2h0M114.0 656.9h0M121.1 657.1h0M117.9 654.3h0M112.8 652.7h0M113.0 646.0h0M119.6 647.9h0M112.0 643.6h0M122.4 655.4h0M123.2 651.8h0M110.3 652.7h0M122.7 643.7h0M127.1 642.7h0M109.8 654.4h0M113.5 653.6h0M121.5 645.6h0M121.3 653.8h0M126.2 651.6h0M110.7 644.7h0M111.7 649.0h0M126.6 644.3h0M122.9 646.3h0M115.5 654.5h0M115.3 642.5h0M117.6 645.2h0M126.4 644.4h0M125.6 644.7h0M111.1 651.8h0M124.9 645.9h0M115.6 650.9h0M126.4 647.6h0M123.7 655.3h0M121.7 645.4h0M119.4 645.4h0M119.5 644.9h0M126.1 644.3h0M120.1 656.4h0M115.4 642.7h0M115.9 656.8h0M113.4 648.5h0M108.7 643.8h0M123.7 652.8h0M112.0 653.5h0M112.2 652.6h0M124.7 646.3h0M124.5 653.8h0M116.0 644.5h0M125.0 651.3h0M121.3 653.1h0M119.2 643.1h0M118.7 653.5h0M117.5 648.7h0M109.0 654.1h0M108.7 644.8h0M113.9 647.0h0M109.5 652.6h0M112.3 648.8h0M118.6 655.0h0M114.6 651.6h0M116.7 653.5h0M126.6 646.2h0M114.7 649.6h0M122.3 654.4h0M111.6 654.2h0M117.8 648.4h0M108.6 656.3h0M113.6 657.1h0M123.6 644.9h0M126.0 652.8h0M119.5 650.8h0M110.7 646.1h0M124.4 654.4h0M122.4 653.3h0M114.6 650.5h0M120.6 643.2h0M113.9 656.0h0M126.2 653.7h0M112.6 647.7h0M110.9 651.1h0M118.5 657.1h0M115.1 651.2h0M123.1 644.8h0M121.1 644.5h0M124.2 643.5h0M122.1 651.1h0M110.0 654.1h0M116.8 657.1h0M115.5 653.2h0M109.2 646.8h0M115.8 647.1h0M117.8 656.6h0M111.5 646.1h0M125.4 646.7h0M125.7 653.9h0M115.6 653.5h0M111.8 647.1h0M120.8 650.9h0M110.1 652.6h0M121.9 645.9h0M115.2 653.9h0M118.4 654.1h0M121.0 644.5h0M120.5 645.7h0M113.4 651.3h0M121.5 655.8h0M109.2 652.1h0M125.2 651.9h0M116.5 647.8h0M122.5 656.3h0M111.6 648.9h0M123.2 647.5h0M126.1 654.2h0M127.1 648.8h0M120.4 653.5h0M111.6 649.4h0M110.2 655.3h0M126.5 644.0h0M116.8 656.6h0M119.0 648.3h0M121.0 648.4h0M108.8 654.0h0M127.1 646.6h0M126.5 643.8h0M122.8 652.9h0M109.5 647.3h0M112.7 650.4h0M113.4 646.4h0M119.1 649.0h0M125.5 648.6h0M121.6 655.6h0M110.7 650.0h0M115.1 643.4h0M113.7 648.0h0M124.1 655.4h0M122.0 655.7h0M112.9 642.8h0M115.0 656.2h0M127.1 655.6h0M111.7 655.6h0M127.2 656.6h0M110.1 648.3h0M116.5 657.0h0M124.1 653.2h0M113.2 645.5h0M113.5 657.1h0M112.9 654.9h0M121.0 653.9h0M125.4 650.8h0M117.5 645.1h0M118.0 650.2h0M116.4 642.8h0M111.6 650.8h0M123.3 643.9h0M123.1 647.2h0M124.0 651.6h0M108.6 654.1h0M122.5 647.2h0M118.6 643.5h0M109.3 645.0h0M124.7 644.2h0M113.4 663.5h0M116.0 646.4h0M111.5 636.2h0M117.9 641.2h0M120.4 627.1h0M113.9 636.2h0M115.3 604.6h0M114.8 640.9h0M122.2 618.1h0M125.9 643.4h0M115.4 605.3h0M114.6 656.6h0M113.9 657.2h0M122.8 661.3h0M124.6 652.8h0M114.3 663.8h0M124.8 586.3h0M120.6 611.2h0M111.3 582.7h0M119.2 649.2h0M119.5 627.4h0M124.8 658.6h0M120.6 646.9h0M126.9 663.7h0M126.9 663.3h0M117.3 640.3h0M117.4 639.1h0M123.8 597.3h0M116.6 663.7h0M123.1 654.7h0M115.1 654.7h0M119.0 594.4h0M113.0 654.2h0M112.4 663.8h0M122.5 658.6h0M115.8 587.4h0M109.0 662.4h0M118.0 633.6h0M115.1 654.6h0M112.3 647.9h0M126.2 650.7h0M118.2 646.3h0M118.0 648.0h0M120.7 610.3h0M125.8 631.9h0M121.7 629.8h0M116.3 620.1h0M113.5 641.2h0M123.8 614.4h0M120.7 648.5h0M114.5 587.7h0M124.9 643.3h0M110.1 646.6h0M110.2 658.6h0M109.8 653.0h0M111.8 631.7h0M109.5 663.7h0M124.0 663.1h0M115.5 663.1h0M124.0 619.5h0M108.9 656.1h0M120.7 618.3h0M121.5 604.5h0M120.1 629.9h0M120.2 636.8h0M113.2 660.9h0M126.0 632.9h0M112.1 659.8h0M119.1 654.9h0M111.5 612.6h0M117.6 590.6h0M118.2 662.7h0M116.0 653.5h0M109.2 608.8h0M118.8 655.6h0M117.8 653.5h0M117.2 636.2h0M118.9 661.7h0M115.0 662.6h0M113.3 630.4h0M112.1 657.7h0M119.3 663.5h0M122.2 659.1h0M110.8 662.3h0M120.1 640.3h0M111.4 655.9h0M120.1 619.1h0M111.1 648.5h0M120.1 654.2h0M119.0 660.2h0M116.2 615.8h0M116.3 645.4h0M118.8 660.9h0M125.2 661.9h0M125.7 600.9h0M113.2 614.3h0M122.5 641.8h0M121.6 650.3h0M109.9 639.8h0M125.4 662.8h0M122.0 607.8h0M123.4 646.1h0M122.6 605.1h0M109.5 636.6h0M114.8 657.0h0M114.0 649.3h0M127.1 625.2h0M123.6 652.0h0M123.2 654.9h0M115.1 656.7h0M118.5 658.8h0M125.1 655.1h0M125.3 660.6h0M112.6 658.1h0M121.3 635.9h0M119.7 660.2h0M119.9 653.0h0M117.7 650.8h0M110.3 661.4h0M111.2 618.3h0M114.3 620.5h0M116.3 636.3h0M113.3 647.8h0M111.5 655.8h0M108.9 626.4h0M123.2 614.6h0M112.3 657.1h0M116.6 622.3h0M118.7 658.1h0M124.7 600.7h0M118.8 645.2h0M114.9 632.3h0M118.2 663.0h0M113.9 661.2h0M118.6 655.0h0M113.0 662.9h0M124.5 663.7h0M121.8 560.3h0M122.7 660.8h0M121.8 648.5h0M125.7 653.5h0M119.6 655.4h0M113.6 643.8h0M126.4 655.9h0M124.5 602.0h0M119.2 632.9h0M110.5 654.7h0M123.1 598.2h0M125.0 656.8h0M110.3 643.0h0M113.0 654.7h0M124.0 629.0h0M116.7 640.2h0M116.1 617.7h0M120.7 660.2h0M125.2 607.0h0M116.7 621.9h0M120.5 648.1h0M125.7 645.6h0M124.3 636.6h0M109.8 641.1h0M113.2 662.0h0M125.1 642.4h0M119.7 610.2h0M119.6 656.5h0M118.3 657.3h0M126.0 647.7h0M109.5 607.6h0M119.8 622.8h0M116.9 642.0h0M123.1 610.9h0M115.1 660.2h0M112.7 657.0h0M121.1 658.4h0M113.2 653.0h0M124.3 654.4h0M124.8 660.2h0M117.5 641.9h0M127.2 659.7h0M120.1 621.6h0M120.0 645.6h0M109.1 652.0h0M114.9 659.0h0M122.7 661.4h0M124.2 644.7h0M119.5 611.9h0M112.7 638.0h0M122.3 661.3h0M112.6 614.0h0M116.4 618.8h0M125.0 642.9h0M123.7 608.1h0M121.6 621.7h0M123.8 621.1h0M119.3 656.6h0M112.4 662.7h0M111.9 597.2h0M112.4 651.5h0M116.3 657.6h0M122.4 661.6h0M111.4 658.0h0M117.4 649.2h0M126.6 651.5h0M124.4 594.4h0M111.0 643.5h0M113.1 636.1h0M111.4 644.7h0M112.6 636.5h0M122.9 596.4h0M110.7 644.2h0M116.8 658.4h0M117.4 634.0h0M119.0 610.5h0M112.4 656.8h0M123.8 662.4h0M124.2 611.5h0M124.2 610.4h0M115.9 647.5h0M126.0 642.2h0M126.3 658.7h0M111.1 633.7h0M111.4 663.3h0M114.2 612.2h0M121.7 624.7h0M114.9 658.8h0M110.7 657.2h0M121.6 654.2h0M118.7 647.1h0M120.4 648.9h0M111.4 644.2h0M114.8 661.5h0M123.5 634.5h0M124.6 646.1h0M123.7 637.9h0M125.0 640.0h0M113.2 654.8h0M120.5 639.9h0M113.2 644.7h0M120.8 630.6h0M118.9 649.1h0M115.8 655.6h0M111.2 582.2h0M119.9 647.7h0M117.1 647.3h0M123.4 661.5h0M115.3 662.4h0M111.8 651.8h0M124.0 610.9h0M109.3 663.4h0M112.9 662.5h0M117.4 659.4h0M109.4 660.7h0M115.0 662.1h0M111.3 658.6h0M116.7 644.4h0M117.8 654.9h0M109.4 648.2h0M116.4 662.0h0M123.7 634.5h0M108.9 651.7h0M109.1 616.0h0M119.6 656.4h0M113.5 648.1h0M111.7 641.2h0M109.2 629.5h0M114.6 663.1h0M124.5 625.5h0M116.2 604.0h0M115.7 604.4h0M112.3 646.6h0M113.5 640.0h0M114.6 613.3h0M118.9 605.0h0M120.7 652.5h0M117.7 657.6h0M113.2 649.7h0M111.1 663.3h0M108.9 625.1h0M112.4 654.2h0M118.0 661.6h0M116.7 612.9h0M113.5 592.0h0M109.0 624.6h0M122.4 659.4h0M117.6 662.9h0M123.6 648.1h0M122.5 639.9h0M111.7 662.3h0M118.2 643.2h0M126.2 604.8h0M123.2 622.4h0M119.4 656.5h0M121.1 647.0h0M116.7 656.1h0M122.6 657.5h0M123.9 663.4h0M110.6 620.5h0M111.9 619.8h0M109.8 638.4h0M119.3 656.0h0M120.4 591.2h0M109.5 659.1h0M113.5 624.3h0M121.8 649.4h0M112.2 635.5h0M126.7 646.8h0M119.6 654.3h0M109.1 650.8h0M115.4 597.3h0M109.7 655.5h0M113.4 628.0h0M120.4 622.6h0M114.9 606.5h0M121.0 654.0h0M126.1 646.6h0M123.7 651.3h0M114.0 656.9h0M119.0 642.6h0M109.7 657.1h0M115.3 662.5h0M116.6 653.5h0M114.8 649.1h0M112.9 658.7h0M126.2 647.4h0M125.5 594.1h0M114.6 655.5h0M124.6 657.3h0M126.2 633.4h0M109.0 660.3h0M110.1 651.7h0M119.7 648.6h0M121.2 630.9h0M120.7 644.8h0M112.5 619.0h0M122.0 663.1h0M122.6 660.1h0M126.1 650.8h0M114.6 638.1h0M109.4 660.1h0M116.8 661.9h0M127.1 633.6h0M118.4 631.7h0M119.5 643.1h0M119.5 662.5h0M111.6 662.3h0M114.3 611.1h0M114.6 637.6h0M116.6 658.5h0M125.8 643.4h0M111.3 643.4h0M118.2 664.0h0M114.7 661.6h0M109.6 661.9h0M118.7 627.8h0M120.5 651.2h0M109.0 618.5h0M122.4 601.8h0M119.9 640.8h0M119.8 620.3h0M115.1 618.1h0M120.1 659.1h0M126.4 632.0h0M119.9 617.9h0M122.0 622.9h0M121.8 642.0h0M114.8 660.4h0M112.7 643.1h0M109.5 656.1h0M127.0 663.8h0M110.8 662.6h0M119.0 637.8h0M118.7 660.7h0M110.2 639.6h0M112.0 630.0h0M123.9 661.3h0M110.9 649.9h0M112.5 636.2h0M110.5 645.7h0M120.4 635.6h0M110.1 654.4h0M114.2 637.1h0M126.2 616.9h0M109.8 662.2h0M108.8 663.0h0M126.6 663.7h0M122.6 655.6h0M121.8 639.9h0M114.6 654.6h0M109.2 658.5h0M111.3 644.8h0M112.5 640.2h0M113.9 658.7h0M116.8 661.2h0M110.3 624.1h0M109.3 637.3h0M113.9 657.3h0M122.9 653.5h0M116.8 663.4h0M113.7 652.3h0M112.8 659.9h0M124.4 643.9h0M115.5 607.3h0M114.0 662.6h0M115.3 633.8h0M112.3 651.3h0M120.8 615.4h0M117.5 649.7h0M117.1 662.6h0M119.8 612.6h0M114.9 636.9h0M121.1 649.5h0M113.6 648.0h0M114.5 660.0h0M120.0 652.8h0M124.2 659.7h0M120.0 658.2h0M122.2 638.2h0M121.5 624.5h0M115.5 660.5h0M126.4 661.9h0M119.4 655.4h0M120.7 615.7h0M117.2 600.8h0M119.8 619.4h0M116.0 654.2h0M110.7 634.9h0M118.2 638.4h0M110.3 651.0h0M109.5 638.8h0M127.0 659.4h0M125.9 662.9h0M115.0 647.5h0M125.3 660.1h0M121.1 658.9h0M111.4 648.2h0M112.0 660.5h0M150.8 635.2h0M163.7 637.5h0M160.8 640.6h0M150.1 643.5h0M151.9 638.8h0M157.0 632.8h0M164.8 641.6h0M151.7 633.6h0M165.4 640.7h0M149.6 641.7h0M164.1 638.5h0M148.8 632.9h0M157.2 641.7h0M160.2 636.2h0M159.9 640.9h0M152.1 641.1h0M165.5 641.8h0M154.7 634.0h0M158.7 633.0h0M149.4 637.3h0M153.9 634.9h0M155.4 637.5h0M160.3 641.1h0M161.8 634.2h0M162.0 635.9h0M151.3 642.1h0M163.7 643.9h0M155.7 630.1h0M155.0 642.2h0M157.2 635.3h0M149.1 635.5h0M149.1 634.6h0M162.4 630.0h0M151.2 640.1h0M151.6 630.5h0M152.3 639.4h0M165.2 631.1h0M160.6 634.8h0M158.3 637.9h0M164.1 641.3h0M157.1 631.4h0M156.8 635.5h0M153.4 631.3h0M151.8 643.5h0M160.2 630.4h0M150.4 643.6h0M160.4 641.6h0M161.0 632.3h0M159.4 631.4h0M159.2 636.1h0M156.9 631.2h0M155.8 639.3h0M162.8 638.6h0M164.9 630.2h0M155.5 640.1h0M154.4 631.8h0M154.6 636.6h0M152.3 643.4h0M163.9 630.9h0M157.8 644.2h0M156.0 629.9h0M155.8 640.6h0M165.8 640.0h0M156.1 642.7h0M160.0 633.9h0M156.6 634.0h0M151.0 641.6h0M149.3 642.5h0M161.2 641.6h0M158.6 639.6h0M149.0 640.9h0M154.1 638.6h0M160.4 634.2h0M149.1 636.1h0M160.6 632.7h0M149.0 640.0h0M154.0 632.9h0M156.3 630.1h0M158.2 642.5h0M163.6 643.4h0M159.2 635.9h0M149.1 631.7h0M154.8 631.0h0M154.1 637.9h0M164.7 639.7h0M150.6 636.1h0M151.7 640.0h0M151.8 633.1h0M158.8 631.9h0M163.4 639.3h0M152.6 632.2h0M165.3 636.6h0M149.2 644.2h0M162.5 636.2h0M161.9 636.4h0M149.7 637.6h0M154.4 640.2h0M149.5 641.8h0M151.8 634.2h0M162.8 639.0h0M164.2 642.8h0M150.9 630.7h0M158.5 637.3h0M153.9 631.8h0M157.5 643.7h0M156.8 641.6h0M163.7 633.3h0M154.0 639.2h0M161.8 631.9h0M155.4 633.7h0M160.5 637.4h0M155.7 642.9h0M164.4 635.3h0M166.2 639.3h0M154.9 636.2h0M157.5 642.7h0M159.4 634.8h0M151.4 639.6h0M166.1 630.2h0M159.6 639.4h0M153.5 634.9h0M150.1 640.1h0M151.3 635.8h0M156.2 636.3h0M160.4 641.7h0M159.4 631.0h0M164.5 634.1h0M164.1 640.3h0M157.7 640.0h0M161.1 634.2h0M151.2 631.0h0M160.1 636.5h0M159.9 639.0h0M164.6 631.1h0M164.3 638.8h0M154.8 634.0h0M158.9 643.1h0M164.9 639.7h0M156.1 629.7h0M154.5 635.5h0M157.8 641.1h0M164.1 630.1h0M160.1 633.6h0M152.5 640.4h0M158.3 632.6h0M162.7 634.9h0M153.9 640.5h0M154.5 635.9h0M156.2 636.5h0M162.9 632.5h0M158.4 639.6h0M160.8 632.5h0M165.3 630.7h0M162.4 633.7h0M155.8 641.1h0M151.0 637.0h0M155.3 636.4h0M164.2 643.0h0M159.4 636.1h0M156.6 641.2h0M162.3 639.9h0M157.8 643.2h0M160.8 631.9h0M155.7 641.8h0M158.3 640.0h0M149.3 638.3h0M158.4 637.8h0M152.3 635.0h0M153.5 642.3h0M155.5 642.9h0M154.3 634.5h0M158.1 631.2h0M160.4 644.6h0M165.8 619.1h0M154.2 637.1h0M163.1 638.3h0M157.1 629.9h0M162.7 649.4h0M153.7 634.4h0M158.6 636.2h0M166.1 647.5h0M153.9 621.2h0M165.6 645.1h0M154.4 640.0h0M151.6 616.6h0M157.5 647.9h0M162.9 650.2h0M159.8 612.9h0M158.9 558.0h0M155.8 649.0h0M156.8 641.7h0M159.6 643.5h0M152.9 637.3h0M155.8 639.7h0M158.3 644.8h0M152.7 650.1h0M160.6 640.1h0M161.9 648.8h0M165.6 629.1h0M152.8 637.8h0M152.8 614.7h0M153.9 645.1h0M148.9 623.6h0M161.1 644.2h0M153.9 613.3h0M156.5 629.5h0M154.9 639.1h0M153.4 614.2h0M161.6 632.4h0M157.8 607.9h0M162.2 644.3h0M149.6 650.9h0M153.9 649.5h0M153.0 612.7h0M161.4 598.4h0M165.8 627.3h0M165.1 637.4h0M153.5 649.2h0M160.1 618.3h0M152.0 624.5h0M154.3 636.2h0M162.2 649.8h0M150.8 643.9h0M157.0 635.0h0M160.5 648.1h0M165.0 621.3h0M160.1 632.1h0M152.7 636.5h0M163.2 624.1h0M158.5 646.1h0M165.6 644.6h0M165.4 641.0h0M160.1 606.4h0M148.9 650.6h0M157.7 639.1h0M160.1 620.4h0M150.6 640.1h0M151.0 610.3h0M153.9 648.8h0M166.0 646.1h0M161.9 648.5h0M161.8 633.7h0M165.8 646.9h0M165.5 645.8h0M148.9 585.6h0M158.3 632.2h0M154.9 636.1h0M151.5 641.6h0M162.6 647.8h0M161.1 649.1h0M162.6 641.2h0M166.1 642.7h0M156.1 630.2h0M154.5 649.7h0M163.3 649.3h0M165.6 609.0h0M150.1 591.7h0M150.0 637.9h0M148.9 625.8h0M157.1 648.0h0M149.4 648.6h0M162.0 617.2h0M157.3 650.6h0M160.8 626.0h0M163.6 621.7h0M157.8 631.0h0M149.3 645.6h0M154.9 645.8h0M165.2 650.5h0M151.3 639.1h0M154.3 647.4h0M150.6 644.9h0M153.4 631.5h0M151.3 627.4h0M161.2 597.5h0M156.9 640.8h0M165.4 631.4h0M157.9 619.3h0M160.7 644.2h0M156.3 643.2h0M158.4 648.0h0M155.2 645.9h0M151.4 649.4h0M149.4 647.1h0M150.6 626.5h0M166.1 649.4h0M161.9 634.6h0M165.5 634.1h0M159.4 637.6h0M162.7 647.4h0M154.7 648.4h0M154.4 599.9h0M156.1 645.3h0M157.2 646.1h0M149.8 650.3h0M153.4 635.1h0M156.0 650.7h0M155.5 591.7h0M161.6 625.6h0M163.3 638.0h0M152.0 612.4h0M165.7 633.6h0M157.0 634.3h0M156.3 641.4h0M152.4 639.1h0M152.0 646.5h0M152.8 642.9h0M154.0 622.4h0M165.2 628.7h0M161.2 604.6h0M159.2 599.9h0M158.7 627.5h0M158.9 640.8h0M165.3 637.6h0M152.4 616.9h0M150.6 621.3h0M151.8 603.2h0M155.9 589.5h0M151.9 645.3h0M150.4 622.0h0M164.6 648.8h0M159.3 631.0h0M158.9 620.2h0M157.0 642.1h0M149.2 607.6h0M161.8 642.3h0M157.5 648.5h0M153.4 648.1h0M160.7 623.6h0M155.6 644.3h0M149.8 646.6h0M164.8 597.4h0M152.8 578.5h0M159.2 618.8h0M156.1 620.8h0M158.9 586.4h0M154.0 622.5h0M161.1 646.1h0M164.6 625.1h0M153.1 642.1h0M152.0 643.5h0M152.0 646.8h0M164.7 606.8h0M149.0 626.7h0M164.6 592.5h0M155.4 646.4h0M158.2 643.7h0M160.5 638.0h0M166.0 630.7h0M154.5 625.7h0M155.1 631.5h0M157.2 629.3h0M160.1 623.3h0M153.3 633.1h0M165.7 644.1h0M166.2 649.3h0M149.2 645.8h0M162.7 648.9h0M160.6 645.2h0M165.6 649.1h0M157.4 607.4h0M165.9 620.9h0M156.3 646.8h0M151.3 648.9h0M157.5 642.3h0M162.7 622.3h0M152.5 629.5h0M152.5 646.3h0M158.6 644.8h0M155.1 633.6h0M155.4 603.2h0M154.5 644.6h0M161.7 633.4h0M158.9 615.5h0M165.0 650.0h0M150.0 615.2h0M160.3 648.5h0M163.3 642.8h0M152.2 620.2h0M165.3 632.0h0M153.2 647.8h0M159.5 625.8h0M162.7 641.9h0M163.2 649.1h0M157.7 644.2h0M158.7 640.1h0M166.0 642.5h0M149.5 610.7h0M157.0 583.0h0M155.3 625.6h0M162.1 649.3h0M153.5 636.9h0M162.7 648.3h0M153.2 646.2h0M159.4 597.8h0M166.0 611.9h0M151.6 651.0h0M159.5 628.7h0M166.0 651.0h0M166.2 629.4h0M155.7 650.9h0M158.4 646.9h0M159.8 633.2h0M155.5 630.3h0M150.8 648.2h0M165.9 648.0h0M154.7 628.4h0M150.1 594.3h0M161.7 634.9h0M164.0 642.0h0M161.9 630.0h0M158.3 648.3h0M165.7 642.3h0M163.8 607.9h0M158.5 642.3h0M161.8 635.9h0M161.5 619.4h0M153.0 650.4h0M161.8 606.7h0M150.5 643.0h0M159.8 590.3h0M156.2 627.0h0M154.4 633.8h0M165.9 638.5h0M149.0 649.7h0M164.7 616.8h0M160.9 650.3h0M151.7 650.9h0M163.4 649.3h0M149.3 647.9h0M162.7 613.9h0M153.1 649.8h0M156.8 640.5h0M154.0 648.7h0M164.3 624.2h0M153.4 631.9h0M155.7 603.2h0M162.0 648.4h0M149.5 632.8h0M153.4 642.6h0M152.8 618.4h0M155.7 644.7h0M164.5 648.4h0M150.7 644.3h0M158.2 648.1h0M155.2 625.0h0M156.6 645.5h0M156.0 623.5h0M162.2 641.7h0M160.3 624.7h0M156.1 643.3h0M164.9 595.6h0M155.3 599.3h0M160.2 622.8h0M163.3 615.9h0M165.0 626.0h0M148.9 648.6h0M154.5 649.6h0M153.6 644.8h0M160.9 640.6h0M155.0 631.3h0M157.5 640.6h0M149.0 606.8h0M153.0 628.5h0M152.8 640.2h0M161.6 632.4h0M155.7 643.7h0M160.1 650.5h0M153.2 648.8h0M163.2 644.5h0M161.1 632.6h0M156.0 649.8h0M149.4 628.6h0M152.9 646.8h0M158.8 603.9h0M154.4 642.5h0M165.0 650.9h0M150.1 649.6h0M158.3 637.4h0M154.2 647.5h0M155.4 648.9h0M150.9 639.4h0M163.3 635.4h0M156.0 620.5h0M150.7 640.6h0M159.4 640.6h0M161.7 627.3h0M154.8 637.2h0M165.1 619.2h0M153.3 639.4h0M151.3 646.0h0M149.3 621.0h0M155.9 647.0h0M157.4 645.8h0M160.3 607.7h0M165.7 638.9h0M156.6 650.9h0M159.7 633.1h0M150.0 651.0h0M165.4 649.7h0M154.4 644.0h0M150.2 648.6h0M158.6 649.9h0M160.1 644.3h0M150.1 603.6h0M153.8 641.2h0M154.2 650.2h0M149.0 592.4h0M164.2 623.6h0M159.2 639.0h0M155.7 647.2h0M158.7 625.6h0M162.4 649.9h0M149.9 612.7h0M160.4 626.1h0M161.7 637.9h0M165.9 648.9h0M154.6 647.8h0M157.0 646.1h0M157.4 613.4h0M158.7 636.9h0M163.9 631.3h0M154.1 641.2h0M162.3 649.2h0M150.1 614.7h0M154.0 612.0h0M154.0 648.2h0M157.0 638.8h0M161.1 602.2h0M157.3 639.8h0M148.8 648.7h0M154.1 600.4h0M154.9 647.2h0M153.4 630.9h0M155.8 615.0h0M149.3 622.4h0M159.2 613.8h0M158.1 626.6h0M157.4 639.2h0M153.0 646.4h0M165.7 616.8h0M161.1 631.7h0M165.5 599.9h0M165.7 629.8h0M159.9 644.6h0M158.1 628.4h0M157.7 627.8h0M165.7 582.6h0M164.2 635.4h0M163.0 642.6h0M157.1 647.6h0M159.2 641.0h0M160.9 646.5h0M157.5 625.8h0M162.0 646.0h0M159.3 616.5h0M150.3 599.1h0M155.6 649.2h0M154.3 618.7h0M159.3 632.1h0M157.8 643.7h0M159.7 636.8h0M157.2 602.9h0M156.7 645.6h0M157.5 646.5h0M149.9 645.9h0M149.5 633.5h0M157.8 634.8h0M150.7 640.2h0M153.1 618.2h0M156.0 640.9h0M156.3 640.2h0M150.9 619.7h0M154.3 642.2h0M164.4 627.6h0M156.4 640.1h0M157.1 645.1h0M161.1 647.0h0M163.9 638.2h0M149.2 634.9h0M157.2 621.4h0M152.0 625.3h0M157.3 598.2h0M159.0 632.0h0M200.3 638.7h0M193.0 636.7h0M195.1 635.2h0M186.7 642.5h0M193.8 642.8h0M192.2 635.3h0M192.9 642.6h0M187.3 644.1h0M189.7 635.3h0M196.3 630.5h0M199.2 638.2h0M199.4 643.9h0M186.2 631.9h0M196.9 631.2h0M191.2 643.3h0M200.0 637.3h0M198.7 639.4h0M195.1 636.2h0M199.5 641.8h0M196.0 631.9h0M185.6 630.7h0M198.2 635.6h0M185.3 635.7h0M199.7 633.6h0M194.4 639.9h0M185.2 642.7h0M194.2 637.7h0M189.8 630.8h0M199.6 639.9h0M193.0 636.3h0M192.3 636.8h0M196.6 641.1h0M192.8 635.7h0M188.9 638.7h0M187.4 634.9h0M197.7 636.1h0M193.7 642.7h0M195.2 631.0h0M194.0 634.3h0M195.6 641.3h0M198.1 641.0h0M190.9 636.4h0M196.1 632.9h0M199.2 630.4h0M192.4 631.0h0M192.5 642.5h0M195.9 643.5h0M195.6 633.0h0M197.0 637.3h0M199.5 633.1h0M188.3 637.9h0M186.9 640.4h0M197.6 631.7h0M186.5 644.8h0M194.7 635.6h0M195.8 633.0h0M187.9 635.3h0M200.2 638.1h0M185.0 641.3h0M195.9 634.8h0M200.2 630.9h0M190.1 639.9h0M186.5 634.7h0M196.2 644.9h0M191.8 638.1h0M198.8 644.9h0M197.2 644.6h0M188.8 638.4h0M188.6 635.5h0M187.2 635.4h0M192.8 635.3h0M194.6 643.1h0M187.7 636.0h0M186.4 643.9h0M185.6 641.0h0M185.3 642.1h0M188.1 634.6h0M199.0 630.9h0M199.5 642.0h0M185.6 643.0h0M193.4 641.7h0M192.1 642.4h0M199.0 639.5h0M199.7 633.3h0M190.7 644.5h0M190.8 637.4h0M189.5 638.7h0M186.3 642.7h0M197.0 639.5h0M198.8 638.9h0M198.1 639.0h0M196.1 643.5h0M199.8 642.5h0M185.5 632.0h0M199.5 642.0h0M192.1 635.8h0M188.5 632.7h0M193.6 636.8h0M191.6 643.1h0M190.3 630.6h0M195.2 638.3h0M186.7 638.4h0M196.1 639.3h0M186.6 639.2h0M198.4 644.2h0M190.2 640.9h0M199.2 634.0h0M192.6 631.8h0M198.3 630.6h0M186.8 644.3h0M193.6 634.5h0M191.3 632.8h0M189.6 631.2h0M197.1 635.6h0M195.1 644.2h0M200.0 641.7h0M200.5 635.3h0M192.1 640.3h0M198.6 634.4h0M191.4 633.8h0M197.7 636.3h0M185.9 638.6h0M191.8 639.3h0M190.6 638.6h0M196.9 637.2h0M196.4 642.4h0M189.2 639.1h0M198.5 642.8h0M187.4 642.8h0M190.3 632.0h0M188.8 643.3h0M192.6 637.3h0M200.5 633.7h0M185.9 644.2h0M198.8 643.8h0M190.5 643.4h0M199.9 645.0h0M195.3 638.5h0M185.9 637.5h0M191.2 630.8h0M199.1 634.2h0M188.0 636.0h0M191.7 638.3h0M192.5 632.2h0M194.2 638.0h0M191.3 632.1h0M187.0 643.6h0M200.2 636.1h0M191.0 633.8h0M191.4 631.7h0M186.9 635.5h0M192.0 638.9h0M196.8 641.2h0M189.9 631.6h0M187.9 641.4h0M199.6 650.3h0M188.4 626.2h0M193.1 605.2h0M192.7 607.8h0M188.4 630.5h0M196.7 590.3h0M197.7 644.2h0M187.4 642.5h0M194.5 637.0h0M198.3 621.4h0M196.0 619.7h0M188.2 632.4h0M185.8 608.8h0M194.2 622.3h0M197.3 585.8h0M200.6 601.0h0M193.5 613.6h0M187.2 646.3h0M187.5 648.8h0M196.6 615.3h0M193.3 642.0h0M191.2 651.5h0M191.1 645.3h0M195.1 632.7h0M200.6 609.9h0M187.1 651.4h0M185.9 612.6h0M196.8 615.2h0M187.4 576.3h0M185.8 609.9h0M193.7 598.2h0M199.1 613.7h0M190.0 632.3h0M189.8 623.2h0M190.5 616.6h0M193.1 637.8h0M200.2 630.8h0M192.4 633.2h0M200.6 642.1h0M187.8 634.8h0M185.2 643.2h0M193.7 615.0h0M198.8 638.3h0M189.2 649.6h0M188.6 582.2h0M199.1 577.0h0M192.5 627.2h0M192.1 627.6h0M195.6 618.9h0M196.2 631.9h0M193.0 610.4h0M191.3 650.7h0M188.5 647.4h0M194.4 650.4h0M195.6 636.8h0M195.4 651.6h0M190.9 636.4h0M199.5 614.0h0M199.6 614.0h0M188.1 611.3h0M198.1 647.5h0M191.9 629.6h0M193.3 643.9h0M193.2 645.7h0M193.0 592.4h0M193.5 651.2h0M194.6 621.6h0M200.6 600.6h0M196.6 620.2h0M190.3 555.3h0M200.1 651.7h0M186.9 645.4h0M197.9 633.6h0M190.5 641.8h0M187.3 617.9h0M190.7 647.9h0M189.9 643.9h0M188.0 606.3h0M200.0 629.4h0M200.0 650.7h0M192.8 650.6h0M190.7 612.3h0M189.0 636.7h0M195.0 645.0h0M195.1 633.7h0M186.4 629.1h0M192.3 645.0h0M186.4 649.0h0M186.5 644.4h0M187.2 642.3h0M186.3 651.6h0M196.3 618.4h0M192.4 643.6h0M186.8 626.4h0M199.0 607.0h0M197.5 610.8h0M190.7 641.7h0M195.2 641.6h0M191.3 651.0h0M188.1 638.2h0M185.5 627.6h0M187.3 640.0h0M200.5 634.9h0M192.1 595.7h0M187.6 610.5h0M190.6 643.3h0M200.3 627.1h0M200.5 634.7h0M197.8 630.9h0M195.8 603.7h0M192.0 618.0h0M187.3 602.9h0M196.1 608.5h0M185.1 649.4h0M197.8 641.4h0M197.8 637.4h0M187.2 637.5h0M195.4 651.4h0M192.6 613.7h0M190.5 650.1h0M198.2 643.7h0M196.0 641.5h0M188.4 639.0h0M186.6 641.8h0M200.2 650.9h0M200.2 645.6h0M199.1 638.8h0M185.0 648.2h0M199.5 650.9h0M190.8 612.8h0M190.9 632.7h0M196.4 647.1h0M200.1 649.6h0M190.2 639.1h0M191.5 629.0h0M199.9 625.7h0M197.7 648.4h0M194.0 650.6h0M197.1 645.1h0M187.9 617.1h0M187.5 642.4h0M193.6 606.3h0M196.7 641.9h0M188.4 651.7h0M199.5 644.5h0M192.0 642.4h0M188.7 644.6h0M200.6 641.7h0M187.2 630.1h0M197.7 638.3h0M188.5 607.9h0M187.1 642.7h0M200.2 591.5h0M193.0 648.0h0M196.9 644.7h0M187.6 650.7h0M198.9 631.1h0M191.0 599.3h0M192.0 633.3h0M190.9 650.3h0M197.3 646.5h0M185.4 636.7h0M196.6 621.7h0M186.0 623.4h0M186.2 648.1h0M199.0 618.6h0M199.4 584.1h0M190.2 646.2h0M199.2 602.0h0M199.1 650.3h0M195.8 638.2h0M195.3 627.6h0M197.2 642.6h0M188.3 647.2h0M189.0 639.6h0M198.7 605.9h0M188.1 648.6h0M194.8 628.9h0M199.5 634.0h0M186.2 628.0h0M200.1 645.4h0M191.9 644.6h0M188.2 636.3h0M188.2 630.4h0M192.8 615.4h0M198.2 611.4h0M185.3 649.7h0M200.2 643.9h0M189.9 651.1h0M200.1 639.2h0M188.1 616.7h0M188.1 649.0h0M199.4 621.0h0M190.8 629.5h0M188.7 644.6h0M200.4 647.1h0M185.5 642.8h0M200.5 610.6h0M197.4 639.4h0M194.9 646.4h0M196.3 615.7h0M189.9 646.5h0M197.3 641.7h0M191.0 636.4h0M199.4 647.6h0M189.2 642.5h0M191.2 636.3h0M187.2 643.0h0M188.9 646.2h0M186.1 643.5h0M193.5 630.4h0M190.1 651.8h0M187.1 595.0h0M192.6 637.9h0M195.2 618.3h0M186.6 651.1h0M185.4 620.9h0M188.6 646.2h0M200.1 644.4h0M193.7 643.7h0M185.2 641.8h0M190.3 637.2h0M200.3 640.6h0M199.7 623.2h0M190.9 640.9h0M193.7 635.8h0M188.9 623.0h0M189.2 650.8h0M192.1 645.8h0M199.1 619.9h0M192.7 644.6h0M196.6 649.6h0M196.6 621.2h0M196.8 625.8h0M195.0 590.9h0M195.3 649.1h0M191.5 599.4h0M192.6 637.3h0M198.3 650.1h0M199.1 621.2h0M186.8 598.0h0M195.1 643.4h0M191.2 613.6h0M198.9 643.5h0M195.7 616.5h0M190.6 621.2h0M193.9 650.9h0M191.9 651.5h0M200.3 584.0h0M186.8 646.2h0M185.3 649.3h0M188.5 647.6h0M185.2 641.2h0M190.0 642.1h0M190.0 618.4h0M187.6 646.7h0M194.3 647.8h0M194.9 570.3h0M192.4 614.7h0M191.0 642.7h0M192.8 644.5h0M190.9 641.3h0M190.8 604.9h0M186.1 643.9h0M197.9 647.1h0M191.2 645.3h0M199.8 635.6h0M197.0 650.4h0M196.0 637.0h0M199.9 643.3h0M198.7 646.8h0M200.7 645.1h0M194.5 651.2h0M197.9 609.3h0M193.3 629.7h0M187.8 600.9h0M199.7 611.5h0M187.1 629.2h0M197.5 641.6h0M188.2 636.8h0M199.6 583.7h0M197.8 640.9h0M196.1 592.1h0M200.5 645.8h0M186.2 640.2h0M196.5 637.9h0M187.3 612.2h0M189.1 644.4h0M195.4 633.9h0M199.6 650.1h0M193.5 650.5h0M192.8 645.2h0M195.5 649.2h0M190.6 637.6h0M189.3 640.0h0M191.2 626.8h0M187.5 641.7h0M186.8 642.8h0M185.2 632.1h0M198.8 608.0h0M192.7 596.2h0M197.9 644.5h0M188.1 621.5h0M188.2 639.5h0M189.3 640.9h0M185.1 648.2h0M186.0 613.2h0M186.8 644.3h0M192.3 641.7h0M197.2 630.1h0M198.1 635.7h0M186.6 637.0h0M188.1 639.4h0M195.7 624.3h0M186.4 650.1h0M190.7 623.1h0M187.7 650.8h0M198.7 602.5h0M192.0 647.9h0M191.7 642.5h0M191.9 635.6h0M200.2 630.8h0M198.2 645.7h0M194.3 617.5h0M197.5 611.6h0M197.6 628.7h0M188.2 646.8h0M195.6 636.6h0M198.7 607.5h0M188.1 629.2h0M197.6 629.0h0M198.6 645.9h0M193.6 635.1h0M192.3 648.1h0M194.9 600.4h0M186.9 642.3h0M196.7 639.4h0M198.3 619.3h0M189.0 645.5h0M191.5 648.1h0M193.0 622.1h0M187.3 645.6h0M189.9 648.7h0M199.2 634.2h0M193.0 626.0h0M194.1 646.3h0M198.0 587.2h0M187.0 622.8h0M190.3 651.4h0M189.7 594.4h0M186.5 625.4h0M186.7 642.0h0M189.6 645.3h0M190.4 630.3h0M200.3 602.4h0M197.0 651.0h0M196.8 640.2h0M190.1 630.3h0M196.2 603.4h0M198.3 647.4h0M186.5 638.0h0M190.9 643.0h0M200.0 630.3h0M200.3 617.2h0M188.9 604.3h0M186.5 559.8h0M196.1 647.1h0M196.2 602.2h0M225.9 629.9h0M223.5 632.4h0M227.2 634.3h0M222.0 633.4h0M221.1 626.7h0M216.7 639.2h0M226.3 632.9h0M218.3 638.0h0M223.1 625.9h0M225.8 637.4h0M219.4 631.6h0M227.0 631.8h0M225.4 629.0h0M229.1 626.0h0M225.6 635.9h0M224.5 636.3h0M228.9 626.2h0M222.4 637.2h0M222.1 625.7h0M223.4 637.0h0M216.7 636.0h0M223.5 637.1h0M220.7 628.0h0M224.2 637.1h0M222.6 626.5h0M221.0 636.7h0M221.6 639.9h0M226.6 629.3h0M217.8 637.7h0M228.4 631.2h0M224.0 631.6h0M223.4 630.6h0M218.2 631.7h0M219.6 629.4h0M223.9 638.2h0M219.3 633.4h0M227.0 625.9h0M218.0 626.9h0M228.1 632.4h0M228.2 637.3h0M224.4 633.8h0M221.2 628.6h0M217.0 639.3h0M220.5 636.7h0M226.0 638.8h0M219.4 638.8h0M224.8 632.7h0M219.5 626.7h0M229.5 639.9h0M224.9 627.0h0M227.0 627.0h0M217.4 640.1h0M224.1 631.1h0M219.6 632.7h0M217.0 631.2h0M223.6 636.2h0M224.4 627.0h0M221.0 633.5h0M228.0 627.3h0M218.0 632.3h0M218.9 640.4h0M219.5 629.1h0M219.3 635.9h0M216.7 640.4h0M218.6 636.0h0M229.4 640.3h0M224.8 628.8h0M219.6 638.7h0M228.0 639.5h0M228.8 634.8h0M226.2 626.1h0M225.6 631.4h0M228.9 635.8h0M218.2 627.7h0M227.5 637.0h0M223.0 627.7h0M217.8 627.5h0M219.0 629.6h0M218.6 640.4h0M224.6 639.2h0M229.4 629.7h0M222.3 628.5h0M225.9 639.6h0M221.8 631.3h0M229.2 630.8h0M226.0 629.2h0M221.2 626.5h0M220.9 628.7h0M226.9 626.3h0M226.2 625.9h0M216.9 630.5h0M226.3 629.7h0M221.7 630.6h0M222.8 638.8h0M221.2 627.5h0M225.8 628.3h0M222.9 635.2h0M219.5 625.8h0M220.8 634.9h0M218.5 633.8h0M219.3 633.3h0M227.0 625.7h0M224.3 636.7h0M229.0 633.1h0M218.3 631.7h0M229.5 634.4h0M218.5 638.6h0M225.3 629.7h0M228.7 628.6h0M217.0 628.4h0M217.4 640.0h0M227.9 628.6h0M217.4 635.8h0M224.4 634.8h0M218.2 628.8h0M224.2 633.8h0M220.0 634.6h0M220.8 626.5h0M226.7 633.4h0M220.3 628.2h0M217.2 629.6h0M229.0 629.4h0M228.9 628.5h0M223.6 632.3h0M228.8 632.2h0M223.8 635.8h0M227.1 633.4h0M223.8 640.1h0M217.0 627.0h0M221.1 632.5h0M224.4 635.2h0M224.6 615.7h0M224.3 642.4h0M218.9 617.2h0M222.2 641.8h0M218.7 646.7h0M226.0 620.7h0M224.6 619.6h0M222.5 639.2h0M226.7 634.4h0M223.7 640.8h0M217.1 646.0h0M218.2 629.3h0M218.8 603.6h0M223.8 647.2h0M217.5 644.8h0M225.5 621.6h0M226.2 636.0h0M217.3 643.7h0M227.7 646.2h0M223.2 641.3h0M225.9 601.9h0M226.9 641.5h0M217.5 641.4h0M221.0 631.7h0M220.3 638.3h0M223.0 628.5h0M217.2 606.4h0M216.8 630.8h0M227.1 643.9h0M216.8 607.9h0M223.9 640.6h0M221.2 641.6h0M225.5 613.4h0M225.8 611.2h0M227.9 644.9h0M223.2 573.0h0M229.6 639.9h0M216.6 623.8h0M225.6 635.7h0M224.7 644.1h0M217.8 596.4h0M221.9 639.5h0M227.9 626.5h0M226.6 641.1h0M228.9 641.1h0M220.0 600.7h0M223.8 592.5h0M217.6 627.2h0M223.9 639.5h0M222.2 643.4h0M221.5 618.5h0M224.5 637.1h0M220.8 637.7h0M219.7 646.9h0M218.8 631.3h0M219.4 644.9h0M224.0 642.8h0M222.1 637.1h0M229.3 624.3h0M224.2 558.2h0M221.7 633.8h0M223.5 636.2h0M223.1 647.0h0M227.4 632.9h0M218.3 622.9h0M218.2 631.1h0M219.8 636.3h0M222.7 610.2h0M218.8 635.1h0M226.8 644.7h0M227.8 639.7h0M221.4 609.9h0M224.7 643.4h0M218.9 640.5h0M227.6 631.0h0M223.9 647.3h0M227.5 603.1h0M224.9 604.8h0M222.5 633.5h0M217.9 630.0h0M226.1 633.4h0M218.3 623.2h0M220.2 631.5h0M224.4 611.0h0M228.4 629.4h0M221.5 640.5h0M225.2 637.6h0M226.1 637.2h0M222.8 626.3h0M226.6 616.1h0M224.7 637.5h0M224.5 646.0h0M220.3 635.1h0M228.8 647.1h0M229.5 591.7h0M224.8 621.9h0M223.1 643.5h0M228.7 617.1h0M217.8 634.8h0M217.3 644.7h0M218.1 630.1h0M226.9 593.8h0M221.1 623.9h0M218.3 642.6h0M228.1 621.3h0M222.4 629.3h0M222.7 597.7h0M219.0 566.0h0M222.2 621.9h0M227.0 631.9h0M221.6 631.5h0M225.3 635.1h0M219.4 645.3h0M229.5 634.0h0M219.6 590.7h0M220.0 634.3h0M224.4 644.8h0M217.5 642.4h0M223.0 627.9h0M228.8 643.6h0M224.9 646.7h0M227.3 628.4h0M223.6 645.9h0M224.9 645.6h0M218.0 635.6h0M221.6 640.6h0M217.4 617.2h0M217.5 647.0h0M226.9 640.7h0M221.3 622.7h0M217.4 646.6h0M223.8 617.9h0M224.9 644.0h0M228.5 607.4h0M221.6 614.3h0M227.3 645.6h0M228.2 624.0h0M219.4 628.9h0M225.2 636.5h0M225.2 631.8h0M218.7 595.9h0M222.9 645.4h0M227.7 623.8h0M229.0 620.2h0M227.9 625.2h0M219.2 611.5h0M217.7 638.1h0M226.7 646.8h0M222.8 609.5h0M222.4 634.6h0M222.3 638.0h0M228.9 638.3h0M218.9 618.5h0M222.0 617.0h0M221.7 623.8h0M225.2 643.6h0M224.0 606.5h0M227.2 633.3h0M222.1 627.6h0M219.9 599.4h0M220.4 633.5h0M223.5 639.8h0M223.7 631.9h0M227.1 642.6h0M228.0 614.9h0M227.8 627.0h0M226.6 637.4h0M221.1 624.9h0M226.5 639.0h0M228.9 638.5h0M219.8 616.9h0M220.3 605.2h0M218.4 623.7h0M229.5 641.3h0M226.0 633.5h0M225.2 594.2h0M220.7 632.9h0M220.1 639.7h0M229.5 642.8h0M227.7 589.0h0M221.8 632.6h0M219.8 631.9h0M218.3 641.2h0M219.5 620.6h0M217.1 631.8h0M229.1 609.9h0M223.8 643.8h0M223.9 633.2h0M217.0 622.5h0M228.1 645.2h0M227.3 638.9h0M223.3 632.4h0M227.8 644.6h0M226.6 632.4h0M219.3 637.7h0M220.0 635.6h0M225.5 632.8h0M223.0 624.0h0M218.5 626.5h0M222.4 625.8h0M223.2 645.6h0M225.8 641.1h0M217.1 634.1h0M220.3 628.1h0M217.3 600.0h0M223.1 645.6h0M220.6 628.2h0M220.6 628.1h0M216.6 594.9h0M219.3 632.3h0M217.6 624.5h0M219.1 607.3h0M217.8 605.3h0M222.5 603.7h0M220.8 633.7h0M221.5 644.3h0M220.4 633.0h0M225.9 635.0h0M227.2 622.5h0M220.6 621.1h0M221.7 621.6h0M222.3 578.2h0M227.7 636.2h0M221.6 644.2h0M226.7 634.7h0M217.4 644.0h0M228.3 634.7h0M227.2 641.2h0M220.5 598.9h0M217.7 563.6h0M228.4 594.5h0M218.9 636.3h0M217.0 629.5h0M222.3 601.1h0M226.2 628.4h0M221.9 638.5h0M217.9 638.0h0M229.6 615.8h0M229.5 624.3h0M216.7 636.1h0M222.1 640.1h0M228.4 635.9h0M219.2 646.4h0M228.0 637.4h0M224.4 644.0h0M224.7 643.9h0M222.0 640.6h0M226.4 626.5h0M229.3 645.1h0M217.6 647.2h0M221.1 621.2h0M223.3 615.0h0M228.8 633.9h0M221.1 644.1h0M222.9 639.1h0M218.8 623.5h0M226.6 633.7h0M220.6 638.0h0M224.7 595.9h0M218.6 641.6h0M229.6 640.0h0M219.7 624.2h0M218.2 640.6h0M219.6 636.2h0M223.3 642.6h0M229.0 639.5h0M226.9 629.6h0M220.6 620.1h0M229.4 644.0h0M228.2 643.7h0M219.4 642.8h0M217.9 637.6h0M220.1 623.5h0M223.8 624.5h0M225.0 642.0h0M229.2 647.1h0M221.0 635.7h0M220.3 607.6h0M225.0 602.4h0M222.0 618.4h0M220.5 644.8h0M225.6 646.7h0M223.1 630.3h0M221.0 644.6h0M226.8 622.6h0M229.3 630.3h0M226.8 621.8h0M224.5 599.0h0M217.4 602.6h0M219.0 637.3h0M221.3 635.3h0M218.5 613.8h0M223.4 636.8h0M223.1 646.6h0M226.1 593.4h0M222.9 645.9h0M221.0 588.5h0M224.5 647.0h0M223.5 646.5h0M222.0 645.6h0M219.5 645.1h0M226.5 607.4h0M221.2 606.5h0M256.8 631.2h0M251.3 628.4h0M251.5 634.9h0M246.2 641.1h0M246.7 634.1h0M253.9 631.2h0M251.8 634.0h0M248.2 630.6h0M252.2 637.9h0M246.4 632.5h0M250.8 638.2h0M254.1 630.7h0M254.3 639.4h0M256.4 640.7h0M253.9 638.7h0M253.4 629.7h0M247.3 629.2h0M252.4 637.6h0M258.3 631.1h0M257.4 629.3h0M257.4 639.5h0M257.9 640.9h0M250.3 637.4h0M253.8 632.7h0M248.7 638.4h0M258.1 640.8h0M246.8 633.0h0M256.2 640.7h0M249.6 639.3h0M251.9 631.0h0M254.6 636.0h0M255.7 630.4h0M253.4 639.2h0M248.6 640.0h0M254.8 640.9h0M248.4 637.3h0M250.1 632.7h0M257.5 631.8h0M258.4 628.6h0M257.8 640.6h0M258.0 639.6h0M249.8 636.0h0M255.6 641.4h0M255.5 631.3h0M252.1 639.5h0M247.4 628.7h0M249.7 632.9h0M252.1 634.8h0M245.3 641.0h0M247.8 643.1h0M253.0 636.6h0M245.5 633.3h0M252.8 640.8h0M253.9 635.4h0M249.9 630.5h0M246.1 632.3h0M256.4 635.4h0M256.9 638.3h0M252.9 629.7h0M245.9 634.5h0M250.4 631.9h0M249.2 637.6h0M249.4 633.2h0M251.1 630.1h0M249.7 639.1h0M247.6 641.6h0M251.2 631.8h0M246.8 634.9h0M252.1 636.9h0M254.7 628.6h0M253.0 642.9h0M247.6 643.0h0M251.7 642.8h0M257.9 633.6h0M246.5 641.2h0M246.5 632.2h0M255.1 636.9h0M256.8 632.2h0M247.2 635.8h0M251.0 641.0h0M256.7 643.1h0M253.0 632.0h0M255.6 636.2h0M254.0 639.7h0M251.9 636.6h0M256.6 639.2h0M252.1 636.8h0M254.5 641.4h0M246.3 642.9h0M254.0 631.0h0M258.3 643.0h0M248.9 642.0h0M250.6 638.0h0M255.3 640.0h0M251.9 628.4h0M248.6 637.5h0M252.5 636.7h0M258.3 637.1h0M257.1 629.0h0M250.7 628.4h0M248.0 633.3h0M247.0 632.1h0M253.6 629.1h0M249.6 640.6h0M252.6 637.2h0M247.9 631.8h0M248.1 638.7h0M249.5 637.2h0M248.2 637.2h0M248.5 629.9h0M254.0 639.2h0M256.7 631.4h0M246.7 634.5h0M245.4 638.3h0M256.0 642.7h0M246.4 638.9h0M247.7 639.9h0M248.2 632.4h0M257.9 629.6h0M255.3 641.7h0M253.4 634.7h0M246.5 638.9h0M245.3 641.6h0M258.2 631.7h0M247.8 634.5h0M245.8 638.9h0M251.6 635.5h0M251.1 641.2h0M251.2 634.4h0M254.4 643.0h0M245.8 641.4h0M251.1 634.6h0M245.7 632.5h0M252.9 639.9h0M251.2 627.6h0M254.5 606.3h0M247.6 646.1h0M255.1 645.8h0M256.0 636.9h0M253.2 618.4h0M250.5 632.2h0M248.5 637.7h0M251.7 620.8h0M258.0 626.4h0M249.4 625.9h0M249.3 599.2h0M257.8 631.0h0M245.3 639.2h0M254.9 641.8h0M248.1 637.2h0M253.9 614.5h0M247.1 622.8h0M247.2 637.2h0M258.5 622.4h0M249.3 622.4h0M250.1 644.8h0M248.9 626.1h0M253.6 584.6h0M258.2 588.4h0M257.8 635.7h0M255.3 636.8h0M248.3 646.6h0M251.7 648.7h0M252.2 641.2h0M253.7 646.7h0M248.0 633.0h0M257.3 639.3h0M257.3 645.6h0M249.6 649.5h0M248.1 645.8h0M254.0 642.7h0M252.7 638.0h0M252.3 642.2h0M258.0 612.7h0M256.3 644.4h0M251.3 640.0h0M256.8 643.1h0M245.3 628.5h0M253.9 631.4h0M258.5 644.4h0M248.8 571.5h0M254.6 598.7h0M247.0 617.2h0M252.4 644.0h0M256.1 617.4h0M250.7 644.4h0M256.8 635.7h0M251.1 633.6h0M249.6 640.8h0M245.8 646.2h0M250.3 602.1h0M256.0 647.0h0M256.9 601.5h0M256.0 647.9h0M254.2 634.7h0M257.5 645.4h0M247.2 631.8h0M246.3 635.1h0M248.8 646.1h0M251.7 639.3h0M253.7 639.2h0M253.2 612.7h0M248.1 642.6h0M251.6 638.0h0M245.2 589.3h0M245.7 632.0h0M258.1 641.2h0M247.9 600.8h0M255.7 613.1h0M245.7 634.0h0M253.9 645.6h0M248.4 645.5h0M251.9 637.5h0M257.7 647.8h0M248.4 610.4h0M257.4 641.5h0M247.3 635.8h0M248.8 587.1h0M249.0 629.0h0M250.5 592.9h0M246.4 646.9h0M253.2 647.6h0M247.8 629.5h0M255.2 614.6h0M245.5 648.1h0M249.1 633.9h0M253.4 641.8h0M250.9 642.2h0M254.9 647.6h0M253.4 641.4h0M245.7 638.3h0M254.2 629.6h0M258.4 610.3h0M252.0 594.9h0M255.0 623.2h0M249.0 636.6h0M254.4 640.2h0M253.5 640.9h0M247.7 644.4h0M257.4 642.6h0M252.8 609.1h0M256.5 631.7h0M255.7 603.9h0M254.8 630.5h0M250.2 630.5h0M257.0 634.1h0M245.9 649.5h0M257.9 647.5h0M251.4 636.7h0M255.6 628.7h0M257.8 623.6h0M250.8 643.0h0M247.2 646.8h0M253.0 644.2h0M255.5 649.9h0M245.7 601.7h0M249.4 592.9h0M247.1 587.2h0M247.2 631.2h0M253.9 596.2h0M246.7 646.4h0M257.9 639.8h0M246.2 631.0h0M254.2 627.1h0M252.8 639.5h0M249.5 620.7h0M246.3 641.2h0M255.7 596.2h0M248.9 639.7h0M251.8 633.7h0M252.0 646.0h0M258.1 622.8h0M257.8 632.1h0M258.5 607.6h0M245.4 641.5h0M258.2 641.3h0M247.6 635.6h0M247.3 643.5h0M252.0 623.3h0M252.4 643.9h0M251.6 633.4h0M245.5 625.2h0M251.2 615.5h0M251.4 616.3h0M252.7 640.0h0M257.0 626.4h0M251.1 643.9h0M247.6 649.3h0M253.1 643.0h0M252.2 644.3h0M248.0 643.7h0M255.0 646.0h0M249.0 634.2h0M258.1 604.6h0M249.7 639.7h0M252.7 630.6h0M257.2 644.9h0M249.6 642.2h0M257.0 636.8h0M252.2 648.3h0M251.5 584.0h0M248.2 641.1h0M247.1 634.9h0M252.6 631.2h0M256.7 616.1h0M254.3 618.1h0M254.7 592.3h0M252.5 643.7h0M246.4 642.1h0M247.9 614.6h0M256.2 604.2h0M251.5 647.7h0M258.2 649.5h0M249.6 647.9h0M250.9 644.4h0M247.1 628.4h0M255.2 625.5h0M251.3 634.2h0M247.0 620.5h0M251.1 649.3h0M250.6 641.9h0M246.5 645.4h0M255.0 624.1h0M246.1 616.1h0M252.3 629.4h0M250.5 648.7h0M257.6 647.1h0M247.6 627.0h0M251.3 647.4h0M249.2 628.1h0M247.9 645.9h0M251.4 611.2h0M252.1 643.8h0M250.8 633.3h0M249.0 643.8h0M250.3 647.4h0M253.9 645.6h0M257.8 644.4h0M245.6 648.8h0M249.5 640.4h0M246.0 630.7h0M246.4 583.0h0M247.4 639.1h0M250.2 594.4h0M253.4 617.1h0M252.1 595.0h0M256.7 647.6h0M255.4 615.6h0M247.0 618.4h0M254.9 644.0h0M256.0 649.6h0M257.6 636.9h0M245.5 648.2h0M255.0 632.5h0M253.2 646.7h0M251.5 640.6h0M249.2 628.9h0M252.7 641.4h0M247.9 625.6h0M252.8 622.0h0M245.5 634.4h0M254.4 646.4h0M256.1 592.2h0M251.2 627.6h0M250.7 630.7h0M252.0 640.5h0M250.8 639.3h0M258.2 644.2h0M247.7 635.4h0M251.3 647.1h0M250.2 636.2h0M257.3 647.9h0M247.2 634.0h0M250.1 607.0h0M245.2 647.0h0M246.2 594.6h0M257.2 595.2h0M247.1 590.8h0M255.4 616.0h0M247.4 646.1h0M257.2 631.7h0M255.0 632.3h0M252.9 644.0h0M250.1 644.7h0M245.4 645.5h0M255.7 549.1h0M254.9 627.6h0M250.5 642.5h0M248.0 609.7h0M255.9 625.6h0M253.1 616.6h0M248.2 609.8h0M257.1 611.8h0M253.2 638.4h0M245.4 645.8h0M257.2 648.5h0M249.6 638.8h0M254.7 641.4h0M251.9 631.8h0M249.5 648.6h0M247.1 639.0h0M252.3 607.7h0M245.8 631.1h0M248.1 639.7h0M246.0 633.1h0M248.9 646.2h0M253.3 621.5h0M258.3 606.6h0M253.1 638.3h0M248.6 642.2h0M247.4 648.0h0M255.5 613.8h0M256.3 629.1h0M258.3 602.0h0M252.5 649.3h0M256.7 588.1h0M253.9 619.7h0M252.2 623.5h0M253.8 633.2h0M257.5 588.6h0M248.5 627.3h0M256.3 645.8h0M252.4 633.9h0M251.9 647.1h0M248.2 636.8h0M250.5 637.1h0M250.9 649.2h0M246.7 634.9h0M256.3 647.1h0M253.5 599.4h0M247.0 632.2h0M247.6 649.2h0M246.6 645.1h0M257.3 640.0h0M256.6 645.5h0M256.3 630.6h0M252.1 644.7h0M248.6 649.2h0M247.7 645.2h0M257.1 623.1h0M249.9 639.5h0M249.7 619.5h0M246.7 627.7h0M247.6 647.4h0M250.9 634.8h0M247.9 625.2h0M276.0 638.0h0M274.5 651.1h0M281.1 639.4h0M281.6 651.3h0M277.0 641.1h0M281.0 646.8h0M275.3 645.4h0M279.6 642.1h0M279.3 637.8h0M279.1 643.0h0M277.3 648.0h0M279.8 638.0h0M275.9 639.8h0M282.7 649.0h0M275.2 647.9h0M275.9 648.9h0M282.1 641.2h0M274.4 640.7h0M283.1 645.6h0M281.7 646.6h0M281.2 645.4h0M278.7 642.4h0M280.2 642.9h0M281.0 643.9h0M277.3 645.9h0M275.0 639.7h0M282.4 640.8h0M274.8 643.9h0M283.2 646.2h0M277.1 646.3h0M281.1 650.9h0M274.8 643.5h0M277.0 638.6h0M282.8 648.4h0M277.9 646.9h0M278.2 638.5h0M274.7 645.3h0M277.2 649.2h0M281.1 639.0h0M276.1 641.2h0M274.2 637.3h0M275.4 644.3h0M274.3 639.4h0M278.2 648.4h0M278.3 637.3h0M275.4 649.5h0M274.1 643.6h0M274.2 644.9h0M282.2 651.7h0M282.9 641.9h0M282.6 649.4h0M276.8 648.5h0M275.6 639.3h0M273.8 648.3h0M282.4 651.6h0M281.4 643.0h0M279.6 644.4h0M274.7 648.3h0M279.6 651.3h0M278.5 651.7h0M280.0 649.2h0M282.8 638.8h0M282.8 647.6h0M281.8 637.2h0M277.0 651.6h0M274.2 649.6h0M278.4 643.9h0M274.5 651.7h0M283.1 645.7h0M276.7 646.9h0M277.6 637.1h0M280.8 638.2h0M277.9 639.9h0M281.6 650.4h0M278.4 651.6h0M281.8 641.8h0M274.0 647.1h0M280.3 639.1h0M282.3 648.6h0M282.9 646.5h0M282.6 637.8h0M281.6 645.0h0M279.8 638.3h0M282.1 644.6h0M279.0 641.7h0M276.4 651.5h0M277.9 647.7h0M275.0 644.9h0M275.1 647.0h0M278.1 637.5h0M281.1 641.5h0M280.2 647.0h0M283.4 649.4h0M279.8 651.2h0M277.1 646.0h0M273.9 642.6h0M279.4 650.0h0M280.2 642.8h0M283.3 650.0h0M281.6 639.9h0M279.6 645.3h0M276.2 649.8h0M279.8 645.3h0M283.3 655.1h0M283.4 620.1h0M282.1 632.7h0M282.1 654.8h0M279.2 638.5h0M278.4 599.1h0M277.4 657.2h0M274.1 653.2h0M282.4 551.6h0M281.4 630.2h0M281.8 648.5h0M281.0 588.2h0M280.1 645.9h0M275.2 650.8h0M275.0 652.3h0M281.3 584.3h0M275.5 625.1h0M281.0 646.0h0M283.4 616.8h0M275.5 650.9h0M276.1 651.7h0M277.3 640.4h0M280.4 645.2h0M281.2 597.7h0M275.4 647.7h0M277.3 651.1h0M283.4 629.8h0M276.8 637.4h0M281.3 625.3h0M274.8 630.8h0M278.4 633.9h0M281.5 655.0h0M275.9 585.8h0M274.5 640.6h0M283.4 651.4h0M276.1 633.7h0M281.2 617.3h0M274.6 648.5h0M280.5 650.7h0M280.0 627.8h0M281.0 658.2h0M283.4 657.6h0M275.9 639.1h0M276.0 649.6h0M282.3 623.8h0M275.0 638.2h0M278.8 638.5h0M275.5 621.8h0M274.9 654.0h0M283.4 648.3h0M279.4 654.7h0M283.0 642.7h0M283.1 652.6h0M283.4 589.5h0M275.1 607.4h0M274.2 614.6h0M275.4 650.7h0M281.4 614.9h0M276.9 646.3h0M281.3 651.4h0M280.0 656.6h0M278.4 657.5h0M281.7 615.4h0M275.5 658.2h0M278.3 639.9h0M276.5 647.3h0M281.7 648.4h0M279.8 651.2h0M280.9 637.8h0M273.9 646.1h0M275.5 652.4h0M283.1 631.8h0M276.8 595.5h0M281.4 653.8h0M275.5 631.7h0M274.6 653.9h0M280.0 652.1h0M281.2 604.8h0M276.8 648.4h0M282.9 644.6h0M276.1 643.6h0M280.7 633.1h0M279.2 655.6h0M278.1 653.5h0M276.2 621.7h0M278.4 641.3h0M281.5 656.5h0M274.2 657.4h0M277.2 617.8h0M279.2 649.8h0M275.1 647.8h0M281.4 649.5h0M283.1 638.8h0M278.0 636.3h0M277.1 644.9h0M278.1 653.2h0M277.9 605.4h0M280.2 655.5h0M280.0 657.0h0M282.8 654.9h0M280.3 647.8h0M279.3 639.9h0M274.1 650.8h0M273.9 635.2h0M281.5 649.1h0M282.6 631.4h0M277.0 638.6h0M277.6 654.2h0M274.6 654.8h0M283.5 656.1h0M282.7 620.5h0M277.9 634.8h0M277.1 642.3h0M278.4 645.0h0M274.0 636.0h0M276.2 656.0h0M281.3 629.8h0M275.9 658.0h0M283.1 655.2h0M276.6 648.7h0M280.3 647.0h0M276.4 655.2h0M274.3 658.4h0M275.6 632.4h0M276.3 634.0h0M283.1 637.3h0M279.0 656.1h0M278.5 641.1h0M280.0 648.9h0M283.4 658.5h0M276.0 652.8h0M280.8 652.2h0M280.4 656.2h0M280.8 653.9h0M275.6 652.4h0M276.5 632.6h0M281.8 643.6h0M280.5 636.3h0M279.2 641.3h0M278.7 650.5h0M283.6 658.3h0M279.0 656.1h0M283.4 657.6h0M278.0 658.2h0M282.2 653.6h0M274.3 648.7h0M281.6 591.8h0M282.1 647.8h0M276.7 638.2h0M275.5 658.6h0M283.6 649.2h0M277.9 655.6h0M278.2 642.2h0M277.8 657.2h0M278.6 650.2h0M280.4 656.1h0M279.3 642.8h0M281.8 616.0h0M282.3 621.0h0M277.0 656.6h0M276.2 657.0h0M283.0 646.0h0M283.3 642.3h0M280.4 612.9h0M281.6 648.7h0M277.2 638.3h0M278.5 629.9h0M274.1 638.0h0M275.8 649.1h0M283.5 626.5h0M281.5 648.4h0M280.4 637.4h0M274.8 644.8h0M279.3 657.5h0M275.2 641.1h0M280.7 648.2h0M283.2 656.5h0M279.3 641.8h0M281.0 650.4h0M282.1 652.1h0M279.2 651.5h0M274.6 658.6h0M281.4 643.5h0M279.4 610.4h0M276.5 657.5h0M280.0 658.7h0M275.0 625.6h0M278.9 654.7h0M278.0 640.2h0M283.1 655.4h0M281.1 656.3h0M282.5 639.4h0M280.9 626.3h0M276.1 649.3h0M279.3 644.9h0M281.7 658.4h0M278.4 643.3h0M275.5 657.4h0M280.1 656.7h0M283.2 638.3h0M274.9 657.4h0M280.3 620.6h0M274.0 609.3h0M279.8 649.9h0M280.0 652.5h0M281.1 656.6h0M281.5 644.9h0M281.4 617.0h0M278.7 646.7h0M278.0 653.0h0M275.3 649.2h0M276.4 619.8h0M282.8 646.3h0M280.5 655.3h0M274.0 637.6h0M277.0 606.6h0M283.3 625.9h0M278.0 657.6h0M279.1 633.6h0M277.7 647.0h0M283.3 650.6h0M279.3 646.9h0M277.3 647.0h0M276.7 656.7h0M281.6 654.6h0M300.9 641.4h0M302.4 642.5h0M302.4 639.7h0M296.3 638.7h0M303.0 638.0h0M299.3 644.3h0M301.9 635.7h0M296.8 644.3h0M302.1 642.2h0M303.7 642.3h0M297.4 634.3h0M296.3 643.2h0M295.5 641.5h0M302.7 640.0h0M295.1 641.5h0M299.0 638.3h0M301.6 636.1h0M297.8 632.6h0M301.0 639.9h0M298.3 637.4h0M296.1 642.6h0M297.8 632.3h0M298.5 639.5h0M301.6 634.6h0M301.8 635.2h0M303.8 636.7h0M301.9 642.0h0M297.9 638.1h0M299.9 635.3h0M298.8 642.4h0M302.7 631.4h0M299.6 632.6h0M298.7 644.9h0M300.0 632.6h0M298.7 638.4h0M300.7 638.1h0M301.5 632.5h0M303.4 640.5h0M297.7 643.0h0M297.1 631.5h0M302.5 639.1h0M297.4 635.3h0M296.9 644.6h0M297.3 644.1h0M295.3 634.9h0M299.6 637.9h0M302.5 642.3h0M302.5 636.4h0M297.1 633.1h0M300.8 640.2h0M302.5 634.8h0M297.1 643.9h0M299.6 636.1h0M299.4 632.3h0M298.8 641.1h0M295.9 640.8h0M303.5 643.6h0M296.0 632.2h0M301.3 637.9h0M302.5 641.7h0M301.1 643.7h0M296.9 635.8h0M297.0 641.4h0M295.0 636.2h0M299.6 639.6h0M300.5 633.6h0M302.6 635.0h0M302.6 633.0h0M299.7 637.6h0M300.3 642.8h0M295.3 633.2h0M297.3 643.1h0M295.7 638.7h0M301.7 631.4h0M296.8 635.4h0M300.0 637.6h0M301.5 634.7h0M303.6 639.2h0M303.5 639.2h0M302.2 644.6h0M301.8 632.4h0M299.5 634.4h0M300.5 636.7h0M300.5 635.3h0M297.0 630.5h0M297.8 633.4h0M300.8 631.0h0M295.7 634.9h0M294.9 639.0h0M297.0 642.7h0M298.4 638.4h0M297.6 642.1h0M296.4 632.8h0M295.8 631.9h0M297.0 632.5h0M301.1 635.8h0M298.3 626.5h0M302.8 621.8h0M297.4 650.9h0M303.8 641.0h0M300.2 642.6h0M296.0 634.8h0M303.6 633.0h0M300.4 643.6h0M300.5 627.4h0M298.7 644.8h0M299.7 642.0h0M299.9 633.6h0M302.2 650.7h0M300.9 614.9h0M297.0 651.5h0M297.8 644.6h0M301.0 639.7h0M301.8 650.0h0M297.9 616.9h0M300.1 626.9h0M301.8 583.4h0M299.7 596.6h0M299.1 638.1h0M296.3 638.0h0M301.9 597.4h0M302.2 614.2h0M297.6 626.9h0M297.8 645.7h0M295.9 621.6h0M298.6 642.5h0M298.0 641.2h0M303.6 641.2h0M298.0 608.7h0M302.8 635.2h0M297.4 651.5h0M301.3 584.3h0M296.2 599.4h0M296.8 636.5h0M295.8 644.5h0M303.2 636.5h0M296.5 604.3h0M299.8 620.7h0M297.0 630.4h0M302.6 644.4h0M298.6 601.9h0M298.7 614.1h0M296.9 606.0h0M296.8 637.4h0M296.1 608.3h0M298.2 630.4h0M295.8 645.7h0M302.1 639.5h0M298.3 648.3h0M295.3 635.0h0M301.8 620.5h0M298.1 648.2h0M302.7 634.7h0M297.9 626.7h0M300.5 617.0h0M301.9 646.1h0M295.2 630.5h0M296.6 608.7h0M301.2 646.6h0M298.7 615.9h0M299.5 605.6h0M299.3 637.9h0M298.0 642.1h0M297.3 559.3h0M303.1 647.1h0M294.9 632.6h0M302.3 622.6h0M301.9 604.0h0M302.9 634.5h0M296.8 604.5h0M302.1 651.9h0M295.1 648.9h0M296.0 563.8h0M303.8 612.6h0M297.9 618.0h0M296.3 649.1h0M301.3 628.7h0M296.8 608.4h0M295.6 648.8h0M299.4 630.4h0M301.7 636.4h0M298.7 544.5h0M298.4 627.9h0M303.7 583.3h0M298.0 625.7h0M302.2 648.2h0M302.8 651.7h0M298.6 635.5h0M303.0 645.1h0M299.6 644.2h0M297.0 632.2h0M298.1 635.3h0M298.4 556.6h0M298.9 641.8h0M297.3 591.9h0M296.2 588.7h0M301.7 622.7h0M302.7 629.9h0M302.2 632.6h0M303.0 601.0h0M301.1 613.0h0M299.4 649.2h0M300.2 650.2h0M295.0 617.3h0M301.9 639.1h0M299.9 599.0h0M298.7 619.0h0M302.8 631.5h0M295.3 642.8h0M301.7 636.0h0M299.0 639.1h0M295.3 640.5h0M299.9 650.4h0M299.3 646.7h0M301.6 623.0h0M299.2 647.7h0M297.0 650.3h0M302.4 642.2h0M300.9 625.0h0M301.9 649.0h0M301.2 608.0h0M296.2 644.0h0M303.3 630.9h0M296.0 615.2h0M302.7 627.8h0M303.1 598.5h0M299.3 651.0h0M302.3 559.1h0M298.0 646.7h0M298.1 625.7h0M300.7 642.6h0M297.8 649.8h0M297.2 649.4h0M303.1 644.5h0M295.7 627.9h0M302.0 644.6h0M302.4 605.7h0M301.4 647.4h0M300.6 596.6h0M295.7 627.0h0M296.2 632.5h0M300.3 582.6h0M297.1 642.3h0M298.8 622.7h0M299.4 649.6h0M302.7 631.8h0M295.4 604.6h0M301.7 624.5h0M298.5 645.6h0M300.2 637.6h0M301.9 636.7h0M295.4 644.3h0M298.3 638.6h0M297.5 612.9h0M302.2 644.3h0M295.0 648.9h0M303.6 592.3h0M299.0 622.0h0M298.4 639.4h0M300.3 642.7h0M303.2 620.5h0M301.3 647.5h0M302.5 609.4h0M298.4 649.5h0M301.0 626.9h0M302.8 634.5h0M301.4 627.0h0M295.8 589.0h0M300.1 630.6h0M299.4 636.7h0M295.8 644.5h0M295.8 650.4h0M295.2 648.6h0M301.1 623.3h0M297.5 626.5h0M295.0 621.4h0M300.3 641.3h0M297.7 618.3h0M299.6 650.4h0M294.9 628.9h0M303.2 649.7h0M299.6 649.1h0M300.7 649.1h0M296.8 636.8h0M301.3 614.1h0M301.1 646.0h0M303.1 631.2h0M295.7 649.2h0M300.3 628.6h0M297.2 651.5h0M300.9 619.6h0M299.2 642.9h0M296.5 603.3h0M297.0 634.8h0M302.4 609.9h0M298.3 623.3h0M302.4 635.5h0M303.3 643.1h0M296.2 644.0h0M299.1 649.8h0M299.1 615.5h0M303.0 644.2h0M298.8 649.3h0M296.8 604.4h0M300.8 622.2h0M303.2 596.2h0M303.0 634.7h0M297.1 623.9h0M296.4 614.9h0M298.3 649.9h0M300.4 635.9h0M297.5 644.4h0M296.8 648.1h0M301.2 609.2h0M303.5 638.8h0M296.9 601.3h0M298.1 641.4h0M303.0 588.4h0M317.5 636.7h0M320.5 636.9h0M320.6 633.0h0M314.8 634.4h0M317.2 629.5h0M315.5 627.5h0M320.2 636.6h0M319.5 623.6h0M320.1 635.3h0M314.6 624.4h0M320.5 622.9h0M316.3 623.2h0M320.4 623.4h0M319.2 630.7h0M317.3 636.7h0M314.5 627.8h0M317.4 631.5h0M318.7 622.9h0M319.9 631.7h0M319.6 634.5h0M320.3 629.8h0M315.3 630.2h0M317.9 630.7h0M320.5 626.7h0M320.6 624.4h0M315.7 632.6h0M320.6 630.9h0M319.1 633.1h0M319.3 635.6h0M314.4 624.9h0M319.3 634.2h0M314.3 629.2h0M320.6 630.1h0M314.6 633.3h0M314.6 625.2h0M319.5 626.5h0M318.5 626.6h0M317.5 632.5h0M314.7 633.0h0M320.6 635.7h0M315.7 627.1h0M318.2 628.1h0M317.1 636.3h0M319.6 631.0h0M316.6 627.0h0M315.9 632.0h0M316.6 634.1h0M316.8 634.2h0M316.3 622.9h0M318.1 631.5h0M316.1 625.5h0M317.3 625.9h0M315.9 631.2h0M314.8 629.0h0M318.4 628.9h0M315.7 625.0h0M316.9 627.1h0M318.0 627.3h0M315.9 628.0h0M320.5 633.9h0M317.6 634.1h0M317.3 635.8h0M318.7 623.0h0M318.5 635.5h0M315.7 624.3h0M316.9 625.5h0M317.0 632.5h0M314.3 627.0h0M319.3 632.6h0M317.3 626.1h0M314.2 632.5h0M315.3 623.8h0M316.8 630.6h0M317.8 643.3h0M318.4 594.7h0M320.6 636.9h0M318.3 630.4h0M316.9 636.5h0M320.3 629.3h0M318.0 617.9h0M319.6 633.8h0M318.7 627.8h0M315.7 625.8h0M317.5 594.5h0M315.1 626.7h0M319.1 609.4h0M317.8 643.7h0M320.7 626.8h0M316.6 617.8h0M319.5 637.6h0M314.9 634.0h0M315.9 634.9h0M317.8 639.6h0M315.1 610.6h0M315.5 643.7h0M319.5 634.6h0M317.0 630.9h0M317.8 626.3h0M319.7 632.3h0M314.4 641.1h0M316.3 631.2h0M319.1 638.0h0M317.4 632.1h0M318.8 606.2h0M317.5 615.8h0M316.1 615.1h0M315.8 639.9h0M318.2 644.1h0M319.3 584.5h0M318.7 633.0h0M319.3 633.1h0M314.6 637.6h0M320.3 620.0h0M316.8 623.5h0M320.2 636.2h0M317.3 636.6h0M314.8 623.1h0M316.9 642.8h0M317.5 643.7h0M316.4 633.8h0M315.1 634.2h0M317.9 606.0h0M320.4 634.1h0M318.0 643.5h0M315.8 627.5h0M314.7 637.9h0M319.7 608.0h0M318.9 641.9h0M316.6 617.9h0M320.7 606.0h0M317.2 567.7h0M317.3 644.0h0M319.0 639.5h0M319.6 617.5h0M320.2 638.1h0M316.5 628.3h0M318.2 617.8h0M319.2 639.0h0M316.6 617.8h0M318.3 581.8h0M315.2 636.3h0M317.0 635.1h0M318.6 636.6h0M319.2 597.3h0M318.8 631.7h0M314.6 635.2h0M317.4 634.3h0M316.9 574.9h0M314.4 644.3h0M316.6 593.8h0M320.3 639.7h0M318.3 610.1h0M320.7 599.6h0M317.8 634.1h0M314.5 630.9h0M315.5 618.5h0M318.9 584.3h0M319.4 615.1h0M315.9 622.8h0M316.5 629.4h0M318.4 611.7h0M316.1 621.2h0M319.7 609.6h0M314.8 624.3h0M315.1 637.2h0M318.6 640.9h0M319.5 620.9h0M314.7 633.5h0M319.9 632.7h0M319.0 639.6h0M314.2 628.0h0M320.5 622.0h0M315.6 633.8h0M315.6 639.2h0M318.2 640.8h0M317.4 639.3h0M316.3 633.1h0M318.7 628.9h0M318.0 633.3h0M318.5 589.6h0M320.1 627.0h0M315.6 632.8h0M316.0 631.3h0M319.9 607.1h0M319.7 616.2h0M318.5 626.8h0M319.0 617.0h0M319.1 577.0h0M319.0 639.6h0M315.1 643.1h0M319.4 635.5h0M319.8 619.5h0M317.3 623.0h0M320.5 643.7h0M319.6 626.0h0M317.0 627.0h0M317.5 610.7h0M318.0 620.6h0M315.4 625.2h0M314.5 631.6h0M319.2 637.7h0M315.7 637.2h0M319.1 591.3h0M318.1 639.9h0M314.2 639.0h0M319.8 623.7h0M316.8 643.4h0M316.9 640.5h0M317.7 640.1h0M314.7 593.7h0M317.0 641.4h0M318.4 638.2h0M318.9 638.4h0M316.3 623.6h0M319.1 624.2h0M317.0 622.4h0M318.6 620.2h0M314.7 642.8h0M320.6 633.7h0M319.7 628.5h0M316.7 592.5h0M314.4 612.6h0M320.6 632.1h0M320.0 641.9h0M318.2 612.9h0M314.7 624.5h0M317.9 640.5h0M315.1 641.4h0M316.6 632.5h0M318.0 643.8h0M319.6 616.4h0M317.7 599.6h0M318.8 620.7h0M319.0 637.9h0M314.1 632.5h0M320.4 634.9h0M314.4 634.6h0M316.1 615.7h0M319.0 639.4h0M317.8 612.8h0M316.4 584.1h0M314.5 642.3h0M318.2 643.8h0M330.5 635.0h0M334.8 635.4h0M330.7 646.4h0M332.9 641.0h0M330.1 634.2h0M330.3 640.7h0M329.8 643.5h0M334.4 642.1h0M332.1 647.7h0M331.6 641.4h0M334.9 640.5h0M332.1 645.3h0M329.7 642.6h0M333.6 635.4h0M333.6 646.4h0M329.7 635.7h0M331.9 636.6h0M331.2 637.0h0M334.0 638.1h0M329.5 641.0h0M333.8 638.4h0M330.2 647.7h0M330.7 638.8h0M330.3 638.2h0M330.7 634.1h0M330.3 637.1h0M334.5 637.7h0M332.5 633.9h0M334.1 645.8h0M331.3 642.2h0M331.3 643.1h0M332.0 641.6h0M330.8 646.4h0M335.1 644.9h0M331.1 635.0h0M333.4 634.5h0M333.6 638.4h0M330.8 641.9h0M330.7 638.3h0M334.3 636.7h0M334.5 642.6h0M334.9 647.0h0M330.8 639.5h0M331.8 647.8h0M329.8 640.2h0M333.9 638.7h0M334.7 645.4h0M331.7 638.7h0M334.6 646.9h0M334.1 641.1h0M330.0 637.1h0M334.6 646.2h0M332.3 633.6h0M334.5 646.6h0M332.3 638.9h0M333.5 637.6h0M333.0 637.6h0M330.9 647.8h0M330.8 648.0h0M331.1 638.7h0M330.3 637.7h0M334.0 645.3h0M334.3 642.3h0M334.5 638.1h0M333.2 646.2h0M330.1 641.9h0M333.2 638.5h0M334.6 644.7h0M334.4 640.7h0M329.9 621.7h0M335.4 624.2h0M330.4 633.2h0M329.7 644.7h0M330.9 611.8h0M331.7 583.0h0M333.5 637.2h0M334.4 620.3h0M331.2 635.6h0M334.1 567.1h0M333.1 621.2h0M331.4 654.5h0M332.0 648.5h0M330.9 629.0h0M330.4 652.1h0M330.3 645.8h0M329.8 653.8h0M334.4 651.4h0M332.3 652.6h0M333.0 642.7h0M334.1 654.3h0M331.5 593.5h0M331.7 644.0h0M333.4 652.6h0M329.8 625.5h0M330.5 648.1h0M332.1 597.4h0M331.5 615.3h0M333.0 598.1h0M333.4 648.0h0M331.7 612.9h0M333.2 601.6h0M334.2 609.6h0M333.8 636.0h0M333.0 642.2h0M330.6 638.0h0M332.8 645.1h0M334.6 646.7h0M335.5 654.5h0M334.2 641.7h0M331.0 652.6h0M333.5 642.3h0M335.2 619.8h0M332.4 652.5h0M334.8 615.0h0M333.2 627.9h0M329.9 603.5h0M329.5 625.8h0M333.4 647.2h0M329.9 654.9h0M334.0 648.7h0M334.4 624.6h0M334.2 645.8h0M330.2 650.7h0M331.6 651.1h0M332.5 646.1h0M332.0 642.0h0M330.2 651.1h0M331.1 654.8h0M334.0 588.8h0M330.5 643.0h0M332.6 633.5h0M329.7 605.6h0M333.8 612.4h0M333.6 644.4h0M335.0 564.5h0M335.4 624.5h0M329.9 611.4h0M332.4 654.8h0M331.0 609.5h0M333.9 641.1h0M332.0 627.3h0M333.5 629.0h0M330.6 623.5h0M332.2 634.5h0M331.2 653.6h0M335.3 628.6h0M331.3 634.5h0M331.8 608.7h0M330.8 597.6h0M333.6 620.8h0M330.1 645.0h0M333.8 648.4h0M335.3 649.2h0M333.9 650.3h0M334.5 654.1h0M332.6 596.4h0M335.1 628.0h0M332.5 612.9h0M332.5 586.0h0M334.5 619.9h0M329.9 587.0h0M334.8 615.5h0M331.2 647.2h0M330.3 641.0h0M333.5 640.7h0M334.6 654.0h0M331.1 648.1h0M334.2 585.0h0M333.8 650.0h0M329.9 648.4h0M334.2 649.6h0M331.6 654.2h0M331.7 631.7h0M331.1 637.3h0M330.9 607.6h0M329.6 643.7h0M333.4 652.7h0M331.1 637.9h0M335.5 628.0h0M330.2 653.7h0M333.0 645.8h0M335.4 641.0h0M332.0 651.4h0M330.2 635.8h0M329.9 649.4h0M335.0 639.4h0M329.7 644.6h0M331.5 645.7h0M333.1 613.3h0M330.9 646.7h0M334.9 648.1h0M332.7 650.2h0M333.2 628.6h0M334.1 640.1h0M334.0 653.2h0M335.0 638.2h0M331.1 654.0h0M329.9 621.1h0M333.2 652.6h0M329.9 647.9h0M330.1 613.9h0M330.4 621.3h0M330.7 643.1h0M334.1 646.3h0M334.8 637.0h0M334.1 654.2h0M331.7 631.2h0M329.8 640.0h0M331.3 623.4h0M335.1 646.5h0M332.8 612.5h0M333.9 645.4h0M334.9 599.2h0M331.8 646.9h0M335.4 651.9h0M330.4 644.6h0M331.0 649.5h0M332.8 604.5h0M333.0 654.5h0M335.3 591.0h0M330.2 631.6h0M333.7 653.0h0M334.5 643.4h0M333.8 640.8h0M331.3 621.5h0M332.1 636.5h0M343.5 632.4h0M344.0 631.2h0M344.1 640.8h0M344.0 634.8h0M344.9 638.5h0M343.3 644.6h0M344.6 640.4h0M344.0 633.7h0M344.2 639.3h0M344.5 640.9h0M343.9 631.6h0M344.5 644.6h0M343.7 642.8h0M342.7 633.0h0M343.0 637.0h0M342.4 636.5h0M344.8 641.9h0M344.9 637.7h0M344.1 633.9h0M344.1 634.3h0M343.4 633.2h0M343.1 639.1h0M343.4 640.8h0M344.6 642.1h0M342.4 644.7h0M344.3 639.2h0M342.7 635.7h0M344.8 640.6h0M344.1 639.1h0M343.5 633.9h0M344.6 643.9h0M343.5 638.8h0M343.3 639.0h0M343.3 644.6h0M343.5 644.0h0M344.5 635.1h0M342.4 639.4h0M343.8 640.1h0M343.4 639.1h0M344.6 615.6h0M344.6 626.8h0M344.7 646.9h0M343.6 617.9h0M344.5 623.7h0M344.0 643.4h0M342.8 594.9h0M343.3 624.1h0M343.8 642.7h0M344.1 650.7h0M343.8 596.4h0M343.0 644.5h0M344.8 651.5h0M342.4 629.6h0M343.2 601.3h0M344.2 649.3h0M343.3 586.5h0M344.0 648.0h0M343.5 644.1h0M342.6 649.7h0M342.7 626.7h0M342.8 650.2h0M344.4 624.7h0M342.9 641.8h0M344.8 599.5h0M343.7 633.2h0M342.6 646.3h0M344.4 605.6h0M343.5 637.4h0M343.0 646.5h0M342.6 637.5h0M343.3 635.7h0M344.6 650.9h0M342.9 644.0h0M344.8 631.5h0M342.4 648.5h0M342.7 638.5h0M344.5 650.8h0M342.7 646.4h0M343.0 632.0h0M343.4 637.7h0M343.7 647.5h0M344.1 639.2h0M343.9 641.1h0M343.2 628.8h0M342.4 625.8h0M344.0 648.4h0M344.9 647.5h0M344.6 650.1h0M343.3 650.0h0M343.6 651.2h0M344.0 638.3h0M342.4 642.1h0M343.2 646.9h0M344.5 625.0h0M344.7 638.3h0M343.1 650.9h0M343.4 650.9h0M343.3 604.4h0M344.4 635.7h0M342.8 645.4h0M344.2 650.8h0M342.9 639.8h0M343.8 621.4h0M342.8 644.5h0M344.4 648.6h0M342.8 619.8h0M343.4 640.8h0M345.0 630.8h0M343.3 619.4h0M342.4 639.9h0M342.5 627.2h0M344.3 642.3h0M344.9 628.7h0M344.8 616.5h0M344.7 624.3h0M344.4 638.6h0M343.6 644.8h0M344.1 634.3h0M344.5 645.4h0M343.9 598.8h0M342.4 641.3h0M344.1 633.0h0M342.5 639.6h0M344.2 624.2h0M344.0 639.5h0M344.4 646.4h0M344.2 637.2h0M344.7 613.7h0M343.1 651.2h0M342.3 642.9h0" stroke="#c3052b" stroke-width="1.9" stroke-linecap="round" fill="none"/>
<path d="M42.0 647.4h0M38.4 663.4h0M38.3 663.1h0M39.4 667.8h0M34.6 642.8h0M37.0 635.7h0M37.3 634.8h0M35.5 635.1h0M42.3 635.1h0M40.9 635.0h0M34.6 671.6h0M35.7 646.3h0M37.3 634.9h0M42.5 662.9h0M41.7 634.8h0M37.8 634.8h0M42.5 672.7h0M51.6 621.5h0M56.2 622.0h0M48.9 637.2h0M49.8 648.8h0M53.1 623.6h0M49.8 621.5h0M55.8 639.5h0M58.7 643.8h0M51.8 655.4h0M55.5 633.3h0M56.5 621.8h0M54.8 658.3h0M51.6 643.1h0M52.1 649.9h0M54.5 622.3h0M53.5 630.7h0M56.5 648.4h0M57.8 626.9h0M52.7 623.6h0M74.2 654.7h0M74.4 649.6h0M64.7 647.7h0M84.7 652.3h0M73.8 647.8h0M62.1 647.8h0M79.9 671.0h0M76.8 659.5h0M69.4 647.7h0M72.5 671.5h0M84.4 655.3h0M65.1 655.3h0M78.9 665.8h0M61.6 647.9h0M71.2 648.2h0M70.0 647.9h0M65.9 649.3h0M76.5 664.3h0M76.0 668.8h0M62.3 647.8h0M74.3 648.0h0M80.9 663.0h0M79.5 666.5h0M69.5 650.1h0M60.8 647.7h0M75.8 658.1h0M63.6 647.9h0M72.0 647.7h0M81.8 647.9h0M72.7 647.7h0M77.1 649.4h0M75.2 647.8h0M70.5 647.9h0M81.0 647.8h0M61.0 650.1h0M81.6 649.6h0M81.5 647.7h0M79.1 653.8h0M61.4 656.3h0M81.3 648.8h0M79.4 654.8h0M70.0 652.3h0M99.1 650.0h0M103.5 653.2h0M90.9 658.2h0M101.9 650.0h0M103.0 650.1h0M103.4 652.8h0M94.1 650.0h0M89.3 665.1h0M95.5 652.1h0M90.8 668.1h0M90.2 655.0h0M94.2 651.4h0M101.8 650.0h0M101.5 651.2h0M89.4 664.3h0M106.2 667.4h0M87.7 651.4h0M89.1 650.2h0M92.5 650.0h0M88.9 652.9h0M96.3 668.4h0M87.4 650.1h0M103.1 653.5h0M99.4 663.2h0M87.4 652.7h0M106.8 650.8h0M103.6 650.0h0M100.5 654.8h0M95.0 651.7h0M101.5 659.4h0M87.0 652.2h0M92.1 651.2h0M97.3 650.0h0M106.8 650.8h0M127.0 646.9h0M126.3 647.1h0M118.2 647.2h0M120.6 647.0h0M109.1 647.3h0M116.7 647.0h0M110.3 646.9h0M120.0 647.7h0M120.3 647.1h0M122.2 653.3h0M126.5 671.5h0M118.8 647.5h0M123.4 667.2h0M124.8 656.8h0M115.3 649.2h0M122.3 648.4h0M110.4 648.3h0M111.0 663.0h0M123.4 667.8h0M126.9 648.8h0M114.2 647.0h0M111.7 646.9h0M109.8 648.3h0M116.9 654.7h0M116.4 648.0h0M124.0 647.3h0M121.8 647.0h0M122.2 646.9h0M111.5 647.6h0M110.0 658.1h0M115.1 657.9h0M110.0 647.0h0M142.7 667.4h0M145.6 658.7h0M129.5 658.9h0M137.4 660.0h0M132.1 649.9h0M142.4 655.3h0M144.9 670.1h0M130.0 649.2h0M136.4 662.1h0M138.3 649.3h0M135.6 649.2h0M135.8 654.9h0M143.7 649.8h0M144.0 670.9h0M137.1 649.8h0M139.5 666.0h0M134.4 649.2h0M136.7 650.7h0M141.8 660.2h0M139.0 657.1h0M129.7 654.5h0M129.3 649.8h0M130.0 660.4h0M131.3 649.3h0M146.1 649.5h0M141.1 656.8h0M131.5 660.3h0M142.6 649.3h0M140.7 658.5h0M131.2 649.9h0M140.4 652.8h0M146.3 649.2h0M159.2 645.5h0M159.4 634.0h0M165.3 659.2h0M156.6 643.0h0M162.4 649.0h0M157.6 634.0h0M156.8 638.3h0M151.9 635.0h0M154.1 650.0h0M149.1 634.0h0M149.0 645.5h0M159.8 647.7h0M163.6 646.8h0M157.2 640.0h0M154.3 635.4h0M164.5 634.6h0M164.7 634.2h0M149.1 636.4h0M161.1 646.1h0M150.2 671.7h0M165.5 642.0h0M165.6 649.2h0M152.6 634.1h0M150.9 644.1h0M165.2 634.0h0M161.3 648.5h0M157.3 635.5h0M156.6 634.4h0M166.0 634.1h0M155.6 647.4h0M182.9 648.4h0M180.7 661.8h0M175.2 663.8h0M169.6 641.3h0M174.0 645.9h0M176.5 638.5h0M172.6 662.7h0M177.7 638.4h0M177.7 656.4h0M179.3 643.5h0M176.5 638.6h0M181.7 646.5h0M181.3 664.5h0M180.5 654.1h0M183.2 638.0h0M178.2 672.0h0M174.7 638.3h0M169.3 637.8h0M172.6 659.3h0M182.3 640.2h0M177.3 637.8h0M179.1 638.7h0M183.3 640.0h0M168.1 652.3h0M170.7 647.7h0M174.5 648.6h0M175.1 638.0h0M199.8 635.1h0M199.2 634.9h0M198.5 636.0h0M195.8 641.1h0M186.0 635.5h0M185.9 668.0h0M199.5 636.1h0M198.5 634.8h0M194.5 635.0h0M195.5 641.1h0M186.4 662.7h0M199.2 639.5h0M186.1 634.8h0M195.9 655.3h0M196.4 635.7h0M199.9 634.8h0M189.3 643.1h0M186.8 635.0h0M194.0 647.7h0M191.8 640.6h0M190.5 634.8h0M185.4 637.2h0M188.1 635.1h0M194.5 644.9h0M187.4 634.8h0M190.0 634.8h0M192.7 643.8h0M202.4 648.9h0M202.7 639.2h0M202.8 667.1h0M202.4 642.6h0M214.3 664.8h0M208.8 635.6h0M208.9 637.0h0M208.0 634.8h0M210.4 670.2h0M207.9 634.8h0M208.8 634.8h0M210.5 644.7h0M212.6 668.5h0M213.8 671.5h0M209.0 640.0h0M213.7 654.6h0M213.2 635.4h0M209.6 635.2h0M209.6 637.4h0M221.5 635.6h0M220.6 630.5h0M227.7 660.2h0M223.4 639.3h0M226.0 636.1h0M222.4 639.5h0M216.6 634.7h0M229.6 655.1h0M223.2 631.1h0M229.2 633.7h0M229.5 630.5h0M223.6 631.5h0M219.8 657.9h0M219.6 642.8h0M220.1 660.2h0M222.0 638.0h0M221.8 635.5h0M218.0 637.1h0M219.0 630.3h0M220.6 630.6h0M221.3 630.3h0M224.3 635.1h0M224.5 664.7h0M239.7 636.7h0M233.0 647.1h0M232.6 636.7h0M239.6 636.7h0M232.6 667.1h0M239.7 636.7h0M233.4 639.1h0M241.0 636.8h0M231.9 646.7h0M232.7 645.9h0M232.5 639.7h0M241.6 636.9h0M237.4 639.8h0M235.6 636.8h0M236.7 641.5h0M238.5 637.2h0M237.2 636.7h0M240.6 649.2h0M240.4 640.5h0M235.8 637.5h0M232.8 638.7h0M242.7 636.7h0M257.9 633.2h0M257.5 632.9h0M250.1 635.2h0M246.9 635.3h0M254.2 639.2h0M254.1 650.5h0M258.1 642.8h0M256.8 633.2h0M256.1 639.9h0M256.6 662.4h0M254.7 663.4h0M251.6 637.8h0M246.5 640.8h0M247.9 633.5h0M254.3 632.9h0M246.9 632.9h0M248.7 633.1h0M252.3 636.7h0M250.6 632.9h0M255.5 633.4h0M253.0 633.4h0M251.5 644.9h0M257.0 642.5h0M268.0 653.8h0M270.7 654.5h0M267.4 656.6h0M267.9 654.1h0M270.3 663.6h0M264.6 671.5h0M264.4 653.8h0M266.6 654.4h0M263.6 654.1h0M266.4 654.3h0M262.9 654.2h0M270.9 665.8h0M264.5 653.8h0M267.7 655.2h0M269.8 664.1h0M262.8 653.8h0M270.8 657.6h0M267.7 654.3h0M282.0 650.7h0M276.8 648.5h0M279.6 649.9h0M274.2 648.8h0M282.5 641.8h0M279.9 648.0h0M282.1 642.9h0M275.1 652.3h0M274.7 655.7h0M280.9 655.6h0M283.7 645.7h0M276.0 641.7h0M275.8 650.5h0M275.7 670.9h0M275.6 647.8h0M278.8 659.9h0M274.5 643.6h0M279.9 641.6h0M291.7 668.5h0M288.0 647.6h0M286.3 623.8h0M293.1 623.4h0M290.1 654.3h0M290.7 632.7h0M288.1 623.8h0M290.3 640.0h0M287.2 624.8h0M287.4 623.7h0M286.3 671.9h0M286.5 657.7h0M292.3 628.5h0M299.2 637.6h0M302.6 636.0h0M295.4 635.7h0M296.3 636.5h0M303.6 634.8h0M302.4 634.8h0M300.8 634.8h0M296.6 650.8h0M301.5 650.7h0M303.0 637.9h0M300.5 640.8h0M296.2 634.8h0M298.5 635.7h0M295.8 634.9h0M299.2 634.8h0M302.3 655.1h0M312.3 651.5h0M311.9 625.8h0M309.0 650.0h0M307.8 672.1h0M306.5 646.0h0M310.6 638.4h0M312.2 652.8h0M312.0 625.3h0M306.9 650.7h0M307.1 628.2h0M309.5 672.4h0M310.6 641.4h0M307.7 625.9h0M318.0 667.5h0M318.4 627.2h0M317.1 630.2h0M319.7 647.1h0M320.3 627.2h0M320.6 629.8h0M319.0 639.7h0M314.4 661.3h0M315.6 629.6h0M319.0 642.0h0M316.2 636.1h0M315.9 627.3h0M318.6 627.2h0M324.2 664.6h0M324.8 664.1h0M326.5 633.8h0M325.8 624.0h0M322.8 624.1h0M327.8 633.7h0M323.8 669.4h0M323.2 637.8h0M324.9 626.3h0M325.7 666.3h0M323.4 629.0h0M332.6 640.5h0M334.8 637.9h0M332.1 637.8h0M331.9 637.9h0M329.6 640.7h0M334.4 649.5h0M332.1 637.9h0M332.0 637.8h0M331.4 644.5h0M329.8 646.0h0M334.8 642.7h0M332.1 638.3h0M338.2 632.9h0M337.6 643.0h0M340.3 633.6h0M339.6 652.0h0M338.4 633.8h0M340.0 634.0h0M338.6 633.1h0M338.9 632.9h0M343.5 652.0h0M343.4 643.4h0M344.2 644.3h0M344.8 644.0h0M344.1 636.5h0M344.5 643.2h0" stroke="#fff" stroke-width="1.0" stroke-linecap="round" fill="none"/>
<circle cx="279.8" cy="533.7" r="0.75" fill="#c3052b"/>
<circle cx="143.7" cy="532.5" r="0.75" fill="#174d8c"/>
<circle cx="143.7" cy="536.7" r="0.75" fill="#174d8c"/>
<circle cx="152" cy="537.5" r="0.75" fill="#c3052b"/>
<circle cx="130" cy="535" r="0.75" fill="#174d8c"/>
<circle cx="214.2" cy="542.5" r="0.75" fill="#174d8c"/>
<circle cx="214.2" cy="547" r="0.75" fill="#174d8c"/>
<circle cx="216" cy="551" r="0.75" fill="#c3052b"/>
<circle cx="34.2" cy="501.0" r="0.8" fill="#222"/>
<circle cx="54.8" cy="502.0" r="0.8" fill="#222"/>
<circle cx="52.0" cy="518.5" r="0.8" fill="#222"/>
<circle cx="49.6" cy="526.0" r="0.8" fill="#222"/>
<circle cx="147.5" cy="528.8" r="0.8" fill="#222"/>
<circle cx="208.8" cy="515.5" r="0.8" fill="#222"/>
<circle cx="288.5" cy="506.7" r="0.8" fill="#222"/>
<circle cx="293.6" cy="529.8" r="0.8" fill="#222"/>
<circle cx="318.7" cy="530.0" r="0.8" fill="#c3052b"/>
<circle cx="325.4" cy="530.0" r="0.8" fill="#222"/>
<line x1="33.7" y1="530.4" x2="346.3" y2="530.4" stroke="#333" stroke-width="0.8" stroke-dasharray="3,2"/>
<text x="34.3" y="500.9" font-size="5.7" fill="#2a2a2a" stroke="#2a2a2a" stroke-width="0.15" font-style="italic" textLength="21.8" lengthAdjust="spacingAndGlyphs">CAMTA1</text>
<text x="55.6" y="504.7" font-size="5.7" fill="#2a2a2a" stroke="#2a2a2a" stroke-width="0.15" font-style="italic" textLength="18.2" lengthAdjust="spacingAndGlyphs">NR5A2</text>
<text x="55.0" y="518.7" font-size="5.7" fill="#2a2a2a" stroke="#2a2a2a" stroke-width="0.15" font-style="italic" textLength="24.0" lengthAdjust="spacingAndGlyphs">ANGPTL4</text>
<text x="52.5" y="526.6" font-size="5.7" fill="#2a2a2a" stroke="#2a2a2a" stroke-width="0.15" font-style="italic" textLength="16.4" lengthAdjust="spacingAndGlyphs">RUSC1</text>
<text x="148.9" y="526.3" font-size="5.7" fill="#2a2a2a" stroke="#2a2a2a" stroke-width="0.15" font-style="italic" textLength="28.0" lengthAdjust="spacingAndGlyphs">SH3PXD2B</text>
<text x="211.0" y="516.3" font-size="5.7" fill="#2a2a2a" stroke="#2a2a2a" stroke-width="0.15" font-style="italic" textLength="26.5" lengthAdjust="spacingAndGlyphs">CARNMT1</text>
<text x="290.0" y="506.9" font-size="5.7" fill="#2a2a2a" stroke="#2a2a2a" stroke-width="0.15" font-style="italic" textLength="22.0" lengthAdjust="spacingAndGlyphs">TP53BP1</text>
<text x="285.2" y="528.1" font-size="5.7" fill="#2a2a2a" stroke="#2a2a2a" stroke-width="0.15" font-style="italic" textLength="11.3" lengthAdjust="spacingAndGlyphs">BLM</text>
<text x="303.5" y="529.6" font-size="5.7" fill="#2a2a2a" stroke="#2a2a2a" stroke-width="0.15" font-style="italic" textLength="14.2" lengthAdjust="spacingAndGlyphs">NARS</text>
<text x="325.2" y="526.7" font-size="5.7" fill="#2a2a2a" stroke="#2a2a2a" stroke-width="0.15" font-style="italic" textLength="21.5" lengthAdjust="spacingAndGlyphs">SUPT5H</text>
<rect x="33.7" y="464.3" width="312.6" height="208.40000000000003" fill="none" stroke="#222" stroke-width="1"/>
<line x1="30.3" y1="672.70" x2="33.7" y2="672.70" stroke="#222" stroke-width="0.9"/>
<text x="26.6" y="675.00" font-size="6.6" fill="#2c2c2c" stroke="#2c2c2c" stroke-width="0.18" text-anchor="end">0</text>
<line x1="30.3" y1="634.80" x2="33.7" y2="634.80" stroke="#222" stroke-width="0.9"/>
<text x="26.6" y="637.10" font-size="6.6" fill="#2c2c2c" stroke="#2c2c2c" stroke-width="0.18" text-anchor="end">1</text>
<line x1="30.3" y1="596.90" x2="33.7" y2="596.90" stroke="#222" stroke-width="0.9"/>
<text x="26.6" y="599.20" font-size="6.6" fill="#2c2c2c" stroke="#2c2c2c" stroke-width="0.18" text-anchor="end">2</text>
<line x1="30.3" y1="559.00" x2="33.7" y2="559.00" stroke="#222" stroke-width="0.9"/>
<text x="26.6" y="561.30" font-size="6.6" fill="#2c2c2c" stroke="#2c2c2c" stroke-width="0.18" text-anchor="end">3</text>
<line x1="30.3" y1="521.10" x2="33.7" y2="521.10" stroke="#222" stroke-width="0.9"/>
<text x="26.6" y="523.40" font-size="6.6" fill="#2c2c2c" stroke="#2c2c2c" stroke-width="0.18" text-anchor="end">4</text>
<line x1="30.3" y1="483.20" x2="33.7" y2="483.20" stroke="#222" stroke-width="0.9"/>
<text x="26.6" y="485.50" font-size="6.6" fill="#2c2c2c" stroke="#2c2c2c" stroke-width="0.18" text-anchor="end">5</text>
<text x="16.4" y="568.5" font-size="7.9" fill="#2c2c2c" stroke="#2c2c2c" stroke-width="0.2" text-anchor="middle" transform="rotate(-90 16.4 568.5)">-log<tspan font-size="5.6" dy="1.6">10</tspan><tspan dy="-1.6">(P)</tspan></text>
<line x1="46.2" y1="672.7" x2="46.2" y2="675.0" stroke="#222" stroke-width="0.7"/>
<text x="48.20" y="677.4" font-size="6.3" fill="#2c2c2c" stroke="#2c2c2c" stroke-width="0.17" text-anchor="end" transform="rotate(-90 48.20 677.4)">1</text>
<line x1="72.0" y1="672.7" x2="72.0" y2="675.0" stroke="#222" stroke-width="0.7"/>
<text x="74.00" y="677.4" font-size="6.3" fill="#2c2c2c" stroke="#2c2c2c" stroke-width="0.17" text-anchor="end" transform="rotate(-90 74.00 677.4)">2</text>
<line x1="96.9" y1="672.7" x2="96.9" y2="675.0" stroke="#222" stroke-width="0.7"/>
<text x="98.90" y="677.4" font-size="6.3" fill="#2c2c2c" stroke="#2c2c2c" stroke-width="0.17" text-anchor="end" transform="rotate(-90 98.90 677.4)">3</text>
<line x1="117.3" y1="672.7" x2="117.3" y2="675.0" stroke="#222" stroke-width="0.7"/>
<text x="119.30" y="677.4" font-size="6.3" fill="#2c2c2c" stroke="#2c2c2c" stroke-width="0.17" text-anchor="end" transform="rotate(-90 119.30 677.4)">4</text>
<line x1="138.0" y1="672.7" x2="138.0" y2="675.0" stroke="#222" stroke-width="0.7"/>
<text x="140.00" y="677.4" font-size="6.3" fill="#2c2c2c" stroke="#2c2c2c" stroke-width="0.17" text-anchor="end" transform="rotate(-90 140.00 677.4)">5</text>
<line x1="156.8" y1="672.7" x2="156.8" y2="675.0" stroke="#222" stroke-width="0.7"/>
<text x="158.80" y="677.4" font-size="6.3" fill="#2c2c2c" stroke="#2c2c2c" stroke-width="0.17" text-anchor="end" transform="rotate(-90 158.80 677.4)">6</text>
<line x1="174.0" y1="672.7" x2="174.0" y2="675.0" stroke="#222" stroke-width="0.7"/>
<text x="176.00" y="677.4" font-size="6.3" fill="#2c2c2c" stroke="#2c2c2c" stroke-width="0.17" text-anchor="end" transform="rotate(-90 176.00 677.4)">7</text>
<line x1="192.5" y1="672.7" x2="192.5" y2="675.0" stroke="#222" stroke-width="0.7"/>
<text x="194.50" y="677.4" font-size="6.3" fill="#2c2c2c" stroke="#2c2c2c" stroke-width="0.17" text-anchor="end" transform="rotate(-90 194.50 677.4)">8</text>
<line x1="206.9" y1="672.7" x2="206.9" y2="675.0" stroke="#222" stroke-width="0.7"/>
<text x="208.90" y="677.4" font-size="6.3" fill="#2c2c2c" stroke="#2c2c2c" stroke-width="0.17" text-anchor="end" transform="rotate(-90 208.90 677.4)">9</text>
<line x1="222.7" y1="672.7" x2="222.7" y2="675.0" stroke="#222" stroke-width="0.7"/>
<text x="224.70" y="677.4" font-size="6.3" fill="#2c2c2c" stroke="#2c2c2c" stroke-width="0.17" text-anchor="end" transform="rotate(-90 224.70 677.4)">10</text>
<line x1="237.7" y1="672.7" x2="237.7" y2="675.0" stroke="#222" stroke-width="0.7"/>
<text x="239.70" y="677.4" font-size="6.3" fill="#2c2c2c" stroke="#2c2c2c" stroke-width="0.17" text-anchor="end" transform="rotate(-90 239.70 677.4)">11</text>
<line x1="253.6" y1="672.7" x2="253.6" y2="675.0" stroke="#222" stroke-width="0.7"/>
<text x="255.60" y="677.4" font-size="6.3" fill="#2c2c2c" stroke="#2c2c2c" stroke-width="0.17" text-anchor="end" transform="rotate(-90 255.60 677.4)">12</text>
<line x1="268.0" y1="672.7" x2="268.0" y2="675.0" stroke="#222" stroke-width="0.7"/>
<text x="270.00" y="677.4" font-size="6.3" fill="#2c2c2c" stroke="#2c2c2c" stroke-width="0.17" text-anchor="end" transform="rotate(-90 270.00 677.4)">13</text>
<line x1="278.7" y1="672.7" x2="278.7" y2="675.0" stroke="#222" stroke-width="0.7"/>
<text x="280.70" y="677.4" font-size="6.3" fill="#2c2c2c" stroke="#2c2c2c" stroke-width="0.17" text-anchor="end" transform="rotate(-90 280.70 677.4)">14</text>
<line x1="288.5" y1="672.7" x2="288.5" y2="675.0" stroke="#222" stroke-width="0.7"/>
<text x="290.50" y="677.4" font-size="6.3" fill="#2c2c2c" stroke="#2c2c2c" stroke-width="0.17" text-anchor="end" transform="rotate(-90 290.50 677.4)">15</text>
<line x1="298.4" y1="672.7" x2="298.4" y2="675.0" stroke="#222" stroke-width="0.7"/>
<text x="300.40" y="677.4" font-size="6.3" fill="#2c2c2c" stroke="#2c2c2c" stroke-width="0.17" text-anchor="end" transform="rotate(-90 300.40 677.4)">16</text>
<line x1="307.6" y1="672.7" x2="307.6" y2="675.0" stroke="#222" stroke-width="0.7"/>
<text x="309.60" y="677.4" font-size="6.3" fill="#2c2c2c" stroke="#2c2c2c" stroke-width="0.17" text-anchor="end" transform="rotate(-90 309.60 677.4)">17</text>
<line x1="317.0" y1="672.7" x2="317.0" y2="675.0" stroke="#222" stroke-width="0.7"/>
<text x="319.00" y="677.4" font-size="6.3" fill="#2c2c2c" stroke="#2c2c2c" stroke-width="0.17" text-anchor="end" transform="rotate(-90 319.00 677.4)">18</text>
<line x1="325.8" y1="672.7" x2="325.8" y2="675.0" stroke="#222" stroke-width="0.7"/>
<text x="327.80" y="677.4" font-size="6.3" fill="#2c2c2c" stroke="#2c2c2c" stroke-width="0.17" text-anchor="end" transform="rotate(-90 327.80 677.4)">19</text>
<line x1="332.5" y1="672.7" x2="332.5" y2="675.0" stroke="#222" stroke-width="0.7"/>
<text x="334.50" y="677.4" font-size="6.3" fill="#2c2c2c" stroke="#2c2c2c" stroke-width="0.17" text-anchor="end" transform="rotate(-90 334.50 677.4)">20</text>
<line x1="338.4" y1="672.7" x2="338.4" y2="675.0" stroke="#222" stroke-width="0.7"/>
<text x="340.40" y="677.4" font-size="6.3" fill="#2c2c2c" stroke="#2c2c2c" stroke-width="0.17" text-anchor="end" transform="rotate(-90 340.40 677.4)">21</text>
<line x1="344.0" y1="672.7" x2="344.0" y2="675.0" stroke="#222" stroke-width="0.7"/>
<text x="346.00" y="677.4" font-size="6.3" fill="#2c2c2c" stroke="#2c2c2c" stroke-width="0.17" text-anchor="end" transform="rotate(-90 346.00 677.4)">22</text>
<text x="189.6" y="694.6" font-size="8.8" fill="#2c2c2c" stroke="#2c2c2c" stroke-width="0.2" text-anchor="middle" textLength="42.3" lengthAdjust="spacingAndGlyphs">Chromosome</text>
<g filter="url(#bl)">
<circle cx="415.77" cy="81.25" r="3.35" fill="#1785b4"/>
<circle cx="421.26" cy="80.48" r="3.35" fill="#1785b4"/>
<circle cx="426.76" cy="79.71" r="3.35" fill="#1785b4"/>
<circle cx="413.69" cy="86.40" r="3.35" fill="#1785b4"/>
<circle cx="419.18" cy="85.63" r="3.35" fill="#1785b4"/>
<circle cx="424.68" cy="84.85" r="3.35" fill="#1785b4"/>
<circle cx="430.18" cy="84.08" r="3.35" fill="#1785b4"/>
<circle cx="411.61" cy="91.54" r="3.35" fill="#f6a39b"/>
<circle cx="417.10" cy="90.77" r="3.35" fill="#f6a39b"/>
<circle cx="422.60" cy="90.00" r="3.35" fill="#f6a39b"/>
<circle cx="428.10" cy="89.23" r="3.35" fill="#f6a39b"/>
<circle cx="433.59" cy="88.46" r="3.35" fill="#f6a39b"/>
<circle cx="415.02" cy="95.92" r="3.35" fill="#66c398"/>
<circle cx="420.52" cy="95.15" r="3.35" fill="#66c398"/>
<circle cx="426.02" cy="94.37" r="3.35" fill="#f6a39b"/>
<circle cx="431.51" cy="93.60" r="3.35" fill="#f6a39b"/>
<circle cx="418.44" cy="100.29" r="3.35" fill="#66c398"/>
<circle cx="423.94" cy="99.52" r="3.35" fill="#f6a39b"/>
<circle cx="429.43" cy="98.75" r="3.35" fill="#f6a39b"/>
<circle cx="415.77" cy="81.25" r="1.41" fill="#0b5d88" opacity="0.85"/>
<circle cx="421.26" cy="80.48" r="1.41" fill="#0b5d88" opacity="0.85"/>
<circle cx="426.76" cy="79.71" r="1.41" fill="#0b5d88" opacity="0.85"/>
<circle cx="413.69" cy="86.40" r="1.41" fill="#0b5d88" opacity="0.85"/>
<circle cx="419.18" cy="85.63" r="1.41" fill="#0b5d88" opacity="0.85"/>
<circle cx="424.68" cy="84.85" r="1.41" fill="#0b5d88" opacity="0.85"/>
<circle cx="430.18" cy="84.08" r="1.41" fill="#0b5d88" opacity="0.85"/>
<circle cx="411.61" cy="91.54" r="1.41" fill="#e27d75" opacity="0.85"/>
<circle cx="417.10" cy="90.77" r="1.41" fill="#e27d75" opacity="0.85"/>
<circle cx="422.60" cy="90.00" r="1.41" fill="#e27d75" opacity="0.85"/>
<circle cx="428.10" cy="89.23" r="1.41" fill="#e27d75" opacity="0.85"/>
<circle cx="433.59" cy="88.46" r="1.41" fill="#e27d75" opacity="0.85"/>
<circle cx="415.02" cy="95.92" r="1.41" fill="#2b9663" opacity="0.85"/>
<circle cx="420.52" cy="95.15" r="1.41" fill="#2b9663" opacity="0.85"/>
<circle cx="426.02" cy="94.37" r="1.41" fill="#e27d75" opacity="0.85"/>
<circle cx="431.51" cy="93.60" r="1.41" fill="#e27d75" opacity="0.85"/>
<circle cx="418.44" cy="100.29" r="1.41" fill="#2b9663" opacity="0.85"/>
<circle cx="423.94" cy="99.52" r="1.41" fill="#e27d75" opacity="0.85"/>
<circle cx="429.43" cy="98.75" r="1.41" fill="#e27d75" opacity="0.85"/>
</g>
<g filter="url(#bl)">
<circle cx="502.93" cy="40.88" r="3.35" fill="#1a9ccb"/>
<circle cx="508.29" cy="42.31" r="3.35" fill="#1a9ccb"/>
<circle cx="513.65" cy="43.75" r="3.35" fill="#1a9ccb"/>
<circle cx="499.00" cy="44.80" r="3.35" fill="#1a9ccb"/>
<circle cx="504.36" cy="46.24" r="3.35" fill="#1a9ccb"/>
<circle cx="509.72" cy="47.68" r="3.35" fill="#1a9ccb"/>
<circle cx="515.09" cy="49.11" r="3.35" fill="#1a9ccb"/>
<circle cx="495.08" cy="48.73" r="3.35" fill="#1a9ccb"/>
<circle cx="500.44" cy="50.16" r="3.35" fill="#1a9ccb"/>
<circle cx="505.80" cy="51.60" r="3.35" fill="#1a9ccb"/>
<circle cx="511.16" cy="53.04" r="3.35" fill="#1a9ccb"/>
<circle cx="516.52" cy="54.47" r="3.35" fill="#1a9ccb"/>
<circle cx="496.51" cy="54.09" r="3.35" fill="#1a9ccb"/>
<circle cx="501.88" cy="55.52" r="3.35" fill="#1a9ccb"/>
<circle cx="507.24" cy="56.96" r="3.35" fill="#1a9ccb"/>
<circle cx="512.60" cy="58.40" r="3.35" fill="#1a9ccb"/>
<circle cx="497.95" cy="59.45" r="3.35" fill="#1a9ccb"/>
<circle cx="503.31" cy="60.89" r="3.35" fill="#1a9ccb"/>
<circle cx="508.67" cy="62.32" r="3.35" fill="#1a9ccb"/>
<circle cx="502.93" cy="40.88" r="1.41" fill="#0b6e9f" opacity="0.85"/>
<circle cx="508.29" cy="42.31" r="1.41" fill="#0b6e9f" opacity="0.85"/>
<circle cx="513.65" cy="43.75" r="1.41" fill="#0b6e9f" opacity="0.85"/>
<circle cx="499.00" cy="44.80" r="1.41" fill="#0b6e9f" opacity="0.85"/>
<circle cx="504.36" cy="46.24" r="1.41" fill="#0b6e9f" opacity="0.85"/>
<circle cx="509.72" cy="47.68" r="1.41" fill="#0b6e9f" opacity="0.85"/>
<circle cx="515.09" cy="49.11" r="1.41" fill="#0b6e9f" opacity="0.85"/>
<circle cx="495.08" cy="48.73" r="1.41" fill="#0b6e9f" opacity="0.85"/>
<circle cx="500.44" cy="50.16" r="1.41" fill="#0b6e9f" opacity="0.85"/>
<circle cx="505.80" cy="51.60" r="1.41" fill="#0b6e9f" opacity="0.85"/>
<circle cx="511.16" cy="53.04" r="1.41" fill="#0b6e9f" opacity="0.85"/>
<circle cx="516.52" cy="54.47" r="1.41" fill="#0b6e9f" opacity="0.85"/>
<circle cx="496.51" cy="54.09" r="1.41" fill="#0b6e9f" opacity="0.85"/>
<circle cx="501.88" cy="55.52" r="1.41" fill="#0b6e9f" opacity="0.85"/>
<circle cx="507.24" cy="56.96" r="1.41" fill="#0b6e9f" opacity="0.85"/>
<circle cx="512.60" cy="58.40" r="1.41" fill="#0b6e9f" opacity="0.85"/>
<circle cx="497.95" cy="59.45" r="1.41" fill="#0b6e9f" opacity="0.85"/>
<circle cx="503.31" cy="60.89" r="1.41" fill="#0b6e9f" opacity="0.85"/>
<circle cx="508.67" cy="62.32" r="1.41" fill="#0b6e9f" opacity="0.85"/>
</g>
<g filter="url(#bl)">
<circle cx="501.11" cy="80.34" r="3.35" fill="#f6a39b"/>
<circle cx="506.64" cy="80.82" r="3.35" fill="#1a9ccb"/>
<circle cx="512.17" cy="81.31" r="3.35" fill="#f6a39b"/>
<circle cx="497.93" cy="84.89" r="3.35" fill="#f6a39b"/>
<circle cx="503.45" cy="85.37" r="3.35" fill="#f6a39b"/>
<circle cx="508.98" cy="85.85" r="3.35" fill="#f6a39b"/>
<circle cx="514.51" cy="86.34" r="3.35" fill="#f6a39b"/>
<circle cx="494.74" cy="89.43" r="3.35" fill="#f6a39b"/>
<circle cx="500.27" cy="89.92" r="3.35" fill="#f6a39b"/>
<circle cx="505.80" cy="90.40" r="3.35" fill="#f6a39b"/>
<circle cx="511.33" cy="90.88" r="3.35" fill="#f6a39b"/>
<circle cx="516.86" cy="91.37" r="3.35" fill="#f6a39b"/>
<circle cx="497.09" cy="94.46" r="3.35" fill="#f6a39b"/>
<circle cx="502.62" cy="94.95" r="3.35" fill="#f6a39b"/>
<circle cx="508.15" cy="95.43" r="3.35" fill="#f6a39b"/>
<circle cx="513.67" cy="95.91" r="3.35" fill="#f6a39b"/>
<circle cx="499.43" cy="99.49" r="3.35" fill="#66c398"/>
<circle cx="504.96" cy="99.98" r="3.35" fill="#f6a39b"/>
<circle cx="510.49" cy="100.46" r="3.35" fill="#f6a39b"/>
<circle cx="501.11" cy="80.34" r="1.41" fill="#e27d75" opacity="0.85"/>
<circle cx="506.64" cy="80.82" r="1.41" fill="#0b6e9f" opacity="0.85"/>
<circle cx="512.17" cy="81.31" r="1.41" fill="#e27d75" opacity="0.85"/>
<circle cx="497.93" cy="84.89" r="1.41" fill="#e27d75" opacity="0.85"/>
<circle cx="503.45" cy="85.37" r="1.41" fill="#e27d75" opacity="0.85"/>
<circle cx="508.98" cy="85.85" r="1.41" fill="#e27d75" opacity="0.85"/>
<circle cx="514.51" cy="86.34" r="1.41" fill="#e27d75" opacity="0.85"/>
<circle cx="494.74" cy="89.43" r="1.41" fill="#e27d75" opacity="0.85"/>
<circle cx="500.27" cy="89.92" r="1.41" fill="#e27d75" opacity="0.85"/>
<circle cx="505.80" cy="90.40" r="1.41" fill="#e27d75" opacity="0.85"/>
<circle cx="511.33" cy="90.88" r="1.41" fill="#e27d75" opacity="0.85"/>
<circle cx="516.86" cy="91.37" r="1.41" fill="#e27d75" opacity="0.85"/>
<circle cx="497.09" cy="94.46" r="1.41" fill="#e27d75" opacity="0.85"/>
<circle cx="502.62" cy="94.95" r="1.41" fill="#e27d75" opacity="0.85"/>
<circle cx="508.15" cy="95.43" r="1.41" fill="#e27d75" opacity="0.85"/>
<circle cx="513.67" cy="95.91" r="1.41" fill="#e27d75" opacity="0.85"/>
<circle cx="499.43" cy="99.49" r="1.41" fill="#2b9663" opacity="0.85"/>
<circle cx="504.96" cy="99.98" r="1.41" fill="#e27d75" opacity="0.85"/>
<circle cx="510.49" cy="100.46" r="1.41" fill="#e27d75" opacity="0.85"/>
</g>
<g filter="url(#bl)">
<circle cx="502.00" cy="118.27" r="3.35" fill="#66c398"/>
<circle cx="507.47" cy="119.23" r="3.35" fill="#66c398"/>
<circle cx="512.93" cy="120.20" r="3.35" fill="#1a9ccb"/>
<circle cx="498.44" cy="122.52" r="3.35" fill="#66c398"/>
<circle cx="503.90" cy="123.48" r="3.35" fill="#66c398"/>
<circle cx="509.37" cy="124.45" r="3.35" fill="#66c398"/>
<circle cx="514.83" cy="125.41" r="3.35" fill="#66c398"/>
<circle cx="494.87" cy="126.77" r="3.35" fill="#f6a39b"/>
<circle cx="500.33" cy="127.74" r="3.35" fill="#66c398"/>
<circle cx="505.80" cy="128.70" r="3.35" fill="#66c398"/>
<circle cx="511.27" cy="129.66" r="3.35" fill="#66c398"/>
<circle cx="516.73" cy="130.63" r="3.35" fill="#66c398"/>
<circle cx="496.77" cy="131.99" r="3.35" fill="#f6a39b"/>
<circle cx="502.23" cy="132.95" r="3.35" fill="#66c398"/>
<circle cx="507.70" cy="133.92" r="3.35" fill="#66c398"/>
<circle cx="513.16" cy="134.88" r="3.35" fill="#66c398"/>
<circle cx="498.67" cy="137.20" r="3.35" fill="#66c398"/>
<circle cx="504.13" cy="138.17" r="3.35" fill="#66c398"/>
<circle cx="509.60" cy="139.13" r="3.35" fill="#66c398"/>
<circle cx="502.00" cy="118.27" r="1.41" fill="#2b9663" opacity="0.85"/>
<circle cx="507.47" cy="119.23" r="1.41" fill="#2b9663" opacity="0.85"/>
<circle cx="512.93" cy="120.20" r="1.41" fill="#0b6e9f" opacity="0.85"/>
<circle cx="498.44" cy="122.52" r="1.41" fill="#2b9663" opacity="0.85"/>
<circle cx="503.90" cy="123.48" r="1.41" fill="#2b9663" opacity="0.85"/>
<circle cx="509.37" cy="124.45" r="1.41" fill="#2b9663" opacity="0.85"/>
<circle cx="514.83" cy="125.41" r="1.41" fill="#2b9663" opacity="0.85"/>
<circle cx="494.87" cy="126.77" r="1.41" fill="#e27d75" opacity="0.85"/>
<circle cx="500.33" cy="127.74" r="1.41" fill="#2b9663" opacity="0.85"/>
<circle cx="505.80" cy="128.70" r="1.41" fill="#2b9663" opacity="0.85"/>
<circle cx="511.27" cy="129.66" r="1.41" fill="#2b9663" opacity="0.85"/>
<circle cx="516.73" cy="130.63" r="1.41" fill="#2b9663" opacity="0.85"/>
<circle cx="496.77" cy="131.99" r="1.41" fill="#e27d75" opacity="0.85"/>
<circle cx="502.23" cy="132.95" r="1.41" fill="#2b9663" opacity="0.85"/>
<circle cx="507.70" cy="133.92" r="1.41" fill="#2b9663" opacity="0.85"/>
<circle cx="513.16" cy="134.88" r="1.41" fill="#2b9663" opacity="0.85"/>
<circle cx="498.67" cy="137.20" r="1.41" fill="#2b9663" opacity="0.85"/>
<circle cx="504.13" cy="138.17" r="1.41" fill="#2b9663" opacity="0.85"/>
<circle cx="509.60" cy="139.13" r="1.41" fill="#2b9663" opacity="0.85"/>
</g>
<text x="421.9" y="73.8" font-size="7.2" fill="#3a3a3a" stroke="#3a3a3a" stroke-width="0.12" text-anchor="middle" textLength="20" lengthAdjust="spacingAndGlyphs">ndMM</text>
<text x="505.6" y="34.3" font-size="7.2" fill="#3a3a3a" stroke="#3a3a3a" stroke-width="0.12" text-anchor="middle" textLength="17" lengthAdjust="spacingAndGlyphs">rrMM</text>
<line x1="440.00" y1="83.40" x2="485.10" y2="59.28" stroke="#222" stroke-width="1.0"/>
<path d="M488.80,57.30 L485.95,60.87 L484.25,57.69Z" fill="#222"/>
<line x1="439.50" y1="91.30" x2="485.00" y2="91.30" stroke="#222" stroke-width="1.0"/>
<path d="M489.20,91.30 L485.00,93.10 L485.00,89.50Z" fill="#222"/>
<line x1="440.00" y1="98.75" x2="485.31" y2="123.39" stroke="#222" stroke-width="1.0"/>
<path d="M489.00,125.40 L484.45,124.97 L486.17,121.81Z" fill="#222"/>
<text x="451.75" y="75.30" font-size="7.0" font-style="italic" fill="#2c2c2c" stroke="#2c2c2c" stroke-width="0.15" textLength="15.5" lengthAdjust="spacingAndGlyphs" transform="rotate(-28.15 451.75 75.30)">EZH2</text>
<g transform="translate(466.89 67.31) rotate(-28.15)"><path d="M0,0 L0.9,-5.5 L3.6,0 L5.0,-5.5 L6.4,0 M7.0,0 L8.6,-5.5 L11.2,-5.2 M8.6,-5.5 L11.2,0" fill="none" stroke="#8fb3bc" stroke-width="0.65" stroke-linejoin="round"/></g>
<text x="450.8" y="89.8" font-size="6.6" font-style="italic" fill="#2c2c2c" stroke="#2c2c2c" stroke-width="0.15" textLength="21.4" lengthAdjust="spacingAndGlyphs">DU0X2</text>
<g transform="translate(473.80 89.40) rotate(0.00)"><path d="M0,0 L0.9,-5.5 L3.6,0 L5.0,-5.5 L6.4,0 M7.0,0 L8.6,-5.5 L11.2,-5.2 M8.6,-5.5 L11.2,0" fill="none" stroke="#c99a98" stroke-width="0.65" stroke-linejoin="round"/></g>
<text x="451.26" y="103.06" font-size="7.0" font-style="italic" fill="#2c2c2c" stroke="#2c2c2c" stroke-width="0.15" textLength="16.5" lengthAdjust="spacingAndGlyphs" transform="rotate(28.54 451.26 103.06)">PIGO</text>
<g transform="translate(468.32 112.44) rotate(28.54)"><path d="M0,0 L0.9,-5.5 L3.6,0 L5.0,-5.5 L6.4,0 M7.0,0 L8.6,-5.5 L11.2,-5.2 M8.6,-5.5 L11.2,0" fill="none" stroke="#8fb3a8" stroke-width="0.65" stroke-linejoin="round"/></g>
</svg>
</body></html>
